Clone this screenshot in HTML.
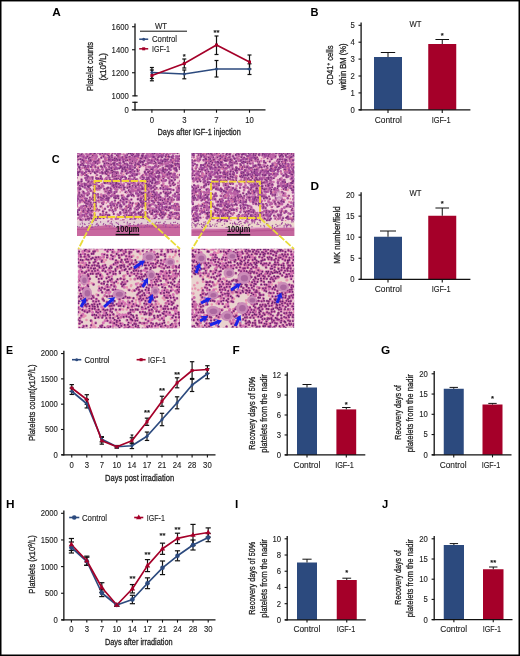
<!DOCTYPE html>
<html lang="en"><head><meta charset="utf-8"><title>Figure</title>
<style>html,body{margin:0;padding:0;background:#fff}body{width:520px;height:656px;overflow:hidden}svg{display:block}text{font-family:"Liberation Sans",sans-serif}</style>
</head><body>
<svg width="520" height="656" viewBox="0 0 520 656">
<rect x="0" y="0" width="520" height="656" fill="#fff"/>
<text transform="translate(52.3 15.5) scale(1 1)" font-size="11.8" font-weight="bold" fill="#000">A</text>
<line x1="135" y1="23.4" x2="135" y2="96.3" stroke="#111" stroke-width="1.3"/>
<line x1="135" y1="101.8" x2="135" y2="110.4" stroke="#111" stroke-width="1.3"/>
<line x1="132.3" y1="95.85" x2="137.6" y2="95.85" stroke="#111" stroke-width="1.2"/>
<line x1="132.3" y1="102.3" x2="137.6" y2="102.3" stroke="#111" stroke-width="1.2"/>
<line x1="131.8" y1="109.85" x2="265.5" y2="109.85" stroke="#111" stroke-width="1.3"/>
<line x1="132" y1="26.75" x2="135" y2="26.75" stroke="#111" stroke-width="1.1"/>
<text x="128.8" y="29.68" font-size="8.6" text-anchor="end" fill="#222" stroke="#222" stroke-width="0.12" textLength="17.21" lengthAdjust="spacingAndGlyphs">1600</text>
<line x1="132" y1="49.75" x2="135" y2="49.75" stroke="#111" stroke-width="1.1"/>
<text x="128.8" y="52.68" font-size="8.6" text-anchor="end" fill="#222" stroke="#222" stroke-width="0.12" textLength="17.21" lengthAdjust="spacingAndGlyphs">1400</text>
<line x1="132" y1="72.75" x2="135" y2="72.75" stroke="#111" stroke-width="1.1"/>
<text x="128.8" y="75.68" font-size="8.6" text-anchor="end" fill="#222" stroke="#222" stroke-width="0.12" textLength="17.21" lengthAdjust="spacingAndGlyphs">1200</text>
<text x="128.8" y="98.68" font-size="8.6" text-anchor="end" fill="#222" stroke="#222" stroke-width="0.12" textLength="17.21" lengthAdjust="spacingAndGlyphs">1000</text>
<text x="128.8" y="112.78" font-size="8.6" text-anchor="end" fill="#222" stroke="#222" stroke-width="0.12" textLength="4.3" lengthAdjust="spacingAndGlyphs">0</text>
<line x1="151.9" y1="109.85" x2="151.9" y2="112.7" stroke="#111" stroke-width="1.1"/>
<text x="151.9" y="122.68" font-size="8.6" text-anchor="middle" fill="#222" stroke="#222" stroke-width="0.12" textLength="4.3" lengthAdjust="spacingAndGlyphs">0</text>
<line x1="184.3" y1="109.85" x2="184.3" y2="112.7" stroke="#111" stroke-width="1.1"/>
<text x="184.3" y="122.68" font-size="8.6" text-anchor="middle" fill="#222" stroke="#222" stroke-width="0.12" textLength="4.3" lengthAdjust="spacingAndGlyphs">3</text>
<line x1="216.5" y1="109.85" x2="216.5" y2="112.7" stroke="#111" stroke-width="1.1"/>
<text x="216.5" y="122.68" font-size="8.6" text-anchor="middle" fill="#222" stroke="#222" stroke-width="0.12" textLength="4.3" lengthAdjust="spacingAndGlyphs">7</text>
<line x1="249.5" y1="109.85" x2="249.5" y2="112.7" stroke="#111" stroke-width="1.1"/>
<text x="249.5" y="122.68" font-size="8.6" text-anchor="middle" fill="#222" stroke="#222" stroke-width="0.12" textLength="8.61" lengthAdjust="spacingAndGlyphs">10</text>
<text x="157.5" y="135.4" font-size="9.9" fill="#222" stroke="#222" stroke-width="0.3" textLength="83.3" lengthAdjust="spacingAndGlyphs">Days after IGF-1 injection</text>
<text transform="translate(93.3 66.5) rotate(-90)" x="-24.5" y="0" font-size="9.9" fill="#222" stroke="#222" stroke-width="0.3" textLength="49" lengthAdjust="spacingAndGlyphs">Platelet counts</text>
<text transform="translate(106.4 66.8) rotate(-90)" x="-13.8" y="0" font-size="9.9" fill="#222" stroke="#222" stroke-width="0.3" textLength="27.6" lengthAdjust="spacingAndGlyphs">(x10<tspan font-size="6" dy="-3">9</tspan><tspan dy="3">/L)</tspan></text>
<text x="161" y="28.6" font-size="8.8" text-anchor="middle" fill="#222" stroke="#222" stroke-width="0.12" textLength="12.2" lengthAdjust="spacingAndGlyphs">WT</text>
<line x1="140" y1="31.2" x2="187" y2="31.2" stroke="#111" stroke-width="1"/>
<line x1="139.2" y1="39.2" x2="148.2" y2="39.2" stroke="#2c4a7e" stroke-width="1.5"/>
<circle cx="143.7" cy="39.2" r="1.5" fill="#2c4a7e"/>
<text x="152" y="42.2" font-size="8.4" text-anchor="start" fill="#222" stroke="#222" stroke-width="0.12" textLength="25" lengthAdjust="spacingAndGlyphs">Control</text>
<line x1="139.2" y1="48.8" x2="148.2" y2="48.8" stroke="#a50029" stroke-width="1.5"/>
<rect x="142.2" y="47.3" width="3" height="3" fill="#a50029"/>
<text x="152" y="51.8" font-size="8.4" text-anchor="start" fill="#222" stroke="#222" stroke-width="0.12" textLength="18" lengthAdjust="spacingAndGlyphs">IGF-1</text>
<line x1="151.9" y1="67.5" x2="151.9" y2="78.5" stroke="#111" stroke-width="1.2"/>
<line x1="149.9" y1="67.5" x2="153.9" y2="67.5" stroke="#111" stroke-width="1.2"/>
<line x1="149.9" y1="78.5" x2="153.9" y2="78.5" stroke="#111" stroke-width="1.2"/>
<line x1="184.3" y1="70" x2="184.3" y2="78.8" stroke="#111" stroke-width="1.2"/>
<line x1="182.3" y1="70" x2="186.3" y2="70" stroke="#111" stroke-width="1.2"/>
<line x1="182.3" y1="78.8" x2="186.3" y2="78.8" stroke="#111" stroke-width="1.2"/>
<line x1="216.5" y1="60.5" x2="216.5" y2="77" stroke="#111" stroke-width="1.2"/>
<line x1="214.5" y1="60.5" x2="218.5" y2="60.5" stroke="#111" stroke-width="1.2"/>
<line x1="214.5" y1="77" x2="218.5" y2="77" stroke="#111" stroke-width="1.2"/>
<line x1="249.5" y1="63.8" x2="249.5" y2="74.5" stroke="#111" stroke-width="1.2"/>
<line x1="247.5" y1="63.8" x2="251.5" y2="63.8" stroke="#111" stroke-width="1.2"/>
<line x1="247.5" y1="74.5" x2="251.5" y2="74.5" stroke="#111" stroke-width="1.2"/>
<line x1="151.9" y1="70" x2="151.9" y2="80.8" stroke="#111" stroke-width="1.2"/>
<line x1="149.9" y1="70" x2="153.9" y2="70" stroke="#111" stroke-width="1.2"/>
<line x1="149.9" y1="80.8" x2="153.9" y2="80.8" stroke="#111" stroke-width="1.2"/>
<line x1="184.3" y1="59" x2="184.3" y2="68" stroke="#111" stroke-width="1.2"/>
<line x1="182.3" y1="59" x2="186.3" y2="59" stroke="#111" stroke-width="1.2"/>
<line x1="182.3" y1="68" x2="186.3" y2="68" stroke="#111" stroke-width="1.2"/>
<line x1="216.5" y1="36" x2="216.5" y2="54.5" stroke="#111" stroke-width="1.2"/>
<line x1="214.5" y1="36" x2="218.5" y2="36" stroke="#111" stroke-width="1.2"/>
<line x1="214.5" y1="54.5" x2="218.5" y2="54.5" stroke="#111" stroke-width="1.2"/>
<line x1="249.5" y1="55" x2="249.5" y2="69" stroke="#111" stroke-width="1.2"/>
<line x1="247.5" y1="55" x2="251.5" y2="55" stroke="#111" stroke-width="1.2"/>
<line x1="247.5" y1="69" x2="251.5" y2="69" stroke="#111" stroke-width="1.2"/>
<polyline fill="none" stroke="#2c4a7e" stroke-width="1.6" points="151.9,72.5 184.3,74 216.5,69 249.5,69"/>
<polyline fill="none" stroke="#a50029" stroke-width="1.6" points="151.9,75.5 184.3,63.5 216.5,45 249.5,62"/>
<circle cx="151.9" cy="72.5" r="1.5" fill="#2c4a7e"/>
<circle cx="184.3" cy="74" r="1.5" fill="#2c4a7e"/>
<circle cx="216.5" cy="69" r="1.5" fill="#2c4a7e"/>
<circle cx="249.5" cy="69" r="1.5" fill="#2c4a7e"/>
<rect x="150.4" y="74" width="3" height="3" fill="#a50029"/>
<rect x="182.8" y="62" width="3" height="3" fill="#a50029"/>
<rect x="215" y="43.5" width="3" height="3" fill="#a50029"/>
<rect x="248" y="60.5" width="3" height="3" fill="#a50029"/>
<text x="184.3" y="59.3" font-size="7.6" text-anchor="middle" font-weight="bold" fill="#111" stroke="#111" stroke-width="0.12">*</text>
<text x="216.5" y="35.3" font-size="7.6" text-anchor="middle" font-weight="bold" fill="#111" stroke="#111" stroke-width="0.12">**</text>
<text transform="translate(310.5 15.5) scale(0.94 1)" font-size="11.8" font-weight="bold" fill="#000">B</text>
<rect x="374" y="57" width="28" height="52.8" fill="#2c4a7e"/>
<line x1="388" y1="52.5" x2="388" y2="57" stroke="#111" stroke-width="1"/>
<line x1="380.8" y1="52.5" x2="395.2" y2="52.5" stroke="#111" stroke-width="1"/>
<rect x="428.25" y="44" width="28" height="65.8" fill="#a50029"/>
<line x1="442.25" y1="39.5" x2="442.25" y2="44" stroke="#111" stroke-width="1"/>
<line x1="435.45" y1="39.5" x2="449.05" y2="39.5" stroke="#111" stroke-width="1"/>
<text x="442.25" y="38.4" font-size="7.6" text-anchor="middle" font-weight="bold" fill="#111" stroke="#111" stroke-width="0.12">*</text>
<line x1="361.1" y1="22.4" x2="361.1" y2="110.4" stroke="#111" stroke-width="1.3"/>
<line x1="358.7" y1="109.8" x2="470.4" y2="109.8" stroke="#111" stroke-width="1.3"/>
<line x1="358.5" y1="109.8" x2="361.1" y2="109.8" stroke="#111" stroke-width="1.1"/>
<text x="354.8" y="112.73" font-size="8.6" text-anchor="end" fill="#222" stroke="#222" stroke-width="0.12" textLength="4.3" lengthAdjust="spacingAndGlyphs">0</text>
<line x1="358.5" y1="92.9" x2="361.1" y2="92.9" stroke="#111" stroke-width="1.1"/>
<text x="354.8" y="95.83" font-size="8.6" text-anchor="end" fill="#222" stroke="#222" stroke-width="0.12" textLength="4.3" lengthAdjust="spacingAndGlyphs">1</text>
<line x1="358.5" y1="76" x2="361.1" y2="76" stroke="#111" stroke-width="1.1"/>
<text x="354.8" y="78.93" font-size="8.6" text-anchor="end" fill="#222" stroke="#222" stroke-width="0.12" textLength="4.3" lengthAdjust="spacingAndGlyphs">2</text>
<line x1="358.5" y1="59.1" x2="361.1" y2="59.1" stroke="#111" stroke-width="1.1"/>
<text x="354.8" y="62.03" font-size="8.6" text-anchor="end" fill="#222" stroke="#222" stroke-width="0.12" textLength="4.3" lengthAdjust="spacingAndGlyphs">3</text>
<line x1="358.5" y1="42.2" x2="361.1" y2="42.2" stroke="#111" stroke-width="1.1"/>
<text x="354.8" y="45.13" font-size="8.6" text-anchor="end" fill="#222" stroke="#222" stroke-width="0.12" textLength="4.3" lengthAdjust="spacingAndGlyphs">4</text>
<line x1="358.5" y1="25.3" x2="361.1" y2="25.3" stroke="#111" stroke-width="1.1"/>
<text x="354.8" y="28.23" font-size="8.6" text-anchor="end" fill="#222" stroke="#222" stroke-width="0.12" textLength="4.3" lengthAdjust="spacingAndGlyphs">5</text>
<line x1="388" y1="109.8" x2="388" y2="113" stroke="#111" stroke-width="1.1"/>
<text x="388.25" y="122.68" font-size="8.6" text-anchor="middle" fill="#222" stroke="#222" stroke-width="0.12" textLength="27.1" lengthAdjust="spacingAndGlyphs">Control</text>
<line x1="442.25" y1="109.8" x2="442.25" y2="113" stroke="#111" stroke-width="1.1"/>
<text x="441.2" y="122.68" font-size="8.6" text-anchor="middle" fill="#222" stroke="#222" stroke-width="0.12" textLength="19" lengthAdjust="spacingAndGlyphs">IGF-1</text>
<text x="415.4" y="26.65" font-size="8.6" text-anchor="middle" fill="#222" stroke="#222" stroke-width="0.12" textLength="12" lengthAdjust="spacingAndGlyphs">WT</text>
<text transform="translate(332.9 65.3) rotate(-90)" x="-19.75" y="0" font-size="9.9" fill="#222" stroke="#222" stroke-width="0.3" textLength="39.5" lengthAdjust="spacingAndGlyphs">CD41<tspan font-size="6" dy="-3">+</tspan><tspan dy="3"> cells</tspan></text>
<text transform="translate(345.9 66.8) rotate(-90)" x="-23.25" y="0" font-size="9.9" fill="#222" stroke="#222" stroke-width="0.3" textLength="46.5" lengthAdjust="spacingAndGlyphs">within BM (%)</text>
<text transform="translate(310.5 189.9) scale(1 1)" font-size="11.8" font-weight="bold" fill="#000">D</text>
<rect x="374" y="236.75" width="28" height="42.55" fill="#2c4a7e"/>
<line x1="388" y1="231" x2="388" y2="236.75" stroke="#111" stroke-width="1"/>
<line x1="380" y1="231" x2="396" y2="231" stroke="#111" stroke-width="1"/>
<rect x="428.25" y="215.75" width="28" height="63.55" fill="#a50029"/>
<line x1="442.25" y1="208" x2="442.25" y2="215.75" stroke="#111" stroke-width="1"/>
<line x1="435.45" y1="208" x2="449.05" y2="208" stroke="#111" stroke-width="1"/>
<text x="442.25" y="205.9" font-size="7.6" text-anchor="middle" font-weight="bold" fill="#111" stroke="#111" stroke-width="0.12">*</text>
<line x1="361.1" y1="192.2" x2="361.1" y2="279.9" stroke="#111" stroke-width="1.3"/>
<line x1="358.7" y1="279.3" x2="470.4" y2="279.3" stroke="#111" stroke-width="1.3"/>
<line x1="358.5" y1="279.3" x2="361.1" y2="279.3" stroke="#111" stroke-width="1.1"/>
<text x="354.6" y="282.23" font-size="8.6" text-anchor="end" fill="#222" stroke="#222" stroke-width="0.12" textLength="4.3" lengthAdjust="spacingAndGlyphs">0</text>
<line x1="358.5" y1="258.25" x2="361.1" y2="258.25" stroke="#111" stroke-width="1.1"/>
<text x="354.6" y="261.18" font-size="8.6" text-anchor="end" fill="#222" stroke="#222" stroke-width="0.12" textLength="4.3" lengthAdjust="spacingAndGlyphs">5</text>
<line x1="358.5" y1="237.2" x2="361.1" y2="237.2" stroke="#111" stroke-width="1.1"/>
<text x="354.6" y="240.13" font-size="8.6" text-anchor="end" fill="#222" stroke="#222" stroke-width="0.12" textLength="8.61" lengthAdjust="spacingAndGlyphs">10</text>
<line x1="358.5" y1="216.15" x2="361.1" y2="216.15" stroke="#111" stroke-width="1.1"/>
<text x="354.6" y="219.08" font-size="8.6" text-anchor="end" fill="#222" stroke="#222" stroke-width="0.12" textLength="8.61" lengthAdjust="spacingAndGlyphs">15</text>
<line x1="358.5" y1="195.1" x2="361.1" y2="195.1" stroke="#111" stroke-width="1.1"/>
<text x="354.6" y="198.03" font-size="8.6" text-anchor="end" fill="#222" stroke="#222" stroke-width="0.12" textLength="8.61" lengthAdjust="spacingAndGlyphs">20</text>
<line x1="388" y1="279.3" x2="388" y2="282.5" stroke="#111" stroke-width="1.1"/>
<text x="388.25" y="292.18" font-size="8.6" text-anchor="middle" fill="#222" stroke="#222" stroke-width="0.12" textLength="27.1" lengthAdjust="spacingAndGlyphs">Control</text>
<line x1="442.25" y1="279.3" x2="442.25" y2="282.5" stroke="#111" stroke-width="1.1"/>
<text x="441.2" y="292.18" font-size="8.6" text-anchor="middle" fill="#222" stroke="#222" stroke-width="0.12" textLength="19" lengthAdjust="spacingAndGlyphs">IGF-1</text>
<text x="415.4" y="195.9" font-size="8.6" text-anchor="middle" fill="#222" stroke="#222" stroke-width="0.12" textLength="12" lengthAdjust="spacingAndGlyphs">WT</text>
<text transform="translate(340.1 235.1) rotate(-90)" x="-28.65" y="0" font-size="9.9" fill="#222" stroke="#222" stroke-width="0.3" textLength="57.3" lengthAdjust="spacingAndGlyphs">MK number/field</text>
<text transform="translate(232.5 354.3) scale(1 1)" font-size="11.8" font-weight="bold" fill="#000">F</text>
<rect x="297" y="387.5" width="20" height="67.4" fill="#2c4a7e"/>
<line x1="307" y1="384.5" x2="307" y2="387.5" stroke="#111" stroke-width="1"/>
<line x1="302.5" y1="384.5" x2="311.5" y2="384.5" stroke="#111" stroke-width="1"/>
<rect x="336.4" y="409.4" width="19.8" height="45.5" fill="#a50029"/>
<line x1="346.3" y1="407.5" x2="346.3" y2="409.4" stroke="#111" stroke-width="1"/>
<line x1="342.1" y1="407.5" x2="350.5" y2="407.5" stroke="#111" stroke-width="1"/>
<text x="346.3" y="406.6" font-size="7.6" text-anchor="middle" font-weight="bold" fill="#111" stroke="#111" stroke-width="0.12">*</text>
<line x1="287.2" y1="372.2" x2="287.2" y2="455.5" stroke="#111" stroke-width="1.3"/>
<line x1="284.8" y1="454.9" x2="365.3" y2="454.9" stroke="#111" stroke-width="1.3"/>
<line x1="284.6" y1="454.9" x2="287.2" y2="454.9" stroke="#111" stroke-width="1.1"/>
<text x="281.1" y="457.83" font-size="8.6" text-anchor="end" fill="#222" stroke="#222" stroke-width="0.12" textLength="4.3" lengthAdjust="spacingAndGlyphs">0</text>
<line x1="284.6" y1="434.95" x2="287.2" y2="434.95" stroke="#111" stroke-width="1.1"/>
<text x="281.1" y="437.88" font-size="8.6" text-anchor="end" fill="#222" stroke="#222" stroke-width="0.12" textLength="4.3" lengthAdjust="spacingAndGlyphs">3</text>
<line x1="284.6" y1="415" x2="287.2" y2="415" stroke="#111" stroke-width="1.1"/>
<text x="281.1" y="417.93" font-size="8.6" text-anchor="end" fill="#222" stroke="#222" stroke-width="0.12" textLength="4.3" lengthAdjust="spacingAndGlyphs">6</text>
<line x1="284.6" y1="395.05" x2="287.2" y2="395.05" stroke="#111" stroke-width="1.1"/>
<text x="281.1" y="397.98" font-size="8.6" text-anchor="end" fill="#222" stroke="#222" stroke-width="0.12" textLength="4.3" lengthAdjust="spacingAndGlyphs">9</text>
<line x1="284.6" y1="375.1" x2="287.2" y2="375.1" stroke="#111" stroke-width="1.1"/>
<text x="281.1" y="378.03" font-size="8.6" text-anchor="end" fill="#222" stroke="#222" stroke-width="0.12" textLength="8.61" lengthAdjust="spacingAndGlyphs">12</text>
<line x1="307" y1="454.9" x2="307" y2="457.5" stroke="#111" stroke-width="1.1"/>
<text x="306.88" y="468.18" font-size="8.6" text-anchor="middle" fill="#222" stroke="#222" stroke-width="0.12" textLength="26.85" lengthAdjust="spacingAndGlyphs">Control</text>
<line x1="346.3" y1="454.9" x2="346.3" y2="457.5" stroke="#111" stroke-width="1.1"/>
<text x="344.5" y="468.18" font-size="8.6" text-anchor="middle" fill="#222" stroke="#222" stroke-width="0.12" textLength="18.6" lengthAdjust="spacingAndGlyphs">IGF-1</text>
<text transform="translate(255 413.2) rotate(-90)" x="-36.5" y="0" font-size="9.9" fill="#222" stroke="#222" stroke-width="0.3" textLength="73" lengthAdjust="spacingAndGlyphs">Recovery days of 50%</text>
<text transform="translate(266.8 413.5) rotate(-90)" x="-39.25" y="0" font-size="9.9" fill="#222" stroke="#222" stroke-width="0.3" textLength="78.5" lengthAdjust="spacingAndGlyphs">platelets from the nadir</text>
<text transform="translate(381.1 354.3) scale(1 1)" font-size="11.8" font-weight="bold" fill="#000">G</text>
<rect x="443.75" y="388.75" width="20" height="66.05" fill="#2c4a7e"/>
<line x1="453.75" y1="387.4" x2="453.75" y2="388.75" stroke="#111" stroke-width="1"/>
<line x1="449.55" y1="387.4" x2="457.95" y2="387.4" stroke="#111" stroke-width="1"/>
<rect x="482.5" y="404.5" width="20" height="50.3" fill="#a50029"/>
<line x1="492.5" y1="403.4" x2="492.5" y2="404.5" stroke="#111" stroke-width="1"/>
<line x1="488.3" y1="403.4" x2="496.7" y2="403.4" stroke="#111" stroke-width="1"/>
<text x="492.5" y="401.4" font-size="7.6" text-anchor="middle" font-weight="bold" fill="#111" stroke="#111" stroke-width="0.12">*</text>
<line x1="434.2" y1="370.9" x2="434.2" y2="455.4" stroke="#111" stroke-width="1.3"/>
<line x1="431.8" y1="454.8" x2="511.5" y2="454.8" stroke="#111" stroke-width="1.3"/>
<line x1="431.6" y1="454.8" x2="434.2" y2="454.8" stroke="#111" stroke-width="1.1"/>
<text x="427.8" y="457.73" font-size="8.6" text-anchor="end" fill="#222" stroke="#222" stroke-width="0.12" textLength="4.3" lengthAdjust="spacingAndGlyphs">0</text>
<line x1="431.6" y1="434.55" x2="434.2" y2="434.55" stroke="#111" stroke-width="1.1"/>
<text x="427.8" y="437.48" font-size="8.6" text-anchor="end" fill="#222" stroke="#222" stroke-width="0.12" textLength="4.3" lengthAdjust="spacingAndGlyphs">5</text>
<line x1="431.6" y1="414.3" x2="434.2" y2="414.3" stroke="#111" stroke-width="1.1"/>
<text x="427.8" y="417.23" font-size="8.6" text-anchor="end" fill="#222" stroke="#222" stroke-width="0.12" textLength="8.61" lengthAdjust="spacingAndGlyphs">10</text>
<line x1="431.6" y1="394.05" x2="434.2" y2="394.05" stroke="#111" stroke-width="1.1"/>
<text x="427.8" y="396.98" font-size="8.6" text-anchor="end" fill="#222" stroke="#222" stroke-width="0.12" textLength="8.61" lengthAdjust="spacingAndGlyphs">15</text>
<line x1="431.6" y1="373.8" x2="434.2" y2="373.8" stroke="#111" stroke-width="1.1"/>
<text x="427.8" y="376.73" font-size="8.6" text-anchor="end" fill="#222" stroke="#222" stroke-width="0.12" textLength="8.61" lengthAdjust="spacingAndGlyphs">20</text>
<line x1="453.75" y1="454.8" x2="453.75" y2="457.4" stroke="#111" stroke-width="1.1"/>
<text x="453.12" y="468.18" font-size="8.6" text-anchor="middle" fill="#222" stroke="#222" stroke-width="0.12" textLength="26.85" lengthAdjust="spacingAndGlyphs">Control</text>
<line x1="492.5" y1="454.8" x2="492.5" y2="457.4" stroke="#111" stroke-width="1.1"/>
<text x="491" y="468.18" font-size="8.6" text-anchor="middle" fill="#222" stroke="#222" stroke-width="0.12" textLength="18.6" lengthAdjust="spacingAndGlyphs">IGF-1</text>
<text transform="translate(400.9 412.4) rotate(-90)" x="-27.25" y="0" font-size="9.9" fill="#222" stroke="#222" stroke-width="0.3" textLength="54.5" lengthAdjust="spacingAndGlyphs">Recovery days of</text>
<text transform="translate(412.6 413.2) rotate(-90)" x="-39" y="0" font-size="9.9" fill="#222" stroke="#222" stroke-width="0.3" textLength="78" lengthAdjust="spacingAndGlyphs">platelets from the nadir</text>
<text transform="translate(234.9 508.1) scale(1 1)" font-size="11.8" font-weight="bold" fill="#000">I</text>
<rect x="297" y="562.5" width="20" height="57.4" fill="#2c4a7e"/>
<line x1="307" y1="559.2" x2="307" y2="562.5" stroke="#111" stroke-width="1"/>
<line x1="302.4" y1="559.2" x2="311.6" y2="559.2" stroke="#111" stroke-width="1"/>
<rect x="336.75" y="580" width="20" height="39.9" fill="#a50029"/>
<line x1="346.75" y1="578.2" x2="346.75" y2="580" stroke="#111" stroke-width="1"/>
<line x1="342.35" y1="578.2" x2="351.15" y2="578.2" stroke="#111" stroke-width="1"/>
<text x="346.75" y="575.4" font-size="7.6" text-anchor="middle" font-weight="bold" fill="#111" stroke="#111" stroke-width="0.12">*</text>
<line x1="287.2" y1="535.9" x2="287.2" y2="620.5" stroke="#111" stroke-width="1.3"/>
<line x1="284.8" y1="619.9" x2="365.8" y2="619.9" stroke="#111" stroke-width="1.3"/>
<line x1="284.6" y1="619.9" x2="287.2" y2="619.9" stroke="#111" stroke-width="1.1"/>
<text x="281.1" y="622.83" font-size="8.6" text-anchor="end" fill="#222" stroke="#222" stroke-width="0.12" textLength="4.3" lengthAdjust="spacingAndGlyphs">0</text>
<line x1="284.6" y1="603.68" x2="287.2" y2="603.68" stroke="#111" stroke-width="1.1"/>
<text x="281.1" y="606.61" font-size="8.6" text-anchor="end" fill="#222" stroke="#222" stroke-width="0.12" textLength="4.3" lengthAdjust="spacingAndGlyphs">2</text>
<line x1="284.6" y1="587.46" x2="287.2" y2="587.46" stroke="#111" stroke-width="1.1"/>
<text x="281.1" y="590.39" font-size="8.6" text-anchor="end" fill="#222" stroke="#222" stroke-width="0.12" textLength="4.3" lengthAdjust="spacingAndGlyphs">4</text>
<line x1="284.6" y1="571.24" x2="287.2" y2="571.24" stroke="#111" stroke-width="1.1"/>
<text x="281.1" y="574.17" font-size="8.6" text-anchor="end" fill="#222" stroke="#222" stroke-width="0.12" textLength="4.3" lengthAdjust="spacingAndGlyphs">6</text>
<line x1="284.6" y1="555.02" x2="287.2" y2="555.02" stroke="#111" stroke-width="1.1"/>
<text x="281.1" y="557.95" font-size="8.6" text-anchor="end" fill="#222" stroke="#222" stroke-width="0.12" textLength="4.3" lengthAdjust="spacingAndGlyphs">8</text>
<line x1="284.6" y1="538.8" x2="287.2" y2="538.8" stroke="#111" stroke-width="1.1"/>
<text x="281.1" y="541.73" font-size="8.6" text-anchor="end" fill="#222" stroke="#222" stroke-width="0.12" textLength="8.61" lengthAdjust="spacingAndGlyphs">10</text>
<line x1="307" y1="619.9" x2="307" y2="622.5" stroke="#111" stroke-width="1.1"/>
<text x="306.88" y="632.28" font-size="8.6" text-anchor="middle" fill="#222" stroke="#222" stroke-width="0.12" textLength="26.85" lengthAdjust="spacingAndGlyphs">Control</text>
<line x1="346.75" y1="619.9" x2="346.75" y2="622.5" stroke="#111" stroke-width="1.1"/>
<text x="346" y="632.28" font-size="8.6" text-anchor="middle" fill="#222" stroke="#222" stroke-width="0.12" textLength="18.6" lengthAdjust="spacingAndGlyphs">IGF-1</text>
<text transform="translate(255 578.2) rotate(-90)" x="-36.5" y="0" font-size="9.9" fill="#222" stroke="#222" stroke-width="0.3" textLength="73" lengthAdjust="spacingAndGlyphs">Recovery days of 50%</text>
<text transform="translate(266.8 578.5) rotate(-90)" x="-39.25" y="0" font-size="9.9" fill="#222" stroke="#222" stroke-width="0.3" textLength="78.5" lengthAdjust="spacingAndGlyphs">platelets from the nadir</text>
<text transform="translate(381.9 508.1) scale(0.95 1)" font-size="11.8" font-weight="bold" fill="#000">J</text>
<rect x="443.75" y="545" width="20.25" height="74.6" fill="#2c4a7e"/>
<line x1="453.88" y1="543.6" x2="453.88" y2="545" stroke="#111" stroke-width="1"/>
<line x1="449.68" y1="543.6" x2="458.07" y2="543.6" stroke="#111" stroke-width="1"/>
<rect x="483" y="569.25" width="20.5" height="50.35" fill="#a50029"/>
<line x1="493.25" y1="567" x2="493.25" y2="569.25" stroke="#111" stroke-width="1"/>
<line x1="489.05" y1="567" x2="497.45" y2="567" stroke="#111" stroke-width="1"/>
<text x="493.25" y="564.6" font-size="7.6" text-anchor="middle" font-weight="bold" fill="#111" stroke="#111" stroke-width="0.12">**</text>
<line x1="434.2" y1="535.9" x2="434.2" y2="620.2" stroke="#111" stroke-width="1.3"/>
<line x1="431.8" y1="619.6" x2="512.5" y2="619.6" stroke="#111" stroke-width="1.3"/>
<line x1="431.6" y1="619.6" x2="434.2" y2="619.6" stroke="#111" stroke-width="1.1"/>
<text x="427.8" y="622.53" font-size="8.6" text-anchor="end" fill="#222" stroke="#222" stroke-width="0.12" textLength="4.3" lengthAdjust="spacingAndGlyphs">0</text>
<line x1="431.6" y1="599.4" x2="434.2" y2="599.4" stroke="#111" stroke-width="1.1"/>
<text x="427.8" y="602.33" font-size="8.6" text-anchor="end" fill="#222" stroke="#222" stroke-width="0.12" textLength="4.3" lengthAdjust="spacingAndGlyphs">5</text>
<line x1="431.6" y1="579.2" x2="434.2" y2="579.2" stroke="#111" stroke-width="1.1"/>
<text x="427.8" y="582.13" font-size="8.6" text-anchor="end" fill="#222" stroke="#222" stroke-width="0.12" textLength="8.61" lengthAdjust="spacingAndGlyphs">10</text>
<line x1="431.6" y1="559" x2="434.2" y2="559" stroke="#111" stroke-width="1.1"/>
<text x="427.8" y="561.93" font-size="8.6" text-anchor="end" fill="#222" stroke="#222" stroke-width="0.12" textLength="8.61" lengthAdjust="spacingAndGlyphs">15</text>
<line x1="431.6" y1="538.8" x2="434.2" y2="538.8" stroke="#111" stroke-width="1.1"/>
<text x="427.8" y="541.73" font-size="8.6" text-anchor="end" fill="#222" stroke="#222" stroke-width="0.12" textLength="8.61" lengthAdjust="spacingAndGlyphs">20</text>
<line x1="453.88" y1="619.6" x2="453.88" y2="622.2" stroke="#111" stroke-width="1.1"/>
<text x="453.62" y="632.28" font-size="8.6" text-anchor="middle" fill="#222" stroke="#222" stroke-width="0.12" textLength="26.85" lengthAdjust="spacingAndGlyphs">Control</text>
<line x1="493.25" y1="619.6" x2="493.25" y2="622.2" stroke="#111" stroke-width="1.1"/>
<text x="491.88" y="632.28" font-size="8.6" text-anchor="middle" fill="#222" stroke="#222" stroke-width="0.12" textLength="18.35" lengthAdjust="spacingAndGlyphs">IGF-1</text>
<text transform="translate(400.9 577.4) rotate(-90)" x="-27.25" y="0" font-size="9.9" fill="#222" stroke="#222" stroke-width="0.3" textLength="54.5" lengthAdjust="spacingAndGlyphs">Recovery days of</text>
<text transform="translate(412.6 578.2) rotate(-90)" x="-39" y="0" font-size="9.9" fill="#222" stroke="#222" stroke-width="0.3" textLength="78" lengthAdjust="spacingAndGlyphs">platelets from the nadir</text>
<text transform="translate(6.1 354.1) scale(0.9 1)" font-size="11.8" font-weight="bold" fill="#000">E</text>
<line x1="63.85" y1="350.86" x2="63.85" y2="455.4" stroke="#111" stroke-width="1.3"/>
<line x1="61.45" y1="454.8" x2="215.5" y2="454.8" stroke="#111" stroke-width="1.3"/>
<line x1="61.05" y1="454.8" x2="63.85" y2="454.8" stroke="#111" stroke-width="1.1"/>
<text x="57.9" y="457.73" font-size="8.6" text-anchor="end" fill="#222" stroke="#222" stroke-width="0.12" textLength="4.3" lengthAdjust="spacingAndGlyphs">0</text>
<line x1="61.05" y1="429.49" x2="63.85" y2="429.49" stroke="#111" stroke-width="1.1"/>
<text x="57.9" y="432.42" font-size="8.6" text-anchor="end" fill="#222" stroke="#222" stroke-width="0.12" textLength="12.91" lengthAdjust="spacingAndGlyphs">500</text>
<line x1="61.05" y1="404.18" x2="63.85" y2="404.18" stroke="#111" stroke-width="1.1"/>
<text x="57.9" y="407.11" font-size="8.6" text-anchor="end" fill="#222" stroke="#222" stroke-width="0.12" textLength="17.21" lengthAdjust="spacingAndGlyphs">1000</text>
<line x1="61.05" y1="378.87" x2="63.85" y2="378.87" stroke="#111" stroke-width="1.1"/>
<text x="57.9" y="381.8" font-size="8.6" text-anchor="end" fill="#222" stroke="#222" stroke-width="0.12" textLength="17.21" lengthAdjust="spacingAndGlyphs">1500</text>
<line x1="61.05" y1="353.56" x2="63.85" y2="353.56" stroke="#111" stroke-width="1.1"/>
<text x="57.9" y="356.49" font-size="8.6" text-anchor="end" fill="#222" stroke="#222" stroke-width="0.12" textLength="17.21" lengthAdjust="spacingAndGlyphs">2000</text>
<line x1="71.75" y1="454.8" x2="71.75" y2="457.5" stroke="#111" stroke-width="1.1"/>
<text x="71.75" y="467.68" font-size="8.6" text-anchor="middle" fill="#222" stroke="#222" stroke-width="0.12" textLength="4.3" lengthAdjust="spacingAndGlyphs">0</text>
<line x1="86.8" y1="454.8" x2="86.8" y2="457.5" stroke="#111" stroke-width="1.1"/>
<text x="86.8" y="467.68" font-size="8.6" text-anchor="middle" fill="#222" stroke="#222" stroke-width="0.12" textLength="4.3" lengthAdjust="spacingAndGlyphs">3</text>
<line x1="101.8" y1="454.8" x2="101.8" y2="457.5" stroke="#111" stroke-width="1.1"/>
<text x="101.8" y="467.68" font-size="8.6" text-anchor="middle" fill="#222" stroke="#222" stroke-width="0.12" textLength="4.3" lengthAdjust="spacingAndGlyphs">7</text>
<line x1="116.8" y1="454.8" x2="116.8" y2="457.5" stroke="#111" stroke-width="1.1"/>
<text x="116.8" y="467.68" font-size="8.6" text-anchor="middle" fill="#222" stroke="#222" stroke-width="0.12" textLength="8.61" lengthAdjust="spacingAndGlyphs">10</text>
<line x1="131.9" y1="454.8" x2="131.9" y2="457.5" stroke="#111" stroke-width="1.1"/>
<text x="131.9" y="467.68" font-size="8.6" text-anchor="middle" fill="#222" stroke="#222" stroke-width="0.12" textLength="8.61" lengthAdjust="spacingAndGlyphs">14</text>
<line x1="147" y1="454.8" x2="147" y2="457.5" stroke="#111" stroke-width="1.1"/>
<text x="147" y="467.68" font-size="8.6" text-anchor="middle" fill="#222" stroke="#222" stroke-width="0.12" textLength="8.61" lengthAdjust="spacingAndGlyphs">17</text>
<line x1="162" y1="454.8" x2="162" y2="457.5" stroke="#111" stroke-width="1.1"/>
<text x="162" y="467.68" font-size="8.6" text-anchor="middle" fill="#222" stroke="#222" stroke-width="0.12" textLength="8.61" lengthAdjust="spacingAndGlyphs">21</text>
<line x1="177.1" y1="454.8" x2="177.1" y2="457.5" stroke="#111" stroke-width="1.1"/>
<text x="177.1" y="467.68" font-size="8.6" text-anchor="middle" fill="#222" stroke="#222" stroke-width="0.12" textLength="8.61" lengthAdjust="spacingAndGlyphs">24</text>
<line x1="192.1" y1="454.8" x2="192.1" y2="457.5" stroke="#111" stroke-width="1.1"/>
<text x="192.1" y="467.68" font-size="8.6" text-anchor="middle" fill="#222" stroke="#222" stroke-width="0.12" textLength="8.61" lengthAdjust="spacingAndGlyphs">28</text>
<line x1="207.4" y1="454.8" x2="207.4" y2="457.5" stroke="#111" stroke-width="1.1"/>
<text x="207.4" y="467.68" font-size="8.6" text-anchor="middle" fill="#222" stroke="#222" stroke-width="0.12" textLength="8.61" lengthAdjust="spacingAndGlyphs">30</text>
<line x1="71.75" y1="388.05" x2="71.75" y2="394.45" stroke="#111" stroke-width="1.2"/>
<line x1="69.55" y1="388.05" x2="73.95" y2="388.05" stroke="#111" stroke-width="1.2"/>
<line x1="69.55" y1="394.45" x2="73.95" y2="394.45" stroke="#111" stroke-width="1.2"/>
<line x1="86.8" y1="399.55" x2="86.8" y2="407.95" stroke="#111" stroke-width="1.2"/>
<line x1="84.6" y1="399.55" x2="89" y2="399.55" stroke="#111" stroke-width="1.2"/>
<line x1="84.6" y1="407.95" x2="89" y2="407.95" stroke="#111" stroke-width="1.2"/>
<line x1="101.8" y1="436.65" x2="101.8" y2="441.85" stroke="#111" stroke-width="1.2"/>
<line x1="99.6" y1="436.65" x2="104" y2="436.65" stroke="#111" stroke-width="1.2"/>
<line x1="99.6" y1="441.85" x2="104" y2="441.85" stroke="#111" stroke-width="1.2"/>
<line x1="116.8" y1="445.55" x2="116.8" y2="447.95" stroke="#111" stroke-width="1.2"/>
<line x1="114.6" y1="445.55" x2="119" y2="445.55" stroke="#111" stroke-width="1.2"/>
<line x1="114.6" y1="447.95" x2="119" y2="447.95" stroke="#111" stroke-width="1.2"/>
<line x1="131.9" y1="442.95" x2="131.9" y2="448.55" stroke="#111" stroke-width="1.2"/>
<line x1="129.7" y1="442.95" x2="134.1" y2="442.95" stroke="#111" stroke-width="1.2"/>
<line x1="129.7" y1="448.55" x2="134.1" y2="448.55" stroke="#111" stroke-width="1.2"/>
<line x1="147" y1="432.05" x2="147" y2="440.45" stroke="#111" stroke-width="1.2"/>
<line x1="144.8" y1="432.05" x2="149.2" y2="432.05" stroke="#111" stroke-width="1.2"/>
<line x1="144.8" y1="440.45" x2="149.2" y2="440.45" stroke="#111" stroke-width="1.2"/>
<line x1="162" y1="413.3" x2="162" y2="425.7" stroke="#111" stroke-width="1.2"/>
<line x1="159.8" y1="413.3" x2="164.2" y2="413.3" stroke="#111" stroke-width="1.2"/>
<line x1="159.8" y1="425.7" x2="164.2" y2="425.7" stroke="#111" stroke-width="1.2"/>
<line x1="177.1" y1="396.8" x2="177.1" y2="408.8" stroke="#111" stroke-width="1.2"/>
<line x1="174.9" y1="396.8" x2="179.3" y2="396.8" stroke="#111" stroke-width="1.2"/>
<line x1="174.9" y1="408.8" x2="179.3" y2="408.8" stroke="#111" stroke-width="1.2"/>
<line x1="192.1" y1="378.5" x2="192.1" y2="391.5" stroke="#111" stroke-width="1.2"/>
<line x1="189.9" y1="378.5" x2="194.3" y2="378.5" stroke="#111" stroke-width="1.2"/>
<line x1="189.9" y1="391.5" x2="194.3" y2="391.5" stroke="#111" stroke-width="1.2"/>
<line x1="207.4" y1="368.75" x2="207.4" y2="378.75" stroke="#111" stroke-width="1.2"/>
<line x1="205.2" y1="368.75" x2="209.6" y2="368.75" stroke="#111" stroke-width="1.2"/>
<line x1="205.2" y1="378.75" x2="209.6" y2="378.75" stroke="#111" stroke-width="1.2"/>
<line x1="71.75" y1="384.6" x2="71.75" y2="391.4" stroke="#111" stroke-width="1.2"/>
<line x1="69.55" y1="384.6" x2="73.95" y2="384.6" stroke="#111" stroke-width="1.2"/>
<line x1="69.55" y1="391.4" x2="73.95" y2="391.4" stroke="#111" stroke-width="1.2"/>
<line x1="86.8" y1="394.7" x2="86.8" y2="404.3" stroke="#111" stroke-width="1.2"/>
<line x1="84.6" y1="394.7" x2="89" y2="394.7" stroke="#111" stroke-width="1.2"/>
<line x1="84.6" y1="404.3" x2="89" y2="404.3" stroke="#111" stroke-width="1.2"/>
<line x1="101.8" y1="437.35" x2="101.8" y2="444.15" stroke="#111" stroke-width="1.2"/>
<line x1="99.6" y1="437.35" x2="104" y2="437.35" stroke="#111" stroke-width="1.2"/>
<line x1="99.6" y1="444.15" x2="104" y2="444.15" stroke="#111" stroke-width="1.2"/>
<line x1="116.8" y1="445.55" x2="116.8" y2="447.95" stroke="#111" stroke-width="1.2"/>
<line x1="114.6" y1="445.55" x2="119" y2="445.55" stroke="#111" stroke-width="1.2"/>
<line x1="114.6" y1="447.95" x2="119" y2="447.95" stroke="#111" stroke-width="1.2"/>
<line x1="131.9" y1="437.75" x2="131.9" y2="443.75" stroke="#111" stroke-width="1.2"/>
<line x1="129.7" y1="437.75" x2="134.1" y2="437.75" stroke="#111" stroke-width="1.2"/>
<line x1="129.7" y1="443.75" x2="134.1" y2="443.75" stroke="#111" stroke-width="1.2"/>
<line x1="147" y1="418.15" x2="147" y2="425.35" stroke="#111" stroke-width="1.2"/>
<line x1="144.8" y1="418.15" x2="149.2" y2="418.15" stroke="#111" stroke-width="1.2"/>
<line x1="144.8" y1="425.35" x2="149.2" y2="425.35" stroke="#111" stroke-width="1.2"/>
<line x1="162" y1="396.25" x2="162" y2="406.25" stroke="#111" stroke-width="1.2"/>
<line x1="159.8" y1="396.25" x2="164.2" y2="396.25" stroke="#111" stroke-width="1.2"/>
<line x1="159.8" y1="406.25" x2="164.2" y2="406.25" stroke="#111" stroke-width="1.2"/>
<line x1="177.1" y1="377.8" x2="177.1" y2="387.8" stroke="#111" stroke-width="1.2"/>
<line x1="174.9" y1="377.8" x2="179.3" y2="377.8" stroke="#111" stroke-width="1.2"/>
<line x1="174.9" y1="387.8" x2="179.3" y2="387.8" stroke="#111" stroke-width="1.2"/>
<line x1="192.1" y1="361.7" x2="192.1" y2="379.3" stroke="#111" stroke-width="1.2"/>
<line x1="189.9" y1="361.7" x2="194.3" y2="361.7" stroke="#111" stroke-width="1.2"/>
<line x1="189.9" y1="379.3" x2="194.3" y2="379.3" stroke="#111" stroke-width="1.2"/>
<line x1="207.4" y1="365.7" x2="207.4" y2="373.3" stroke="#111" stroke-width="1.2"/>
<line x1="205.2" y1="365.7" x2="209.6" y2="365.7" stroke="#111" stroke-width="1.2"/>
<line x1="205.2" y1="373.3" x2="209.6" y2="373.3" stroke="#111" stroke-width="1.2"/>
<polyline fill="none" stroke="#2c4a7e" stroke-width="1.7" stroke-linejoin="round" points="71.75,391.25 86.8,403.75 101.8,439.25 116.8,446.75 131.9,445.75 147,436.25 162,419.5 177.1,402.8 192.1,385 207.4,373.75"/>
<polyline fill="none" stroke="#a50029" stroke-width="1.7" stroke-linejoin="round" points="71.75,388 86.8,399.5 101.8,440.75 116.8,446.75 131.9,440.75 147,421.75 162,401.25 177.1,382.8 192.1,370.5 207.4,369.5"/>
<circle cx="71.75" cy="391.25" r="1.5" fill="#2c4a7e"/>
<circle cx="86.8" cy="403.75" r="1.5" fill="#2c4a7e"/>
<circle cx="101.8" cy="439.25" r="1.5" fill="#2c4a7e"/>
<circle cx="116.8" cy="446.75" r="1.5" fill="#2c4a7e"/>
<circle cx="131.9" cy="445.75" r="1.5" fill="#2c4a7e"/>
<circle cx="147" cy="436.25" r="1.5" fill="#2c4a7e"/>
<circle cx="162" cy="419.5" r="1.5" fill="#2c4a7e"/>
<circle cx="177.1" cy="402.8" r="1.5" fill="#2c4a7e"/>
<circle cx="192.1" cy="385" r="1.5" fill="#2c4a7e"/>
<circle cx="207.4" cy="373.75" r="1.5" fill="#2c4a7e"/>
<rect x="70.25" y="386.5" width="3" height="3" fill="#a50029"/>
<rect x="85.3" y="398" width="3" height="3" fill="#a50029"/>
<rect x="100.3" y="439.25" width="3" height="3" fill="#a50029"/>
<rect x="115.3" y="445.25" width="3" height="3" fill="#a50029"/>
<rect x="130.4" y="439.25" width="3" height="3" fill="#a50029"/>
<rect x="145.5" y="420.25" width="3" height="3" fill="#a50029"/>
<rect x="160.5" y="399.75" width="3" height="3" fill="#a50029"/>
<rect x="175.6" y="381.3" width="3" height="3" fill="#a50029"/>
<rect x="190.6" y="369" width="3" height="3" fill="#a50029"/>
<rect x="205.9" y="368" width="3" height="3" fill="#a50029"/>
<text x="131.9" y="438.8" font-size="7.6" text-anchor="middle" font-weight="bold" fill="#111" stroke="#111" stroke-width="0.12">*</text>
<text x="147" y="415.3" font-size="7.6" text-anchor="middle" font-weight="bold" fill="#111" stroke="#111" stroke-width="0.12">**</text>
<text x="162" y="392.5" font-size="7.6" text-anchor="middle" font-weight="bold" fill="#111" stroke="#111" stroke-width="0.12">**</text>
<text x="177.1" y="377.1" font-size="7.6" text-anchor="middle" font-weight="bold" fill="#111" stroke="#111" stroke-width="0.12">**</text>
<text x="105" y="480.8" font-size="9.9" fill="#222" stroke="#222" stroke-width="0.3" textLength="69.2" lengthAdjust="spacingAndGlyphs">Days post irradiation</text>
<text transform="translate(34.8 402.7) rotate(-90)" x="-38.3" y="0" font-size="9.9" fill="#222" stroke="#222" stroke-width="0.3" textLength="76.6" lengthAdjust="spacingAndGlyphs">Platelets count(x10<tspan font-size="6" dy="-3">9</tspan><tspan dy="3">/L)</tspan></text>
<line x1="72" y1="359.7" x2="81.3" y2="359.7" stroke="#2c4a7e" stroke-width="1.6"/>
<circle cx="76.7" cy="359.7" r="1.5" fill="#2c4a7e"/>
<text x="84.5" y="362.9" font-size="8.4" text-anchor="start" fill="#222" stroke="#222" stroke-width="0.12" textLength="25" lengthAdjust="spacingAndGlyphs">Control</text>
<line x1="136.6" y1="359.7" x2="145.6" y2="359.7" stroke="#a50029" stroke-width="1.6"/>
<rect x="139.6" y="358.2" width="3" height="3" fill="#a50029"/>
<text x="148" y="362.9" font-size="8.4" text-anchor="start" fill="#222" stroke="#222" stroke-width="0.12" textLength="18" lengthAdjust="spacingAndGlyphs">IGF-1</text>
<text transform="translate(5.9 508.1) scale(1 1)" font-size="11.8" font-weight="bold" fill="#000">H</text>
<line x1="63.85" y1="510.6" x2="63.85" y2="620.5" stroke="#111" stroke-width="1.3"/>
<line x1="61.45" y1="619.9" x2="215.5" y2="619.9" stroke="#111" stroke-width="1.3"/>
<line x1="61.05" y1="619.9" x2="63.85" y2="619.9" stroke="#111" stroke-width="1.1"/>
<text x="57.9" y="622.83" font-size="8.6" text-anchor="end" fill="#222" stroke="#222" stroke-width="0.12" textLength="4.3" lengthAdjust="spacingAndGlyphs">0</text>
<line x1="61.05" y1="593.25" x2="63.85" y2="593.25" stroke="#111" stroke-width="1.1"/>
<text x="57.9" y="596.18" font-size="8.6" text-anchor="end" fill="#222" stroke="#222" stroke-width="0.12" textLength="12.91" lengthAdjust="spacingAndGlyphs">500</text>
<line x1="61.05" y1="566.6" x2="63.85" y2="566.6" stroke="#111" stroke-width="1.1"/>
<text x="57.9" y="569.53" font-size="8.6" text-anchor="end" fill="#222" stroke="#222" stroke-width="0.12" textLength="17.21" lengthAdjust="spacingAndGlyphs">1000</text>
<line x1="61.05" y1="539.95" x2="63.85" y2="539.95" stroke="#111" stroke-width="1.1"/>
<text x="57.9" y="542.88" font-size="8.6" text-anchor="end" fill="#222" stroke="#222" stroke-width="0.12" textLength="17.21" lengthAdjust="spacingAndGlyphs">1500</text>
<line x1="61.05" y1="513.3" x2="63.85" y2="513.3" stroke="#111" stroke-width="1.1"/>
<text x="57.9" y="516.23" font-size="8.6" text-anchor="end" fill="#222" stroke="#222" stroke-width="0.12" textLength="17.21" lengthAdjust="spacingAndGlyphs">2000</text>
<line x1="71.4" y1="619.9" x2="71.4" y2="622.6" stroke="#111" stroke-width="1.1"/>
<text x="71.4" y="632.48" font-size="8.6" text-anchor="middle" fill="#222" stroke="#222" stroke-width="0.12" textLength="4.3" lengthAdjust="spacingAndGlyphs">0</text>
<line x1="86.8" y1="619.9" x2="86.8" y2="622.6" stroke="#111" stroke-width="1.1"/>
<text x="86.8" y="632.48" font-size="8.6" text-anchor="middle" fill="#222" stroke="#222" stroke-width="0.12" textLength="4.3" lengthAdjust="spacingAndGlyphs">3</text>
<line x1="101.8" y1="619.9" x2="101.8" y2="622.6" stroke="#111" stroke-width="1.1"/>
<text x="101.8" y="632.48" font-size="8.6" text-anchor="middle" fill="#222" stroke="#222" stroke-width="0.12" textLength="4.3" lengthAdjust="spacingAndGlyphs">7</text>
<line x1="116.8" y1="619.9" x2="116.8" y2="622.6" stroke="#111" stroke-width="1.1"/>
<text x="116.8" y="632.48" font-size="8.6" text-anchor="middle" fill="#222" stroke="#222" stroke-width="0.12" textLength="8.61" lengthAdjust="spacingAndGlyphs">10</text>
<line x1="132.4" y1="619.9" x2="132.4" y2="622.6" stroke="#111" stroke-width="1.1"/>
<text x="132.4" y="632.48" font-size="8.6" text-anchor="middle" fill="#222" stroke="#222" stroke-width="0.12" textLength="8.61" lengthAdjust="spacingAndGlyphs">14</text>
<line x1="147.5" y1="619.9" x2="147.5" y2="622.6" stroke="#111" stroke-width="1.1"/>
<text x="147.5" y="632.48" font-size="8.6" text-anchor="middle" fill="#222" stroke="#222" stroke-width="0.12" textLength="8.61" lengthAdjust="spacingAndGlyphs">17</text>
<line x1="162.5" y1="619.9" x2="162.5" y2="622.6" stroke="#111" stroke-width="1.1"/>
<text x="162.5" y="632.48" font-size="8.6" text-anchor="middle" fill="#222" stroke="#222" stroke-width="0.12" textLength="8.61" lengthAdjust="spacingAndGlyphs">21</text>
<line x1="177.5" y1="619.9" x2="177.5" y2="622.6" stroke="#111" stroke-width="1.1"/>
<text x="177.5" y="632.48" font-size="8.6" text-anchor="middle" fill="#222" stroke="#222" stroke-width="0.12" textLength="8.61" lengthAdjust="spacingAndGlyphs">24</text>
<line x1="193" y1="619.9" x2="193" y2="622.6" stroke="#111" stroke-width="1.1"/>
<text x="193" y="632.48" font-size="8.6" text-anchor="middle" fill="#222" stroke="#222" stroke-width="0.12" textLength="8.61" lengthAdjust="spacingAndGlyphs">28</text>
<line x1="208.2" y1="619.9" x2="208.2" y2="622.6" stroke="#111" stroke-width="1.1"/>
<text x="208.2" y="632.48" font-size="8.6" text-anchor="middle" fill="#222" stroke="#222" stroke-width="0.12" textLength="8.61" lengthAdjust="spacingAndGlyphs">30</text>
<line x1="71.4" y1="542" x2="71.4" y2="553" stroke="#111" stroke-width="1.2"/>
<line x1="68.8" y1="542" x2="74" y2="542" stroke="#111" stroke-width="1.2"/>
<line x1="68.8" y1="553" x2="74" y2="553" stroke="#111" stroke-width="1.2"/>
<line x1="86.8" y1="557.25" x2="86.8" y2="565.25" stroke="#111" stroke-width="1.2"/>
<line x1="84.2" y1="557.25" x2="89.4" y2="557.25" stroke="#111" stroke-width="1.2"/>
<line x1="84.2" y1="565.25" x2="89.4" y2="565.25" stroke="#111" stroke-width="1.2"/>
<line x1="101.8" y1="589.4" x2="101.8" y2="596.6" stroke="#111" stroke-width="1.2"/>
<line x1="99.2" y1="589.4" x2="104.4" y2="589.4" stroke="#111" stroke-width="1.2"/>
<line x1="99.2" y1="596.6" x2="104.4" y2="596.6" stroke="#111" stroke-width="1.2"/>
<line x1="116.8" y1="603.8" x2="116.8" y2="606.2" stroke="#111" stroke-width="1.2"/>
<line x1="114.2" y1="603.8" x2="119.4" y2="603.8" stroke="#111" stroke-width="1.2"/>
<line x1="114.2" y1="606.2" x2="119.4" y2="606.2" stroke="#111" stroke-width="1.2"/>
<line x1="132.4" y1="595.3" x2="132.4" y2="603.7" stroke="#111" stroke-width="1.2"/>
<line x1="129.8" y1="595.3" x2="135" y2="595.3" stroke="#111" stroke-width="1.2"/>
<line x1="129.8" y1="603.7" x2="135" y2="603.7" stroke="#111" stroke-width="1.2"/>
<line x1="147.5" y1="577.85" x2="147.5" y2="588.65" stroke="#111" stroke-width="1.2"/>
<line x1="144.9" y1="577.85" x2="150.1" y2="577.85" stroke="#111" stroke-width="1.2"/>
<line x1="144.9" y1="588.65" x2="150.1" y2="588.65" stroke="#111" stroke-width="1.2"/>
<line x1="162.5" y1="561" x2="162.5" y2="574.6" stroke="#111" stroke-width="1.2"/>
<line x1="159.9" y1="561" x2="165.1" y2="561" stroke="#111" stroke-width="1.2"/>
<line x1="159.9" y1="574.6" x2="165.1" y2="574.6" stroke="#111" stroke-width="1.2"/>
<line x1="177.5" y1="550.8" x2="177.5" y2="560.8" stroke="#111" stroke-width="1.2"/>
<line x1="174.9" y1="550.8" x2="180.1" y2="550.8" stroke="#111" stroke-width="1.2"/>
<line x1="174.9" y1="560.8" x2="180.1" y2="560.8" stroke="#111" stroke-width="1.2"/>
<line x1="193" y1="540" x2="193" y2="550" stroke="#111" stroke-width="1.2"/>
<line x1="190.4" y1="540" x2="195.6" y2="540" stroke="#111" stroke-width="1.2"/>
<line x1="190.4" y1="550" x2="195.6" y2="550" stroke="#111" stroke-width="1.2"/>
<line x1="208.2" y1="533.3" x2="208.2" y2="541.7" stroke="#111" stroke-width="1.2"/>
<line x1="205.6" y1="533.3" x2="210.8" y2="533.3" stroke="#111" stroke-width="1.2"/>
<line x1="205.6" y1="541.7" x2="210.8" y2="541.7" stroke="#111" stroke-width="1.2"/>
<line x1="71.4" y1="538.5" x2="71.4" y2="550.5" stroke="#111" stroke-width="1.2"/>
<line x1="68.8" y1="538.5" x2="74" y2="538.5" stroke="#111" stroke-width="1.2"/>
<line x1="68.8" y1="550.5" x2="74" y2="550.5" stroke="#111" stroke-width="1.2"/>
<line x1="86.8" y1="556.15" x2="86.8" y2="565.35" stroke="#111" stroke-width="1.2"/>
<line x1="84.2" y1="556.15" x2="89.4" y2="556.15" stroke="#111" stroke-width="1.2"/>
<line x1="84.2" y1="565.35" x2="89.4" y2="565.35" stroke="#111" stroke-width="1.2"/>
<line x1="101.8" y1="582.7" x2="101.8" y2="592.3" stroke="#111" stroke-width="1.2"/>
<line x1="99.2" y1="582.7" x2="104.4" y2="582.7" stroke="#111" stroke-width="1.2"/>
<line x1="99.2" y1="592.3" x2="104.4" y2="592.3" stroke="#111" stroke-width="1.2"/>
<line x1="116.8" y1="603.8" x2="116.8" y2="606.2" stroke="#111" stroke-width="1.2"/>
<line x1="114.2" y1="603.8" x2="119.4" y2="603.8" stroke="#111" stroke-width="1.2"/>
<line x1="114.2" y1="606.2" x2="119.4" y2="606.2" stroke="#111" stroke-width="1.2"/>
<line x1="132.4" y1="584.55" x2="132.4" y2="592.95" stroke="#111" stroke-width="1.2"/>
<line x1="129.8" y1="584.55" x2="135" y2="584.55" stroke="#111" stroke-width="1.2"/>
<line x1="129.8" y1="592.95" x2="135" y2="592.95" stroke="#111" stroke-width="1.2"/>
<line x1="147.5" y1="559.6" x2="147.5" y2="571.6" stroke="#111" stroke-width="1.2"/>
<line x1="144.9" y1="559.6" x2="150.1" y2="559.6" stroke="#111" stroke-width="1.2"/>
<line x1="144.9" y1="571.6" x2="150.1" y2="571.6" stroke="#111" stroke-width="1.2"/>
<line x1="162.5" y1="543.15" x2="162.5" y2="554.35" stroke="#111" stroke-width="1.2"/>
<line x1="159.9" y1="543.15" x2="165.1" y2="543.15" stroke="#111" stroke-width="1.2"/>
<line x1="159.9" y1="554.35" x2="165.1" y2="554.35" stroke="#111" stroke-width="1.2"/>
<line x1="177.5" y1="533.2" x2="177.5" y2="543.6" stroke="#111" stroke-width="1.2"/>
<line x1="174.9" y1="533.2" x2="180.1" y2="533.2" stroke="#111" stroke-width="1.2"/>
<line x1="174.9" y1="543.6" x2="180.1" y2="543.6" stroke="#111" stroke-width="1.2"/>
<line x1="193" y1="524.4" x2="193" y2="545.6" stroke="#111" stroke-width="1.2"/>
<line x1="190.4" y1="524.4" x2="195.6" y2="524.4" stroke="#111" stroke-width="1.2"/>
<line x1="190.4" y1="545.6" x2="195.6" y2="545.6" stroke="#111" stroke-width="1.2"/>
<line x1="208.2" y1="527.9" x2="208.2" y2="537.1" stroke="#111" stroke-width="1.2"/>
<line x1="205.6" y1="527.9" x2="210.8" y2="527.9" stroke="#111" stroke-width="1.2"/>
<line x1="205.6" y1="537.1" x2="210.8" y2="537.1" stroke="#111" stroke-width="1.2"/>
<polyline fill="none" stroke="#2c4a7e" stroke-width="1.7" stroke-linejoin="round" points="71.4,547.5 86.8,561.25 101.8,593 116.8,605 132.4,599.5 147.5,583.25 162.5,567.8 177.5,555.8 193,545 208.2,537.5"/>
<polyline fill="none" stroke="#a50029" stroke-width="1.7" stroke-linejoin="round" points="71.4,544.5 86.8,560.75 101.8,587.5 116.8,605 132.4,588.75 147.5,565.6 162.5,548.75 177.5,538.4 193,535 208.2,532.5"/>
<circle cx="71.4" cy="547.5" r="2.3" fill="#2c4a7e"/>
<circle cx="86.8" cy="561.25" r="2.3" fill="#2c4a7e"/>
<circle cx="101.8" cy="593" r="2.3" fill="#2c4a7e"/>
<circle cx="116.8" cy="605" r="2.3" fill="#2c4a7e"/>
<circle cx="132.4" cy="599.5" r="2.3" fill="#2c4a7e"/>
<circle cx="147.5" cy="583.25" r="2.3" fill="#2c4a7e"/>
<circle cx="162.5" cy="567.8" r="2.3" fill="#2c4a7e"/>
<circle cx="177.5" cy="555.8" r="2.3" fill="#2c4a7e"/>
<circle cx="193" cy="545" r="2.3" fill="#2c4a7e"/>
<circle cx="208.2" cy="537.5" r="2.3" fill="#2c4a7e"/>
<path d="M71.4 541.5l2.7 4.8h-5.4z" fill="#a50029"/>
<path d="M86.8 557.75l2.7 4.8h-5.4z" fill="#a50029"/>
<path d="M101.8 584.5l2.7 4.8h-5.4z" fill="#a50029"/>
<path d="M116.8 602l2.7 4.8h-5.4z" fill="#a50029"/>
<path d="M132.4 585.75l2.7 4.8h-5.4z" fill="#a50029"/>
<path d="M147.5 562.6l2.7 4.8h-5.4z" fill="#a50029"/>
<path d="M162.5 545.75l2.7 4.8h-5.4z" fill="#a50029"/>
<path d="M177.5 535.4l2.7 4.8h-5.4z" fill="#a50029"/>
<path d="M193 532l2.7 4.8h-5.4z" fill="#a50029"/>
<path d="M208.2 529.5l2.7 4.8h-5.4z" fill="#a50029"/>
<text x="132.4" y="580.7" font-size="7.6" text-anchor="middle" font-weight="bold" fill="#111" stroke="#111" stroke-width="0.12">**</text>
<text x="147.5" y="556.5" font-size="7.6" text-anchor="middle" font-weight="bold" fill="#111" stroke="#111" stroke-width="0.12">**</text>
<text x="162.5" y="538.3" font-size="7.6" text-anchor="middle" font-weight="bold" fill="#111" stroke="#111" stroke-width="0.12">**</text>
<text x="177.5" y="531.5" font-size="7.6" text-anchor="middle" font-weight="bold" fill="#111" stroke="#111" stroke-width="0.12">**</text>
<text x="105" y="645.4" font-size="9.9" fill="#222" stroke="#222" stroke-width="0.3" textLength="67.6" lengthAdjust="spacingAndGlyphs">Days after irradiation</text>
<text transform="translate(34.8 564.4) rotate(-90)" x="-29.3" y="0" font-size="9.9" fill="#222" stroke="#222" stroke-width="0.3" textLength="58.6" lengthAdjust="spacingAndGlyphs">Platelets (x10<tspan font-size="6" dy="-3">9</tspan><tspan dy="3">/L)</tspan></text>
<line x1="69.2" y1="517.5" x2="79.3" y2="517.5" stroke="#2c4a7e" stroke-width="1.6"/>
<circle cx="74.25" cy="517.5" r="2.3" fill="#2c4a7e"/>
<text x="82" y="520.7" font-size="8.4" text-anchor="start" fill="#222" stroke="#222" stroke-width="0.12" textLength="25" lengthAdjust="spacingAndGlyphs">Control</text>
<line x1="134.2" y1="517.5" x2="143.3" y2="517.5" stroke="#a50029" stroke-width="1.6"/>
<path d="M138.75 514.5l2.7 4.8h-5.4z" fill="#a50029"/>
<text x="146.8" y="520.7" font-size="8.4" text-anchor="start" fill="#222" stroke="#222" stroke-width="0.12" textLength="18" lengthAdjust="spacingAndGlyphs">IGF-1</text>
<text transform="translate(51.7 162.7) scale(0.93 1)" font-size="11.8" font-weight="bold" fill="#000">C</text>
<defs>
<clipPath id="c1"><rect x="77.1" y="152.9" width="103" height="83"/></clipPath>
<clipPath id="c2"><rect x="191.4" y="152.9" width="103" height="83"/></clipPath>
<clipPath id="c3"><rect x="77.8" y="248.8" width="102.2" height="79.4"/></clipPath>
<clipPath id="c4"><rect x="191.4" y="248.8" width="102.8" height="79"/></clipPath>
<filter id="bl" x="-5%" y="-5%" width="110%" height="110%"><feGaussianBlur stdDeviation="0.45"/></filter>
</defs>
<g clip-path="url(#c1)"><g filter="url(#bl)">
<rect x="73" y="149" width="111" height="91" fill="#f1d3da"/>
<path d="M89.7 153.7h0M107.6 153.1h0M112.3 153.5h0M134.3 153.2h0M144 152.4h0M169.9 153.7h0M178.9 152.2h0M77.6 155.6h0M102.9 155.8h0M123.6 154.5h0M152.3 155h0M180.1 155.8h0M77.7 156.7h0M78.9 156.6h0M85.5 157.4h0M93.4 157.4h0M95.2 156.3h0M114.7 157.9h0M124.5 157.4h0M161.5 157.2h0M167.6 156.5h0M179.4 156.4h0M181.2 157.5h0M78.1 159.3h0M83.5 159.1h0M90.2 159.6h0M94.4 159.4h0M121.9 158.5h0M140.1 158.7h0M142.9 158.6h0M145.8 158.7h0M152.2 159.1h0M154.5 159.4h0M172.8 158.6h0M174.8 159.6h0M180 159.1h0M85.1 160.6h0M103.3 161.4h0M110.4 161h0M114.6 161.7h0M117.9 160.4h0M122.9 160.4h0M132.3 161h0M149.6 160.4h0M158.9 161.2h0M180.3 161.5h0M77.3 163.9h0M83.5 163.1h0M86.4 162.6h0M108.8 163.5h0M110.7 163.7h0M119.6 162.8h0M133.3 163.1h0M137.7 163.9h0M143.1 162.4h0M153.6 163.5h0M164.7 163.5h0M166.3 163.1h0M170.6 162.6h0M180.7 163.5h0M105.2 165.6h0M107.7 164.8h0M111.4 164.9h0M121.5 166.1h0M158.8 166.1h0M160.3 165.5h0M82.5 167.8h0M84.8 167.7h0M102.4 167.3h0M104.9 166.6h0M130.7 167.7h0M139.3 167.1h0M146.2 167.4h0M155.2 166.8h0M179.3 167.2h0M79.7 168.8h0M80.6 169.6h0M95.9 170.1h0M107.5 169.7h0M124.7 168.8h0M148 169.9h0M155.5 169.9h0M156.5 169.4h0M159.4 170.2h0M169 168.7h0M173.8 169h0M90 171.5h0M97.9 171.7h0M107.1 171.3h0M132.5 170.7h0M90.6 173.1h0M105.7 174h0M137 173.9h0M139.1 173.6h0M163.6 173.7h0M165 172.7h0M173.7 173.8h0M81.7 175h0M97.1 175h0M112.7 175h0M116.8 176.1h0M120.8 176.4h0M122.4 175.7h0M148.4 175.4h0M164.7 175.2h0M167.8 175.3h0M176.3 176.3h0M76.5 178h0M91.8 177.3h0M107.2 177.7h0M116.7 177.9h0M118.1 178h0M130.1 178.3h0M143.4 177.4h0M154.2 177.2h0M160.6 177.4h0M167.5 177h0M175.8 177.3h0M177.5 177.4h0M87.8 180.1h0M90.2 179h0M92.6 179.1h0M104.9 179.7h0M109.6 180.3h0M141.8 180.5h0M161.7 180.5h0M87.8 182.5h0M97.7 181.6h0M120.5 181.5h0M124.6 180.9h0M137.3 181.1h0M138.7 182.5h0M144.6 181.6h0M171.2 181h0M173.3 182.3h0M180 181h0M80.5 183h0M87.6 184.5h0M102.3 184.1h0M108.3 183.4h0M120.8 184.2h0M123.8 183.8h0M133.4 183h0M143.1 183.8h0M154.7 183.8h0M163.4 183.8h0M174.8 184.3h0M178 183.2h0M77 185h0M93.6 185.7h0M97.9 186.1h0M120.3 185h0M127.6 185.9h0M138 185.2h0M147.2 185.9h0M153.6 186.1h0M161.7 185.3h0M167.3 186.6h0M113.6 187.8h0M114.2 187.8h0M116.8 187.2h0M123.5 187.8h0M132.7 187.5h0M136.9 188h0M163.7 187.1h0M176.6 187.8h0M93.9 189.2h0M95.1 189.3h0M99.4 189.4h0M105.4 190.1h0M122.1 190.2h0M124.2 189.5h0M153.7 190.7h0M78.7 191.6h0M93 191.7h0M105 191.4h0M106 191.7h0M129.3 191.4h0M163.7 192.1h0M165.8 192.1h0M176.8 191.8h0M181.9 192.8h0M76.3 193.9h0M79.3 194.2h0M88.8 193.6h0M101.2 194.6h0M105.2 194.8h0M144.1 193.6h0M150.6 194h0M169 193.7h0M79.9 196.7h0M82.4 196.2h0M95.9 195.4h0M108.9 195.3h0M123.1 196.2h0M140.8 196.6h0M151.8 196.5h0M83.2 197.3h0M90 197.7h0M91.9 198.9h0M100.3 198.4h0M138.5 198.7h0M156.9 197.8h0M129.3 200.8h0M162.4 200.2h0M170 199.5h0M93.7 202.9h0M96 202.8h0M99.3 201.9h0M102.1 202.9h0M138 203h0M146.9 203h0M154.2 202.4h0M157.5 202.1h0M161.4 202.6h0M142.8 204.2h0M151.9 204.2h0M166 203.6h0M167.4 204.6h0M181.1 204.2h0M91.8 206.8h0M93.8 206.8h0M100.4 206.4h0M101.3 206.1h0M110.6 205.5h0M115.8 207.1h0M126.5 206.2h0M131.9 206.2h0M142.1 207.1h0M147.4 207.1h0M150 207.1h0M90.1 208.3h0M94 208h0M116.9 207.7h0M120.5 208.5h0M130.1 209.1h0M151.9 208.5h0M153.3 208.7h0M166.4 207.8h0M168.9 208.2h0M174.9 207.8h0M81.9 210.3h0M87 211h0M92.7 210h0M95.7 210.6h0M99.3 210h0M103.1 210.9h0M128.8 210.9h0M136.6 209.9h0M165.4 209.6h0M168.6 210.4h0M177.3 210.1h0M80.7 213.3h0M82.9 212.1h0M91 212.8h0M144.4 213.1h0M156 211.8h0M178.2 213h0M182 213.2h0M78.8 214.7h0M80.8 214.7h0M94.1 214.2h0M124.8 213.7h0M126.5 214.9h0M127.6 215.1h0M151 214h0M164.7 214.7h0M173 213.9h0M180.7 214.7h0M84.6 216.6h0M87.7 216.5h0M108.4 216.1h0M117.1 217h0M131.2 215.7h0M132.9 216.4h0M153.7 215.8h0M168 217h0M172.5 216.2h0M175 217.4h0M175.8 216.9h0M181 215.9h0M77.3 218.5h0M82.7 219.4h0M85.6 219.1h0M94.9 218.3h0M97.6 218.2h0M111.5 219.1h0M131.5 218.1h0M135.9 218.2h0M175.5 218h0M178.7 219.4h0M182.1 219.3h0M120.8 221.1h0M127.6 221.2h0M144.4 221.4h0M177.2 220.3h0M178 219.9h0M77.7 222.7h0" stroke="#cc74ae" stroke-width="2.7" stroke-linecap="round" fill="none"/>
<path d="M78.6 152.9h0M87 152.2h0M97.8 152.9h0M100.2 152.9h0M102.1 153.2h0M103.1 152.3h0M105.5 153.5h0M109.2 152.7h0M132.1 153h0M137 152.8h0M138.5 153.3h0M142.9 153.5h0M147 153.4h0M148.9 152.6h0M151.5 152.9h0M154.7 153.2h0M156.5 153.5h0M163.5 152.8h0M166.9 153h0M171.7 152.5h0M173.2 152.8h0M174.6 153.1h0M177.5 152.9h0M181.5 152.3h0M82.1 154.5h0M83.6 155.7h0M86.5 154.5h0M88.5 155.3h0M93.7 155.3h0M96.1 155.3h0M104 155.1h0M107.3 154.5h0M112.1 155.8h0M117.1 155.2h0M120.3 154.3h0M127 154.6h0M133 154.8h0M138.7 155.1h0M143.3 155.5h0M147.8 155.2h0M150.5 154.6h0M153.2 154.8h0M156.6 155.5h0M157.8 154.7h0M166.1 155.1h0M182 154.5h0M81.5 156.3h0M87.4 156.6h0M89.6 157.8h0M91.9 157.1h0M96.8 156.7h0M104.1 156.9h0M105.6 157.9h0M109.4 156.9h0M112.1 157.2h0M115.2 157.6h0M118.4 157.6h0M120.6 157.6h0M128.2 157.3h0M129.7 156.8h0M133.1 157.2h0M134.7 156.6h0M140.9 157.9h0M142.7 157.3h0M145.2 157.4h0M149.1 156.7h0M151.2 156.5h0M157.8 157.6h0M158.5 157h0M162.3 156.7h0M165.8 156.8h0M176 156.4h0M88.9 158.7h0M91.8 159.6h0M95.7 158.4h0M98.8 159.4h0M105.1 159.1h0M106.1 159.9h0M115.1 160h0M125.2 159.1h0M127.6 160h0M130 159.3h0M131.1 158.4h0M133 159.7h0M134.9 158.7h0M137.1 159.3h0M141.5 158.4h0M147.9 159.3h0M149.5 160h0M155.2 158.8h0M157.4 159.7h0M160.8 159.9h0M161.3 159.9h0M168 159h0M176.2 158.3h0M178.2 158.7h0M81.2 161.8h0M84 161.1h0M86.6 161.4h0M91 161h0M94 161.2h0M97.7 160.7h0M105.1 161.5h0M111.1 161h0M116.6 160.8h0M120.3 160.6h0M125.9 160.5h0M128.7 160.5h0M130.4 160.7h0M134.6 161.4h0M135.7 161h0M147.5 161.1h0M152.1 160.5h0M154.2 160.9h0M164.9 161.9h0M169.1 161.9h0M171 160.9h0M172.9 160.4h0M181 161.4h0M82.3 163.6h0M87.9 163h0M90.5 163.5h0M93.2 163h0M94.9 163.1h0M97.3 163.4h0M99.3 162.4h0M107 163.2h0M113.2 163.7h0M123.5 162.4h0M125.3 164h0M129.9 163.3h0M131.4 163.3h0M135.7 163.4h0M138.7 162.8h0M140.8 162.5h0M146.3 164.1h0M148 163.4h0M150.4 162.5h0M151.6 163h0M155.7 163.2h0M158.5 162.8h0M168.1 163.3h0M174.7 163.7h0M178.1 163.8h0M93.7 164.5h0M95.2 166h0M101.3 166.1h0M109.9 164.7h0M115.1 165.6h0M119.6 165.5h0M123.3 165.3h0M125.9 164.6h0M132.1 165.7h0M144.9 165.1h0M146.3 164.5h0M156.3 164.8h0M162.5 164.6h0M165.8 164.6h0M166.6 165.7h0M177.7 165.9h0M182.3 165.1h0M92.2 166.6h0M95.2 167.3h0M97.9 167.7h0M101 166.5h0M105.9 168.2h0M108.8 166.6h0M112.5 167.3h0M114.9 167.3h0M132.7 166.8h0M148.6 166.8h0M150.1 167.2h0M152.6 167.5h0M162.8 167.9h0M165.7 166.5h0M168.2 166.7h0M174.1 168h0M183.1 166.8h0M76.8 169.2h0M85.6 169.5h0M88.7 169.6h0M92.1 169.6h0M92.9 169.9h0M98 169.4h0M99.5 170h0M102.3 169.2h0M102.8 169.7h0M106.4 169.7h0M109.4 169.2h0M114.7 168.8h0M122.6 169.3h0M128.5 169.2h0M137.2 169.4h0M146 169.7h0M150.7 169h0M160.3 169.6h0M176.7 169.8h0M181.8 170.1h0M77.9 171.8h0M79.7 171.7h0M82.4 171.8h0M92.4 171.4h0M102.1 172.1h0M108.2 171.9h0M111.5 171.1h0M113.5 171.6h0M114.8 172h0M117.4 172h0M125.5 171.1h0M126.9 170.8h0M134.6 171h0M149.8 171.4h0M152.4 171.8h0M153.3 170.9h0M159.6 172.3h0M162.4 170.9h0M165.4 171.4h0M168.9 172.2h0M182.5 171.2h0M82.9 173.8h0M84.9 173.1h0M95.5 173.1h0M100 172.8h0M103.9 173h0M107.3 174h0M110 173h0M114.4 174h0M116.3 173.9h0M118 173.2h0M121.3 173.3h0M130.6 172.9h0M134.7 173.7h0M145.1 173.2h0M149.4 173.4h0M151.4 173.5h0M154.4 174.2h0M158.7 172.9h0M161.8 173.2h0M171.2 173.5h0M115.2 176.1h0M119.1 175.9h0M129.7 176h0M132.8 176h0M141.9 176.2h0M143 175.2h0M146.4 175.3h0M152.5 175.2h0M154.5 174.8h0M155.3 176.3h0M162.9 175.6h0M166.5 175.1h0M170.1 176.3h0M173 174.8h0M87.5 177.7h0M89.6 177.5h0M92.7 177.3h0M97.8 178.3h0M101 178.3h0M106.2 178.4h0M112.5 176.8h0M114.5 178.4h0M134.5 177.5h0M140.6 177.8h0M156.3 177.2h0M158.7 177.1h0M164.4 176.8h0M168.5 177.8h0M171.9 176.8h0M81.5 179.6h0M98.9 179h0M106.6 180.3h0M110.6 180.1h0M113.1 180.2h0M114.6 179.2h0M119.8 180.4h0M123.8 180.3h0M127.7 180.3h0M128.9 178.8h0M131.3 179.6h0M136.1 179.5h0M137 179.4h0M154.2 179h0M163.4 178.8h0M169.8 179.6h0M182.7 179.3h0M78.7 182.1h0M88.7 181h0M95.3 181.9h0M98.8 182h0M107.5 182.1h0M110 182.3h0M116.2 182.2h0M118.1 181.2h0M126.1 181.8h0M128.8 181h0M130.8 181.3h0M132.3 181h0M134.1 182.4h0M141.1 181.6h0M142.6 181h0M147.3 181.7h0M150.8 181.4h0M155.7 182.4h0M158.8 181.7h0M162.8 181.3h0M164.7 180.9h0M169.6 181.7h0M82.2 184.1h0M84.4 183.6h0M90.1 183.3h0M92.8 183.6h0M96.5 184.3h0M104.9 183h0M106.3 183h0M110.5 184h0M129.8 184.1h0M132 182.9h0M135.1 183.7h0M138.1 183.9h0M142.2 183h0M147.1 184.6h0M156.6 183.9h0M158.7 183.2h0M169.7 183.3h0M172.6 183.9h0M182.1 184.3h0M79.7 185.9h0M82.7 186.4h0M101.9 185.6h0M103.2 186.3h0M112.4 185.7h0M117.2 186.3h0M121.9 185.1h0M123.5 185.5h0M129.7 186.4h0M132.6 186.2h0M133.8 185h0M135.9 185.7h0M154.7 186.1h0M162.3 185.9h0M165.3 186.3h0M170.5 185.7h0M178.1 186.3h0M180.1 185.5h0M78.4 188.1h0M86.6 188.6h0M95.1 187.1h0M98.8 188.4h0M101.2 187.4h0M106.9 188.6h0M110.4 187.9h0M124.6 187.3h0M127.4 187.7h0M129.7 187.4h0M131.5 188.1h0M139.1 187.4h0M143.8 188.2h0M146.3 187.9h0M146.9 187h0M149.6 187.6h0M151.6 187.9h0M156.4 188.2h0M162.9 188.7h0M166.6 187.6h0M167.5 188.3h0M180.6 188.3h0M182.2 187.8h0M79.3 189.6h0M80.4 189.1h0M87.4 189.8h0M90 189.3h0M97.4 189.4h0M104.2 189.2h0M107.9 190.6h0M115.3 189.1h0M117.2 189.5h0M130.9 190.7h0M131.9 189.7h0M134.1 189.7h0M137.1 190.5h0M140 189.2h0M141.8 189.3h0M148 189.8h0M150.8 189.2h0M155.3 189.2h0M170 189.1h0M171.2 189.6h0M173.4 190h0M177.4 190.1h0M179.4 190.7h0M79.3 192.6h0M82.8 191.7h0M83.5 192h0M88.4 192.1h0M93.8 192.2h0M116.3 191.6h0M130.5 192.2h0M132.9 191.4h0M135.6 191.3h0M136.7 192.3h0M145.5 192h0M148.3 192.7h0M149.2 191.6h0M156.6 192.7h0M167.9 192.4h0M178.2 192.2h0M81.6 194.8h0M84.7 193.5h0M86.8 193.5h0M93.3 194h0M109.7 193.2h0M112.4 194.6h0M114.6 193.4h0M128.5 194.8h0M132.8 194.7h0M140.7 194.3h0M148.6 194.4h0M152.6 194.5h0M156.8 194.1h0M160.7 193.2h0M178.1 194.5h0M178.9 194.5h0M181.9 194.7h0M84 195.9h0M93 196h0M95.2 196.7h0M101.1 196.8h0M104 196.8h0M106.6 196.3h0M112.8 195.4h0M114.9 195.8h0M117.3 195.8h0M121.8 195.6h0M131.9 195.3h0M133.8 196.1h0M137.7 195.9h0M143.6 196h0M146.5 196.3h0M147.7 196.1h0M149.7 196.1h0M154 196.3h0M157.2 195.7h0M165.6 196.4h0M173 195.5h0M176.9 196.2h0M179 195.4h0M181.3 195.5h0M183.4 195.7h0M77.5 197.3h0M80.8 197.4h0M86.6 198.8h0M94.9 198.3h0M98.1 197.6h0M101.5 197.4h0M102.8 198.8h0M106.5 198.3h0M109.1 198h0M118.2 198.1h0M124 197.5h0M142.3 197.6h0M145 198h0M151.6 197.8h0M155.2 198.6h0M158.4 197.6h0M160.8 197.5h0M162.8 198.7h0M164.9 198.9h0M169.7 197.4h0M171.8 198.2h0M90 200.1h0M93.2 200h0M93.8 200h0M96.1 200.6h0M103 199.7h0M105.2 199.7h0M115 200.7h0M120.7 200.5h0M124.4 200.4h0M127.2 199.4h0M131.4 199.6h0M141.1 200.6h0M143.9 199.9h0M148.3 199.6h0M149.2 200.5h0M151.9 200.7h0M154.6 200.4h0M158.6 199.7h0M164.8 200h0M165.6 200.6h0M168.2 200.9h0M171.8 200.2h0M173.6 199.6h0M177.1 199.7h0M180.6 199.7h0M76.3 202.6h0M79.8 202.3h0M80.3 201.8h0M84.9 202.4h0M86.7 201.8h0M89.2 201.9h0M90.6 202.3h0M108.1 201.4h0M112 202.1h0M119.6 202.9h0M122.7 202.1h0M123.6 203h0M132.9 203h0M144.1 203h0M149.1 202.5h0M163.3 202.6h0M165.6 201.5h0M167.5 201.9h0M171.4 201.4h0M77.3 203.7h0M86.3 203.9h0M87.9 203.6h0M95.7 203.6h0M103 203.9h0M114.8 203.6h0M124.3 203.8h0M129.1 204.9h0M136 203.8h0M138 205h0M148 204.5h0M153.4 204.1h0M158.7 204.5h0M159.9 203.9h0M177.9 204.7h0M76.8 205.9h0M81.4 206.5h0M85.6 206h0M89.4 205.9h0M114.1 205.8h0M128.2 207h0M136.5 206.8h0M137.8 205.7h0M156.9 206.4h0M161.7 206.2h0M162.3 206.8h0M166.5 207h0M169.5 207.1h0M175.6 205.5h0M177.3 206.9h0M179.5 206.9h0M79.8 208.2h0M81.9 207.7h0M84.2 209h0M85.4 207.6h0M88.3 208.6h0M104.9 208.9h0M111.4 207.7h0M115.2 208.6h0M125.3 208.9h0M126.6 208.3h0M130.7 208.2h0M134.8 208.6h0M139 207.8h0M149.6 209.1h0M156.6 207.6h0M159.3 208.8h0M172.8 208h0M176 208.1h0M178.6 208.4h0M83.2 210.7h0M85.2 209.9h0M96.9 209.6h0M109.5 210.2h0M112.3 210.4h0M123.5 210.1h0M126.4 210.5h0M130.6 209.6h0M142.5 210.4h0M150 211.1h0M155 209.6h0M159.7 209.7h0M160.9 210.9h0M163.4 210.2h0M166.9 210.2h0M175.1 209.6h0M179.3 210h0M180.9 210.6h0M84.3 212.2h0M86.8 212.9h0M91.9 211.8h0M106.4 212.5h0M113.1 211.8h0M123.7 212.4h0M125.4 212.7h0M127 212.4h0M130.1 212.7h0M131.9 213h0M133.8 212.6h0M134.7 211.7h0M147.2 213.3h0M165.6 213.3h0M171.8 212.5h0M181 213.2h0M91.3 215.2h0M94.6 215.1h0M100.3 214.4h0M103.3 214.2h0M106 214.5h0M109.2 215h0M113.9 214h0M117.8 214.5h0M130.1 215.1h0M131.7 214.6h0M135 215.3h0M142.7 214.6h0M144 214.6h0M155.6 215h0M156.8 214h0M169.1 215.1h0M171.8 214h0M177.2 214.8h0M179.6 215.1h0M80.1 216.4h0M81.5 216.6h0M86.7 216.1h0M94.8 216.1h0M100.1 216.8h0M102.3 215.7h0M104.4 216.2h0M136.2 216.3h0M140.3 216.5h0M143.3 216.4h0M160.4 215.8h0M162.7 217.1h0M163.4 216.6h0M179.3 217.2h0M183.4 216.3h0M79.1 217.8h0M80.3 219.2h0M89.1 218.6h0M103.6 217.8h0M115.9 218.8h0M117.9 218.4h0M130.7 219h0M141.4 217.9h0M142.8 218.3h0M149.1 217.9h0M161.8 218.1h0M162.3 219.2h0M170.5 218.1h0M177.6 219.3h0M80.6 220.1h0M81.9 221.1h0M85.9 220.2h0M93.6 220.6h0M95.7 220.5h0M108.5 221.4h0M132.1 220.2h0M133.4 220.5h0M148.2 220.7h0M153.6 221.5h0M162.3 220.8h0M166.3 220.4h0M170.1 220.1h0M174.8 221.4h0M112.6 222h0" stroke="#b95fa4" stroke-width="2.7" stroke-linecap="round" fill="none"/>
<path d="M77.3 152.3h0M80.6 152.2h0M82.6 152.3h0M85.5 152.2h0M91.2 152.8h0M93.4 152.8h0M94.9 153.1h0M114.6 152.7h0M115.2 153.4h0M118.2 153.6h0M119.5 153h0M128.8 153.3h0M130.9 153.5h0M140.9 152.3h0M152.8 153.2h0M159.8 152.9h0M161.7 152.6h0M164.4 152.5h0M80.2 155.2h0M90.3 154.3h0M92.8 155h0M100.2 154.3h0M108.3 154.9h0M111.6 155.6h0M118.5 155.9h0M125.5 155.7h0M131.8 155.3h0M135.9 155.7h0M137.4 154.7h0M141.9 155.6h0M146.2 155.8h0M159.5 155.9h0M161.4 155.2h0M163.3 155.2h0M167.8 154.8h0M172.8 155.6h0M83.5 157.2h0M101.3 157.7h0M108.5 157.5h0M122.5 157.4h0M126.2 157.6h0M137.1 156.6h0M138 156.9h0M146.7 157.2h0M152.8 156.8h0M154.4 156.9h0M169.3 156.9h0M171.8 157.1h0M173.1 156.5h0M177.7 156.5h0M80.5 159h0M82.3 160h0M86.1 158.3h0M108.7 159.6h0M110.5 159.4h0M113 159.8h0M116.5 159.1h0M119.7 159.6h0M123.2 159.6h0M164.5 159.6h0M165.7 159.6h0M171 159.8h0M182.1 158.3h0M76.3 161.1h0M89.3 161.1h0M96.1 161.6h0M108.6 160.4h0M123.7 161.8h0M138.9 161.8h0M140.2 161h0M142.4 161.8h0M144.4 160.7h0M151.5 161.4h0M157.6 160.5h0M161.2 160.8h0M162.7 161.1h0M166.9 160.7h0M175.6 160.9h0M178 161h0M104.6 163.8h0M114.6 162.7h0M117 164.1h0M120.4 163.4h0M126.7 163.7h0M160.1 163.2h0M161.9 163.5h0M172.8 162.4h0M177.1 163.8h0M182 163h0M77.7 164.5h0M80.7 164.9h0M83.3 165.2h0M85.4 166.1h0M88 165.6h0M88.6 165.7h0M92 165.4h0M104.2 165.5h0M114.1 164.7h0M118.3 164.7h0M127.7 165.2h0M130.2 166.1h0M135.2 165.3h0M136.1 165.5h0M138.8 164.6h0M140.3 166.1h0M142.9 164.6h0M155.3 166.1h0M169.4 165.2h0M171.2 165.4h0M172.6 165.8h0M175.3 165.1h0M179.8 164.7h0M78.8 166.8h0M79.5 167.6h0M86.8 168.1h0M88.3 167.3h0M91.1 166.8h0M111.1 167.9h0M116.3 167.6h0M119.6 168.1h0M121.1 167.1h0M122.6 167.9h0M124.9 167.1h0M127.4 167.6h0M130.1 167.1h0M134.7 167.8h0M153.5 167.5h0M157.6 167.1h0M169.5 167.9h0M171.5 167h0M175.9 168h0M179.7 167h0M86.9 169h0M111.8 170.2h0M115.5 169.1h0M117.5 168.6h0M125.9 169.8h0M130.4 168.9h0M132.5 169.7h0M138.6 170.2h0M152.5 169.3h0M162.9 169.5h0M165.3 169.4h0M167 170h0M170.6 169.9h0M175.1 169.6h0M179.8 168.8h0M86.2 171.7h0M88.8 171h0M94.9 172.2h0M97.3 171.3h0M105.4 171.7h0M121.9 170.9h0M122.4 171.3h0M130 171.7h0M131.3 171.8h0M137.7 171.3h0M144.8 171.8h0M148.1 172h0M156.6 172h0M157.7 171h0M163.3 171.2h0M176.6 171.1h0M77.4 173.4h0M78.3 172.7h0M81.7 172.8h0M102.4 173.4h0M112.3 172.7h0M126.7 173.5h0M127.9 172.7h0M133.1 173.5h0M146.2 173.8h0M152.1 173.3h0M156.5 173h0M167.5 173.9h0M169.6 173.9h0M174.7 173.8h0M78 175h0M85 175h0M86.4 175.1h0M87.6 176.3h0M100.7 176.4h0M108.5 175.2h0M131.9 175.4h0M135.1 175.1h0M136.7 174.7h0M150.2 175.7h0M158 176.4h0M159.2 175.6h0M174.6 175.1h0M179.9 175h0M183 176h0M85.4 178h0M96.3 178.2h0M109.5 177.7h0M120.9 178h0M122.3 177h0M124.8 176.8h0M125.7 178h0M143.9 177.7h0M146.8 178h0M148.7 177.9h0M151.4 177.1h0M153.1 178.4h0M163.2 177.1h0M173.6 177.6h0M86.3 180.1h0M97.1 179.9h0M101.9 178.9h0M116.6 179h0M120.5 179.4h0M125.9 178.9h0M133.4 179.5h0M142.9 179.7h0M145.6 180.4h0M147 179.3h0M149.4 179.7h0M152.5 179.9h0M155.1 180.3h0M158.3 178.8h0M166 180.3h0M171.9 180.5h0M174.7 179.8h0M81.6 181.3h0M91.5 181.6h0M93.7 181.5h0M104.4 182.4h0M105 182.5h0M112.5 181.9h0M114 181.4h0M121.5 181h0M149.3 181.6h0M152.4 182.1h0M157.3 182h0M181.6 181h0M78.3 183.5h0M86 184.4h0M94.8 184.5h0M113.2 184.2h0M115.6 184.3h0M116.4 183.4h0M118.6 184.1h0M128 183.7h0M139.3 184.5h0M146.3 184h0M149.1 184.2h0M152.2 183.2h0M180.9 183.1h0M81.2 185.6h0M85.1 185.2h0M87.8 186.3h0M89.3 185.8h0M90.6 185.1h0M94.7 186.3h0M99 186.1h0M113.1 185.9h0M115.5 186h0M140.5 185h0M142 186.5h0M144.9 185.7h0M149 186.1h0M150.8 185.8h0M173.7 185h0M181.6 185.8h0M79.8 188.2h0M84.7 187.5h0M88.9 187.4h0M96.7 188.6h0M108 187.7h0M119.2 187.3h0M121 187.6h0M135.5 187.6h0M142 188.6h0M153.2 187.5h0M160.5 188.4h0M178.9 188.4h0M76.3 189.7h0M90.8 190.7h0M110.3 190.5h0M111.2 189.7h0M128.9 190.3h0M138.2 189.9h0M144.1 189.3h0M146.4 189.2h0M163.7 189.5h0M165.8 189.3h0M167.8 189.2h0M182.4 190.3h0M108.9 192.5h0M111.4 192h0M114.6 192h0M125.8 191.9h0M126.5 192.2h0M139.8 191.6h0M141.7 192.8h0M143.3 192.7h0M151.8 191.7h0M154.3 192.5h0M170.4 192.6h0M181.1 191.4h0M83.7 193.3h0M95.3 194.3h0M98 194.4h0M107.8 193.4h0M131 194.3h0M136.2 193.5h0M138.3 194h0M142 193.8h0M146.9 194.3h0M155.4 194.1h0M159.1 194.8h0M165.5 193.6h0M167.3 194.2h0M175 193.9h0M78.5 195.5h0M87.5 195.3h0M98.5 196.7h0M103.4 195.6h0M111 196.3h0M118.3 196.1h0M127.6 196.4h0M128.7 195.8h0M138.7 195.3h0M155.9 195.4h0M159.9 196.7h0M167.5 195.7h0M174.9 196.5h0M78.2 198.7h0M85.1 198.5h0M93.2 197.5h0M107.6 197.8h0M114.4 197.8h0M115.9 198h0M122.3 198.2h0M125.8 198.7h0M140.9 198.4h0M146 198.5h0M149 198.2h0M153.2 197.3h0M168 198.8h0M177.7 197.9h0M179 197.6h0M181.5 197.9h0M77.3 200.8h0M80.2 200.5h0M82.1 200h0M83.7 201h0M85.9 200.6h0M88.7 200.7h0M98.4 200.8h0M101.3 199.9h0M107 199.8h0M108.2 199.9h0M123.2 199.5h0M137.9 199.3h0M140.3 200.5h0M145.9 200.7h0M155.8 200.3h0M160.3 199.8h0M178.7 199.5h0M103.6 202.3h0M118 203h0M126.5 202.1h0M130.2 202.8h0M141.1 202.2h0M143.1 201.8h0M153 201.4h0M158.8 202.7h0M169.9 203h0M90.4 204.4h0M91.7 204.7h0M95.1 204.4h0M110.5 203.5h0M113.2 204h0M117.2 204.6h0M120.5 205h0M123.9 204.2h0M131.9 204.7h0M138.9 204.4h0M142.4 204.6h0M145.7 205h0M150.4 205h0M161.9 204.6h0M164.3 203.7h0M169.8 204h0M175.1 204.1h0M177.1 204h0M83.5 206.1h0M86.5 206.4h0M95.9 205.9h0M107.9 206.6h0M111.4 205.6h0M119.8 206.2h0M121.4 206.4h0M129.7 206.1h0M140.5 206.1h0M144.4 205.8h0M149.3 205.5h0M155.5 205.5h0M159.4 206.2h0M165.8 206.8h0M171.6 206.3h0M173.5 205.7h0M182.4 205.8h0M96.6 208.8h0M137.8 209.2h0M147.9 209.1h0M158.7 208.2h0M162 208.8h0M164.5 207.6h0M170.5 208.3h0M181.1 207.9h0M182 209.2h0M76.7 210.3h0M79.1 209.9h0M88.8 210.4h0M91.2 210.8h0M115.5 210.1h0M122.6 209.8h0M152.8 210.2h0M156.5 210.5h0M77.4 212.2h0M88.5 212.2h0M103 211.8h0M120.3 212.4h0M138.7 212.7h0M140.9 212.1h0M145.8 212h0M149.9 212h0M152.2 212.6h0M154.7 211.6h0M157.7 211.9h0M160.8 212.9h0M161.3 212.4h0M163.4 212.4h0M170.4 212.7h0M175.1 213.1h0M176.5 213.1h0M77.7 214.5h0M82.7 215.1h0M85.1 214.8h0M86.5 213.8h0M89.8 214.6h0M108.2 215.1h0M120.4 213.7h0M135.7 213.9h0M138.4 213.7h0M140.4 214.6h0M152.2 213.7h0M159.5 214.4h0M161.2 214.5h0M163.3 214.3h0M174.7 213.9h0M90.6 217.3h0M91.7 215.8h0M97.9 217h0M107.4 217.3h0M119 216h0M123.9 216.2h0M125.6 217.1h0M127.2 217h0M129.2 216h0M138.3 216.8h0M141.8 216h0M145.1 216.2h0M147.6 216.6h0M156.2 217h0M170.4 215.8h0M87.9 218.8h0M91.5 218.5h0M94.2 218.4h0M100.1 218h0M134.8 218.8h0M147.1 219.4h0M154.5 218.6h0M158.9 219.4h0M169.9 218.5h0M88.6 221.2h0M123.3 220.2h0M151.8 220.1h0M167.9 220.1h0M113.5 222.1h0M123.8 222.6h0" stroke="#a1489a" stroke-width="2.6" stroke-linecap="round" fill="none"/>
<path d="M100.8 184.5h0M149.9 199.4h0M84.3 200.6h0M173.5 185.1h0M92.6 154.4h0M106 215.3h0M92.6 220.9h0M81.3 211.7h0M153.2 173.1h0M88.1 173.4h0M177.5 174.6h0M107.1 159.4h0M149.2 173.1h0M137.5 168.1h0M160.3 179.7h0M158.5 166.5h0M150.8 193.3h0M125.5 207.9h0M92.5 210.1h0M99.7 159.5h0M104.1 201.9h0M163.3 177.5h0M115.5 209.4h0M91.6 218.6h0M152.1 218.2h0M95.6 176.3h0M108.9 205.8h0M93 155.5h0M124.1 172.7h0M149.7 206.8h0M77.9 207h0M112 207.5h0M93 191.6h0M147.9 204.3h0M93.5 181.9h0M109.3 191.7h0M147 213.8h0M126.3 192.7h0M98.7 199.3h0M162 153.4h0M148.6 203.6h0M88 217.7h0M165.5 213.7h0M135.8 204.4h0M106.2 188.2h0M172.4 207h0M99.1 177.6h0M118.6 156h0M123.2 195.1h0M97.1 190h0M93.1 211.8h0M139.5 184.4h0M177.4 206.6h0M159.9 182.2h0M127.1 169.2h0M151.1 212h0M101.5 155.8h0M140.4 205h0M144 175.2h0M138.7 166.3h0M163.2 210.5h0M137.3 203.6h0M87.8 168.6h0M108.9 154.4h0M84.8 168.2h0M156 198.2h0M127.2 179.5h0M123 216.9h0M102.2 207.9h0M106.7 215.7h0M92.8 166.9h0M145.7 165.4h0M85.2 206.9h0M129.3 190.8h0M173.9 162.2h0M160.3 214.4h0M158.1 205h0M89.8 189.1h0M128.6 202.8h0M144.6 219.5h0M155 200.9h0M105.9 156.3h0M82.4 202h0M139 220.1h0M174.1 165.9h0M143.3 166.3h0M137.3 158.2h0M148.8 181.2h0M156.2 198.9h0M120.7 188.9h0M120.2 192h0M113.3 169.1h0M119.1 164.9h0M162 163.8h0M179.5 206.6h0M163.9 185.7h0M99 166.3h0M88 207h0M108.2 174.6h0M166.2 199.7h0M123.6 157.3h0M84.7 174.5h0M158.1 189.4h0M107 181.9h0M128.3 160.1h0M164.1 174.8h0M111.6 171.6h0M93.1 159.7h0M118.5 201.5h0M173 212.2h0M167.4 155.4h0M173.4 219h0M123.7 174.5h0M129 216.7h0M179 216.1h0M158.6 213.6h0M135 189.4h0M112.5 175.9h0M166.6 214.3h0M85.5 215.2h0M151.7 197.2h0M99.7 160.5h0M138.4 169.6h0M141.2 196.7h0M101.7 196.1h0M163.9 185.9h0M134.7 216.2h0M175.5 210.5h0M174.2 172h0M172.9 202.1h0M152 195.5h0M127.5 206.1h0M131.4 205h0M148.6 188.6h0M136.7 165.8h0M142.4 180.1h0M177.8 186.9h0M169 186.7h0M106.3 203.1h0M176.9 217.6h0M102.7 212.2h0M171.3 217.5h0M167.5 158h0M138.4 218.4h0M175.4 204.1h0M124 219.8h0M87.5 194.5h0M98.2 211.5h0M86.1 212.3h0M172.8 159.9h0M144.7 183.5h0M82.4 198.6h0M164.7 168.6h0M96.5 208.4h0M86.3 161.5h0M138.9 160.8h0M99.1 201.7h0M138 158.2h0M171.7 199.7h0M116.4 204.4h0" stroke="#e27c9e" stroke-width="1.6" stroke-linecap="round" fill="none"/>
<path d="M76.8 152.7h0M82.7 152.6h0M87.5 151.8h0M90.7 152.8h0M94.6 153.5h0M102.6 153.2h0M105.1 153.8h0M108.8 152.6h0M112.6 153h0M120 152.6h0M128.7 153.2h0M130.6 153.4h0M132.6 153h0M136.8 153.1h0M138.9 153.1h0M143 153.7h0M144.3 152.7h0M152.7 152.9h0M154.6 153.5h0M163.2 152.6h0M173.3 152.3h0M177.4 153.2h0M78 156h0M81.6 154.2h0M92.7 155.4h0M103.4 156.2h0M108.6 155.3h0M111.7 155.1h0M116.7 155.3h0M118.1 156h0M127.5 155h0M132 155.4h0M133.5 154.3h0M138.3 155.1h0M141.9 155.6h0M142.9 155.7h0M166.3 154.9h0M180.3 155.5h0M181.8 154.1h0M77.2 157.1h0M78.5 156.4h0M87.3 156.4h0M89.9 157.4h0M101.3 157.2h0M109.8 157h0M112 157.7h0M114.4 158.4h0M122.8 157.1h0M126.3 157.4h0M129.8 156.6h0M134.8 156.7h0M142.4 156.9h0M145.1 157.7h0M153.3 156.9h0M153.9 157.1h0M158.1 157.3h0M158.7 156.8h0M161.4 156.9h0M162.2 157.2h0M165.4 156.5h0M168.1 156.4h0M169 156.5h0M171.8 157.1h0M179.7 156.1h0M180.8 157h0M78.2 159.6h0M80.1 159.2h0M82.6 160h0M88.7 158.7h0M90.5 159.8h0M98.9 159.8h0M109 159.5h0M112.7 160.1h0M114.9 160.2h0M116.3 158.7h0M119.4 160h0M127.5 160.2h0M130 159.3h0M140.5 158.6h0M141.3 158.5h0M145.4 158.6h0M149 159.9h0M155.6 158.8h0M157.7 159.4h0M164.3 159.1h0M165.8 159.5h0M167.9 159.3h0M173 158.4h0M178 158.9h0M179.6 159h0M182.4 158.1h0M76.3 161.3h0M83.7 161h0M90.8 160.6h0M94.1 161.6h0M95.7 161.8h0M97.9 160.7h0M103.2 161.7h0M117.7 160h0M123.5 161.7h0M125.9 160.6h0M132.4 161.2h0M139.9 161.2h0M142 161.5h0M144.3 160.6h0M151.8 160.1h0M154.7 161.4h0M162.6 161.2h0M165.2 161.4h0M180.5 161.1h0M82.3 163.6h0M83.9 162.9h0M95.3 163h0M97.7 163.8h0M104.5 163.3h0M106.8 163.1h0M108.5 163.4h0M113.1 163.2h0M114.4 163.1h0M119.1 162.8h0M124.8 163.5h0M130 162.9h0M131.8 163.3h0M135.5 162.9h0M137.4 164h0M140.5 162.6h0M143 162.2h0M148.2 162.9h0M149.9 162.9h0M154 163.6h0M155.5 162.7h0M158.5 163.1h0M160 162.9h0M161.9 163.2h0M172.3 162.7h0M175.1 163.3h0M177.3 163.4h0M178.5 163.8h0M78.2 164.4h0M80.9 164.8h0M83.6 165.2h0M85.4 166.1h0M101.3 166.3h0M111.2 164.5h0M114.1 164.9h0M120.1 165.7h0M121.2 166.3h0M127.7 164.8h0M135 164.9h0M138.7 164.2h0M143 164.5h0M145.3 165.4h0M158.6 166h0M167 165.9h0M171.1 165.5h0M172.8 165.9h0M175.6 165.1h0M182.1 164.8h0M79.2 167h0M79.5 167.7h0M84.8 167.7h0M91 166.9h0M95.6 166.9h0M98.2 168h0M101 166.5h0M102.2 167.2h0M104.7 166.8h0M109.2 167h0M111.6 168.2h0M119.3 168.6h0M120.7 167.2h0M122.6 168.3h0M124.6 167.4h0M127.3 167.1h0M135 167.5h0M139.6 167.3h0M163.2 168h0M166.1 166.3h0M167.9 166.2h0M171.3 166.5h0M174.2 168.3h0M176 168.2h0M179.6 167.2h0M183.2 167.1h0M80.2 169.7h0M87.2 169.5h0M106.3 170.1h0M107.1 169.9h0M109.1 169.5h0M112.3 170.5h0M114.2 169.2h0M123 169.5h0M124.5 168.8h0M125.9 170h0M130.1 169h0M132.9 169.3h0M137.3 169.6h0M146.4 169.4h0M147.8 169.4h0M151.2 169.3h0M152.1 169.5h0M163.1 169.5h0M165.1 169.4h0M169.2 169h0M176.4 169.7h0M180.2 169.2h0M182.2 170h0M78 171.8h0M79.7 171.3h0M88.5 171.1h0M89.8 171.5h0M92.9 171.2h0M94.4 172.4h0M97 171.7h0M102 172h0M105.5 172.1h0M106.6 171.2h0M107.9 171.9h0M111.5 170.7h0M113.8 171.3h0M115.2 172.1h0M116.9 172.2h0M122.3 171.6h0M125.4 171.2h0M130.4 171.6h0M134.3 171.4h0M137.4 171h0M144.6 172h0M148.4 172.2h0M149.4 171.1h0M152.8 172.2h0M158.1 171.2h0M159.4 172.4h0M162.2 170.8h0M163.5 171.2h0M168.7 172.2h0M176.1 170.8h0M182.9 171.5h0M77 173.3h0M78.5 172.6h0M83.1 174.1h0M84.5 172.9h0M90.6 173.6h0M95.1 173.3h0M102.5 173h0M105.6 173.6h0M106.8 174.2h0M112.3 172.4h0M116.6 173.4h0M126.5 173.7h0M137.1 174h0M149.5 173.8h0M151.1 173.5h0M152 173.8h0M156.9 172.9h0M159 173.3h0M164.7 172.7h0M169.9 173.7h0M171 173.3h0M78.5 174.9h0M86.5 175h0M88 176.2h0M97 175.1h0M100.9 176.1h0M108.2 175.7h0M112.5 175h0M115.1 176.4h0M116.7 175.6h0M130 176.3h0M132.3 175.6h0M136.7 174.4h0M142.2 175.9h0M155.5 176.3h0M159 176.1h0M167.4 174.9h0M180.3 174.5h0M76.8 177.6h0M87.1 178h0M92.2 177.3h0M96.1 178h0M98.1 178.4h0M100.6 178.5h0M112.9 176.4h0M118.3 178.3h0M122.5 177.3h0M126.1 177.7h0M134.5 177.9h0M142.9 177.5h0M148.4 177.9h0M153.2 178.6h0M156.2 177.3h0M158.9 177.3h0M168.1 178.1h0M171.6 177.2h0M175.9 177.1h0M177.8 177.1h0M81.6 179.3h0M92.5 178.9h0M98.8 178.6h0M106.8 180h0M109.4 180h0M110.5 180h0M113.4 180.4h0M114.9 178.8h0M116.4 178.7h0M120.2 179.6h0M128.7 178.6h0M135.9 179.5h0M141.3 180.4h0M142.5 179.7h0M145.9 180.5h0M147.2 179.3h0M152.7 180.2h0M154.5 178.9h0M161.5 180.2h0M163.4 178.4h0M171.6 180.4h0M175.1 179.4h0M78.3 182.4h0M81.2 181.5h0M88 182.2h0M88.8 181.2h0M95.7 182.3h0M98.1 181.8h0M99.2 182h0M104.9 182.8h0M104.6 182.7h0M107.4 182.6h0M112.5 181.7h0M114.3 181.6h0M116.4 182h0M128.5 181.4h0M130.4 181h0M132.5 181.3h0M133.7 182h0M137.3 180.7h0M140.9 181.1h0M147.7 181.4h0M150.4 181.4h0M152 182.6h0M155.7 182.2h0M169.7 181.8h0M173.5 182.3h0M180.3 181.4h0M181.8 181.3h0M78.5 183.7h0M84.7 183.8h0M104.8 183.3h0M110.9 183.5h0M116 184h0M116.3 183.2h0M119 183.8h0M129.5 184.5h0M138.5 184.1h0M142.7 182.7h0M146.4 183.5h0M147.1 184.8h0M149 184.7h0M152.1 183h0M155 183.3h0M169.2 182.9h0M172.8 183.5h0M175.1 184.3h0M79.4 185.6h0M82.5 186.6h0M84.9 185.1h0M87.6 186.3h0M89.1 185.7h0M90.8 185.5h0M99.2 186.2h0M113.5 185.5h0M120.3 185.4h0M123.2 186h0M129.9 186.3h0M132.4 185.7h0M135.7 186.2h0M137.9 185.1h0M147.1 185.4h0M148.5 186.4h0M151 185.8h0M154.8 186h0M161.9 185.4h0M170.3 185.7h0M173.6 185.3h0M178 185.9h0M180.4 185.2h0M88.4 187h0M99.2 188.1h0M100.8 187.9h0M106.9 188.5h0M108.1 187.3h0M110.8 188.3h0M114.1 187.4h0M116.6 187h0M119.1 187.8h0M123.9 188h0M124.8 187.5h0M127.4 187.9h0M129.3 187.1h0M142.5 188.2h0M146.9 186.9h0M151.2 188.2h0M153.2 187.5h0M156.8 187.7h0M160.5 188h0M163.4 187.3h0M178.4 187.9h0M180.3 188h0M182.4 187.9h0M76.2 189.5h0M79.7 189.2h0M80.5 189h0M90.1 188.8h0M93.6 189.6h0M95.4 189h0M104.5 188.8h0M110 190.7h0M124 189.4h0M128.7 190.4h0M142.3 189.1h0M146 188.8h0M153.4 191h0M154.8 189.5h0M167.7 189.7h0M169.9 189.2h0M173.6 190h0M79.3 192.6h0M83.5 191.7h0M93.3 192.6h0M105.9 191.3h0M108.5 192.1h0M116.8 191.9h0M125.3 192.4h0M129.7 191.8h0M130.8 192.1h0M139.5 192.1h0M141.3 192.5h0M143.4 193.1h0M148.7 192.7h0M149.1 191.9h0M154 192.5h0M163.5 191.7h0M166.1 192.5h0M170.6 192.2h0M176.5 192.2h0M177.8 192.4h0M181.3 191.4h0M182.3 192.9h0M79.1 193.8h0M81.4 195.1h0M89.1 193.9h0M93.2 193.8h0M95.2 194.4h0M109.3 192.9h0M114.4 193.3h0M132.7 194.6h0M142.1 193.5h0M143.6 193.2h0M152.6 194.6h0M155.2 194.6h0M160.8 193h0M165.4 193.5h0M167.3 194.1h0M168.8 193.4h0M179.1 194.4h0M182 194.5h0M80.1 196.4h0M82.6 196.1h0M87.5 195h0M98.5 197.1h0M100.8 197.3h0M103.5 195.9h0M104.1 196.8h0M106.3 195.9h0M115.3 196.1h0M117 196h0M118 196.3h0M121.9 195.6h0M127.3 196.5h0M128.3 196.1h0M131.4 195.7h0M133.4 195.6h0M138.4 195.8h0M143.5 195.9h0M147.9 196.1h0M151.9 196.4h0M154.4 196.2h0M167.7 195.9h0M87 198.3h0M89.9 197.7h0M91.6 199.1h0M93.5 197.6h0M95.1 197.8h0M98 197.8h0M101.2 197.8h0M102.8 198.3h0M106.2 198.4h0M108 198.2h0M109 197.9h0M114 197.3h0M115.6 198.2h0M118.6 198.5h0M122.2 197.9h0M138 199.2h0M141.1 198.9h0M144.7 197.8h0M149.2 198.2h0M154.8 198.3h0M156.5 198h0M158.5 197.8h0M160.4 197.1h0M164.6 199.2h0M168.2 199.1h0M169.5 197.1h0M86.1 200.3h0M93.6 199.7h0M93.9 200.5h0M108.2 199.8h0M115.1 200.5h0M120.4 200.2h0M123.5 199.4h0M127 199.4h0M131.4 199.4h0M137.6 199.3h0M140.8 200.7h0M143.9 199.7h0M145.7 201h0M148.1 199.7h0M151.9 200.7h0M155.7 200h0M160.7 199.7h0M162.5 200.5h0M167.8 201.3h0M171.5 199.9h0M174 199.8h0M178.7 199.1h0M84.9 202.4h0M88.9 201.5h0M90.8 202.7h0M93.9 202.8h0M95.6 202.5h0M101.8 203.1h0M118.4 202.5h0M123 202.1h0M126.7 201.8h0M130.5 202.6h0M132.5 203.3h0M138.4 203.5h0M141.2 202.7h0M143.9 203h0M154.2 202.5h0M158 202.4h0M163.4 202.3h0M169.9 203.4h0M86.2 203.6h0M87.8 203.9h0M94.9 204.7h0M103.2 204.3h0M116.7 205h0M120.3 205.1h0M137.6 205.1h0M139 204.6h0M142.9 203.7h0M145.6 204.7h0M158.4 204.4h0M160.3 204.2h0M166.1 203.6h0M180.9 204.2h0M85.2 205.6h0M86.6 206.2h0M91.5 206.5h0M94.1 206.8h0M100.7 206.7h0M101 206.3h0M110.2 205.3h0M114.2 205.5h0M121.2 206.7h0M126.1 206.5h0M128.3 207.4h0M136.9 206.6h0M138.2 206h0M142.3 207h0M144.8 205.5h0M149.5 206h0M162.6 206.8h0M166.9 207h0M169.7 207.2h0M175.3 206h0M179 206.6h0M88.2 208.7h0M90.5 208.2h0M105 208.8h0M111.1 207.7h0M115.4 208.9h0M117.4 207.2h0M129.8 209h0M130.6 208.2h0M139.2 207.6h0M147.7 209.6h0M156.3 207.5h0M159.1 209.3h0M166.4 207.4h0M168.7 208.1h0M170.3 207.9h0M76.7 210h0M79.3 210h0M83.4 210.3h0M87.4 211.2h0M88.6 209.9h0M91.5 210.6h0M92.9 210.5h0M99.1 210h0M102.8 211.3h0M110 210.1h0M112.8 210h0M122.9 210.1h0M123.3 209.8h0M126.2 210.6h0M128.8 210.7h0M136.4 209.6h0M142.1 210h0M149.6 211.3h0M152.3 210.5h0M159.2 210.1h0M160.5 210.7h0M165.5 209.4h0M166.8 210.5h0M168.7 210.4h0M176.8 210.1h0M179.1 209.9h0M180.9 210.1h0M77.7 211.9h0M83.1 211.7h0M102.8 211.6h0M106.3 212.4h0M113.6 211.6h0M120 212.7h0M125.4 212.3h0M126.6 212.1h0M131.8 213.1h0M133.8 212.5h0M134.8 212.1h0M138.8 212.4h0M140.9 211.8h0M147.5 213.1h0M152.4 212.6h0M154.5 211.6h0M156.4 211.5h0M161.3 212.5h0M165.3 213.7h0M171.4 212.4h0M176.5 213.3h0M178.2 213.2h0M180.8 213.5h0M182.1 212.8h0M77.4 214.6h0M78.6 214.7h0M91.2 214.8h0M100.7 214.1h0M105.9 214.6h0M107.8 215.4h0M109.6 215.2h0M113.6 214h0M126.6 215h0M131.6 214.9h0M138.4 213.3h0M140.3 214.6h0M142.3 214.2h0M144.2 214.6h0M151.1 214h0M152.1 214h0M155.9 214.6h0M159.5 214.3h0M162.9 214.2h0M164.6 215h0M169.4 215.4h0M172.8 214.4h0M180.8 215.1h0M84.7 216.1h0M87.9 216.7h0M91.4 215.6h0M97.9 216.6h0M99.7 217.1h0M102.8 215.6h0M117.5 217.2h0M128.9 215.6h0M130.7 215.8h0M140.1 216.1h0M143.1 216.4h0M144.7 216.2h0M160.8 215.5h0M162.3 217.5h0M179.5 217h0M80.3 219.5h0M85.8 219.5h0M88 218.4h0M89.4 218.8h0M91.5 218.4h0M95 218.6h0M97.5 218.4h0M103.5 218h0M130.2 219.4h0M135.1 219.3h0M141.6 217.5h0M143.2 218.5h0M154.8 218.6h0M169.5 218.9h0M170.6 218.1h0M175.8 218.2h0M178.1 219.1h0M179 219h0M81.1 219.8h0M81.5 221.5h0M85.5 220.3h0M88.7 221.2h0M96 220.5h0M127.1 221.6h0M144.7 221.1h0M151.5 219.9h0M162.1 220.5h0M168.2 220.4h0M174.7 221.6h0M178.3 219.5h0M77.5 222.5h0M113 221.8h0M113.5 222.2h0" stroke="#6f2e74" stroke-width="1.35" stroke-linecap="round" fill="none"/>
<path d="M73 221.2 C95 220 110 221.6 125 220.2 S165 219 184 220 V242 H73Z" fill="#e4ced4"/>
<path d="M73 227.2 C90 227.4 100 226 107 225 S112 228.4 116 227 S135 224 184 224.4 V242 H73Z" fill="#c8689f"/>
<path d="M77 229.5 C95 229 110 229.5 125 228 S160 227 180 227.5" fill="none" stroke="#b34a8a" stroke-width="1.2" opacity="0.6"/>
<path d="M87.3 226.6h0M177.6 223.4h0M112.1 224.5h0M165.6 226h0M114.6 226.4h0M77.5 226.6h0M175.1 227.5h0M160.1 222.2h0M130 227.5h0M141.2 227h0M175.3 222.3h0M163.2 225.6h0M175.9 227.4h0M138.8 224.8h0M89 223.5h0M165.1 221.7h0M127.4 222.3h0M82.2 222.1h0M103.3 224.6h0M173.7 222.5h0M98.6 225.4h0M100.6 222h0M130.4 226h0M106.2 226h0M91.8 227h0M128.8 225.1h0M141.8 223.3h0M147.8 222.3h0M82.5 223.7h0M156.3 222.2h0M110.2 223.2h0M87.9 227.3h0M134.2 222.2h0M123.2 227h0M164.1 223.9h0M95.1 226.3h0M118 223.3h0M163.5 223.4h0M116.3 222.8h0M156.6 226.7h0M79.1 227h0M172.2 224.8h0M112.7 225.1h0M81.7 227.3h0M107.9 221.7h0M144.1 227.2h0M92.9 227h0M105.6 224.7h0M149.3 226.3h0M109.4 226.7h0M86.4 226.9h0M140.9 223.9h0M138.3 224.2h0M82.6 226.3h0M166.1 224.4h0M170.7 223.3h0M97.9 224.8h0M165.8 227h0M80.3 224.1h0M92.5 227.3h0M93.4 221.6h0M118.1 226.5h0M85 224.5h0M88.9 225.6h0M177.7 226.8h0M135.2 226.1h0M152.7 225.8h0M114.2 226h0M124.1 222.2h0M91.4 227.2h0M145.6 225.8h0M164.1 223.2h0M147.5 224.7h0M120.8 225.4h0M129.2 224h0M90.3 222h0M144.6 227.2h0M133.6 224.8h0M111.4 221.7h0M122 225.9h0M92.2 224.7h0M97.2 226.1h0M130.4 223.8h0M155.3 225.2h0M117.8 226.7h0M147 226.4h0M117.1 226.7h0M137.7 224.7h0M169.9 227.4h0M172.8 225.2h0M157.4 225.8h0M118.5 224.5h0M120.6 226.8h0M117.9 223.4h0M158.3 222.4h0M103.7 223.6h0M180 224.6h0M97.1 223.4h0M151.2 226.3h0M137.8 225.7h0M127.2 223.9h0M154.7 225.2h0M155.2 223.2h0M96.3 224.5h0M108.3 221.6h0M84.5 224h0M111.9 223.5h0M86.7 227h0M158.9 223h0M92 227.3h0" stroke="#a04a9c" stroke-width="1.4" stroke-linecap="round" fill="none"/>
</g></g>
<g clip-path="url(#c2)"><g filter="url(#bl)">
<rect x="187.4" y="149" width="111" height="91" fill="#f1d3da"/>
<path d="M218.4 153.6h0M224.4 152.5h0M229.1 153.8h0M233.9 152.3h0M253.2 153.5h0M261.6 153.2h0M295.3 153.8h0M198.9 154.9h0M204.8 155.9h0M206.4 154.4h0M210.9 155h0M216.8 155.2h0M218.5 155.8h0M226 154.8h0M243.9 154.2h0M258.8 154.6h0M275.8 155.8h0M279.1 154.7h0M291.1 154.3h0M191.1 157h0M197.4 156.5h0M207.1 157.1h0M213.3 157.4h0M236.7 157.3h0M256.8 157.2h0M263.8 157.4h0M293.6 156.3h0M296.4 156.6h0M206.6 159.5h0M217.6 159.5h0M239 159.2h0M267.7 158.4h0M270.7 159.5h0M289.6 159h0M198.8 161.2h0M210 161.6h0M211.8 160.9h0M248.9 161.9h0M250.3 160.8h0M252.6 161.2h0M257.7 161.4h0M259.2 161.7h0M261 161.2h0M283.5 161.6h0M287.2 160.8h0M291 161.5h0M211.6 164.1h0M216.5 162.5h0M232.2 162.6h0M235 163.3h0M237 163.4h0M274.7 162.8h0M286.2 163.5h0M291.1 163.4h0M297.3 163.1h0M205.3 164.5h0M210.2 165.1h0M215.3 165.2h0M263.4 165.2h0M267.3 165.9h0M289.2 165.3h0M212.4 167.5h0M220.8 167.6h0M240.2 166.7h0M244.3 166.9h0M247.4 167h0M253.3 167h0M255.3 166.6h0M267 166.5h0M267.6 167.9h0M279.4 167.8h0M286.8 167.3h0M293.5 166.8h0M195.8 168.6h0M222.9 168.9h0M224.7 169h0M226.2 168.9h0M240 170h0M258.3 170.1h0M263.2 170.2h0M265.1 169.9h0M195.9 171.1h0M200 171.8h0M210.8 171.7h0M218.9 170.7h0M237.3 170.9h0M249 171.3h0M251.6 171.7h0M192.8 173.5h0M203.2 174.2h0M206.2 174h0M208.1 173.4h0M220.2 172.8h0M243.4 174.1h0M264.4 173.2h0M196.1 175.3h0M202.2 175h0M215 176.4h0M222.9 175.8h0M264.4 174.7h0M286.6 175.1h0M290.5 176.2h0M196.9 177.3h0M201.8 177.2h0M205.3 176.8h0M216.7 176.9h0M230.6 176.8h0M241.3 177.6h0M244.2 178.1h0M281.5 178.2h0M195.1 179.9h0M199.8 179.4h0M221.1 180h0M247.4 179.2h0M254.6 179.7h0M277.9 180h0M281.8 180.3h0M222.8 181.9h0M230.9 181.4h0M240.2 180.9h0M244.8 182.4h0M248.7 182.2h0M269.6 182.2h0M273.5 182h0M279.2 181.1h0M204.7 183.5h0M216.6 184.2h0M223.7 183.2h0M241.3 184.3h0M266.5 183h0M270.3 183.8h0M289.2 183.7h0M294.6 183.9h0M214.1 185.1h0M236.7 185.9h0M272.8 185h0M295.8 186.6h0M198.1 187.2h0M213.2 187.6h0M230.9 187.6h0M245.1 188h0M257.5 188.1h0M268.7 187.3h0M271.9 187h0M277.2 188.6h0M227.7 190.4h0M249.3 189.9h0M255.8 189.1h0M263.6 189.5h0M267.2 189.2h0M271.2 189.9h0M295.3 189.5h0M191.6 191.2h0M200.8 192.2h0M203.4 192.1h0M235.1 191.5h0M297.7 191.7h0M193 193.4h0M199.5 193.2h0M204.5 194.7h0M222.3 193.4h0M231.1 194h0M257.8 193.4h0M258.9 194h0M265.4 194.4h0M280.8 193.2h0M285.3 193.7h0M200.9 195.8h0M204.2 195.7h0M213.6 196.8h0M228 195.5h0M231.6 196.6h0M233.7 196.4h0M235.5 196.8h0M268.9 196.5h0M285.1 195.8h0M230.9 198.9h0M235.7 198h0M240.8 197.8h0M242.7 197.9h0M198.3 199.3h0M210.4 199.4h0M219.8 199.9h0M227.8 200.9h0M235.7 200.2h0M240.3 200.1h0M241.2 200.5h0M246.3 199.8h0M252.4 199.8h0M261.8 200.9h0M264.9 200.5h0M268.5 200.9h0M273.2 200.5h0M276.4 199.7h0M280.9 200.4h0M282 199.4h0M216.3 201.7h0M230.5 201.4h0M232.6 202.2h0M238.6 202.7h0M250.5 201.5h0M274.2 202h0M278.2 202.2h0M206.6 204.1h0M234 205h0M236.8 204.9h0M263.5 204.5h0M275.1 203.7h0M278.9 204.1h0M199.9 205.9h0M232.8 205.7h0M251.2 206.8h0M271.7 207h0M279 206h0M201.3 208.6h0M215.3 208.3h0M223.3 208.6h0M231.9 207.8h0M236.3 209h0M237.2 208.3h0M251.6 208h0M292.3 208.2h0M206.6 209.9h0M214.7 210.1h0M228 210.1h0M241.1 210.1h0M244.4 209.9h0M250.7 211.2h0M280.3 210.8h0M282 211.1h0M196.5 213.2h0M213.3 213h0M219.9 211.7h0M225.8 212.8h0M233.7 213.1h0M244 211.6h0M249.6 212.7h0M253.3 212.6h0M267.5 211.7h0M274.4 212.3h0M275.9 211.8h0M193.8 214.6h0M216 215h0M226 213.7h0M196.6 217.2h0M217.3 215.8h0M223.7 216h0M244.4 216.4h0M247.4 216.4h0M250.3 216.5h0M252.4 216.6h0M253.8 216.2h0M259.8 216.4h0M262 216.2h0M263.6 217h0M267 216.2h0M275.9 217.2h0M293.4 216.8h0M191.6 219.3h0M213.6 219.1h0M226.2 218.6h0M263.4 218.8h0M275 218.4h0M194.9 221.2h0M217.5 220.9h0M259.7 220h0" stroke="#cc74ae" stroke-width="2.7" stroke-linecap="round" fill="none"/>
<path d="M198.1 153.1h0M203.7 153.3h0M205.9 152.2h0M208.5 153.4h0M210.3 152.8h0M211.7 153.7h0M214.3 152.3h0M216.7 153.1h0M222.8 153.3h0M238.5 153h0M240.9 152.6h0M255.4 153.4h0M256.3 153.4h0M269.7 152.8h0M273.4 153.7h0M278.3 153h0M281.5 153.5h0M283.8 152.8h0M285.4 152.3h0M293.7 152.8h0M193.8 155h0M201 154.9h0M209.2 154.3h0M212.5 155.4h0M214.6 154.7h0M227.3 154.9h0M229.8 154.6h0M233.1 155.8h0M237.8 154.4h0M239 154.3h0M251.1 155.5h0M255.3 155.7h0M262.5 155.4h0M268.9 154.3h0M271 154.6h0M272.8 154.9h0M273.8 155.4h0M280.1 155.4h0M285.4 154.4h0M285.9 155.3h0M289.6 155.8h0M193.7 157.1h0M200.4 157.4h0M201.4 156.5h0M204.3 157h0M205.8 156.4h0M209.2 157.3h0M211.4 156.7h0M216.5 157.4h0M217.4 157.1h0M228.9 157.6h0M230.3 156.7h0M238.8 156.3h0M241.2 156.9h0M242 156.6h0M244.3 157.8h0M247.4 156.3h0M249.6 157.7h0M268 156.3h0M269.8 156.6h0M270.7 157.2h0M272.7 157.4h0M275.2 157.4h0M281.9 156.8h0M282.9 156.7h0M288 157.3h0M290.5 157.2h0M197.7 158.6h0M203.4 160h0M210.4 159.1h0M213.4 158.7h0M214.5 159.4h0M220.5 158.7h0M223.3 159.7h0M226.8 158.3h0M229.9 159.8h0M237.1 158.5h0M247.5 158.5h0M251.4 159.8h0M254.8 159.1h0M257.8 159.4h0M272 158.7h0M278.1 159.6h0M282.5 159.1h0M290.4 158.8h0M292.7 159.8h0M294.8 159.6h0M191.8 162h0M194.1 161.1h0M195 160.6h0M197.5 160.4h0M203.7 160.4h0M206.3 160.9h0M207.9 161.1h0M213.4 160.4h0M220.6 161.5h0M224.9 160.7h0M227.7 160.4h0M232.1 160.4h0M238.5 160.7h0M240.4 160.8h0M243.2 161.8h0M247.5 161.6h0M255.6 161h0M269.8 161.6h0M277.1 160.9h0M282.2 161.9h0M285.1 161h0M290 160.9h0M205.9 162.5h0M209.4 163.2h0M212.3 162.5h0M222.3 163h0M229.6 163.4h0M234 162.7h0M240.2 164h0M247.6 163.1h0M250.3 163.6h0M252.7 163.4h0M258.7 163.9h0M264.1 162.4h0M265.5 163h0M276.5 164h0M279.8 164h0M282.6 163.9h0M292.6 163.9h0M294.3 163.5h0M190.6 165.2h0M197 165h0M211.4 165.6h0M222 165.4h0M224.2 165h0M230.5 165.4h0M240.9 165.2h0M244.2 165.5h0M247.5 165.5h0M256.5 166.1h0M260.4 165h0M264.8 165.9h0M275.1 165.6h0M276.9 165.9h0M280.3 166.1h0M285.8 165.1h0M292.1 165.2h0M191.9 167.9h0M196.6 166.9h0M204.7 167.3h0M206.7 166.7h0M223.4 167.6h0M227 167.9h0M232.2 166.7h0M236.3 167.4h0M242.4 167.2h0M246.5 167.5h0M249.2 167.7h0M251.3 168h0M258.4 168.2h0M260 166.8h0M264.4 166.8h0M271.7 167.4h0M283.1 167h0M288.9 168.2h0M290.9 167h0M199.5 168.9h0M203 169.2h0M204.9 170h0M214.6 169.4h0M215.3 169.7h0M217.5 170.1h0M230.8 169.8h0M232.8 168.7h0M234.9 169.7h0M235.9 168.9h0M244.9 170.1h0M246.5 169.9h0M252.1 169.3h0M266.5 169.5h0M284.2 169.6h0M285.7 169.5h0M288.2 168.7h0M293.1 170.2h0M193 171.5h0M198 171.6h0M201.9 170.6h0M205.4 170.6h0M206.3 172h0M208.2 171.7h0M214.8 172h0M220.3 172.1h0M224.7 171h0M227.9 171.6h0M232.9 171.6h0M243.6 172h0M247.7 171.7h0M257.4 171.3h0M261.9 171.1h0M271.6 170.9h0M280.7 171.3h0M284.9 172.2h0M287.3 171.7h0M289.3 170.9h0M294.2 171.4h0M296.5 170.9h0M190.8 173.6h0M196.1 173.8h0M198.9 172.7h0M202.3 173.2h0M211.1 173h0M217.9 173.8h0M222.9 173.1h0M227.5 172.9h0M232.6 174.3h0M241.2 172.9h0M244.1 172.8h0M260.3 173.2h0M263.5 172.7h0M276 173.7h0M281.6 173.8h0M285.6 173.9h0M288.4 172.7h0M291.4 174.1h0M294.2 173.2h0M191.9 175.6h0M194.3 175.2h0M200.2 176.1h0M204.4 176.1h0M210.8 175.7h0M213.1 174.7h0M217.4 176.3h0M225.6 174.9h0M227.5 174.9h0M233.8 174.9h0M236.1 176.2h0M241.4 175.5h0M250.6 175.7h0M252.4 175.1h0M259.5 175h0M269 175.4h0M269.6 175.1h0M272.7 174.8h0M275.1 176h0M275.8 175.8h0M284.6 174.8h0M292.3 175h0M190.9 177.5h0M196 178.2h0M199 177.6h0M208.2 178.1h0M217.6 177.3h0M219.7 177.7h0M222.9 177.4h0M227.9 177.5h0M235.3 177.5h0M236.2 178.1h0M245.9 177.5h0M248.8 178.4h0M251.2 176.8h0M256.4 177.8h0M259.6 178h0M260.3 177.7h0M262.8 177.6h0M264.4 177.3h0M267 178.2h0M273.9 177.9h0M286.4 176.9h0M293.1 177.1h0M195.9 179.5h0M204.5 178.8h0M207.6 179.6h0M210.1 178.8h0M213 180.4h0M218.4 179.1h0M223.4 180.5h0M227.9 178.9h0M229.8 178.9h0M232 180h0M233.2 180.3h0M236 180h0M241.3 180.4h0M246.3 179.2h0M260.1 179.1h0M264.8 179.3h0M266.6 180.3h0M268.7 178.9h0M270.6 180.4h0M271.6 178.8h0M280.1 179.4h0M284.5 180h0M290.9 179.1h0M193.6 181.3h0M200.4 181h0M203.7 182.2h0M211.5 182.5h0M214.5 180.9h0M217.7 181.4h0M226.5 181h0M234.1 181h0M247.5 181.6h0M251.2 181.7h0M253.4 182.1h0M255.3 181.1h0M256.4 181.6h0M258.9 181.3h0M263.5 182.2h0M264.6 182.4h0M271.2 181.7h0M282.4 181.9h0M295.7 181.4h0M208.7 184.1h0M215.8 183.3h0M225.5 184.4h0M227.1 183.8h0M230.7 183.7h0M239.5 184h0M249.2 183.2h0M255.1 184.5h0M257.3 184.2h0M262.1 183.3h0M264.5 183.1h0M281 183.4h0M282.3 183.3h0M284.8 184.1h0M297.5 184.5h0M191.1 186.5h0M195.6 186.4h0M198.1 185.8h0M204.3 185.8h0M211.5 186.6h0M216.4 186.6h0M218.7 185.3h0M223.9 185.4h0M226.1 185.3h0M227.7 185.3h0M240.5 185.1h0M245.5 185.4h0M256.6 185.6h0M258.4 185.7h0M262.6 185.9h0M265.9 185.7h0M268.8 185.6h0M271.5 185.4h0M279.4 185.9h0M280.9 185.3h0M290.2 185.7h0M291.1 185.5h0M293.4 186.3h0M193.9 188h0M201.5 187.4h0M217.5 188h0M225.3 188.2h0M236 188.6h0M243.7 187.2h0M250.5 188.7h0M253.4 187.1h0M256.5 187.8h0M260.3 187.7h0M262.1 188.3h0M264.4 188.5h0M266.1 188.5h0M282.3 187.1h0M289.3 187.6h0M193.5 189.9h0M197.7 190.7h0M207.9 189.2h0M209 189.9h0M211.6 189.1h0M224.3 190.7h0M226.9 189.2h0M230.1 190.4h0M231.8 189.7h0M244.1 190.2h0M251.1 189.5h0M253.2 190.7h0M258.4 190.6h0M261.2 190.1h0M265 189.4h0M269.3 189.5h0M273.8 189.3h0M275.9 189.9h0M278.2 190.3h0M283.9 189.1h0M286.2 189.6h0M292.1 189.8h0M194.1 191.7h0M198.8 191.1h0M204.5 192.3h0M207 192.4h0M208.9 192.2h0M228.9 192h0M231.2 192.7h0M234.1 191.8h0M239.2 191.6h0M249.3 192.3h0M252.3 191.5h0M257.7 192.2h0M262 192.6h0M268 191.7h0M271.6 192.4h0M274.6 191.9h0M276.7 192.7h0M278.7 192.1h0M279.9 192.5h0M282.2 192h0M191.7 193.7h0M194.7 193.8h0M206 194.6h0M215.7 193.4h0M227 193.4h0M228.5 193.4h0M233.1 193.5h0M235 194.6h0M235.7 193.7h0M237.9 194.3h0M240.3 194.8h0M243.2 193.2h0M248.7 193.5h0M250.2 193.4h0M254.5 194.5h0M260.3 194.4h0M262.3 194.1h0M273.3 194.6h0M275.4 194.2h0M277.1 194.8h0M283.8 193.4h0M192.6 196h0M194.2 196.1h0M197.2 195.3h0M203.2 196.6h0M214.6 196.4h0M220.8 195.8h0M223.5 196.3h0M226.1 195.4h0M228.7 196.1h0M240 196.4h0M241.2 196.5h0M244.3 196.1h0M247.7 196.8h0M249.5 196.5h0M252.3 196.6h0M253.3 196.8h0M258.4 195.9h0M264 195.7h0M272.6 195.4h0M275 195.3h0M280.7 196.4h0M283.1 195.4h0M288.7 195.8h0M293.4 196.1h0M295.7 195.9h0M198.3 197.3h0M201 197.4h0M210.4 198.6h0M213.3 198h0M222 198.9h0M224.6 197.8h0M225.5 197.7h0M231.7 198.4h0M235.3 198.6h0M238.3 197.8h0M243.9 198.1h0M247.2 197.5h0M248.9 197.9h0M250.1 197.7h0M257.3 197.9h0M258.4 197.9h0M260.3 198.9h0M265.5 197.5h0M269.7 198.9h0M277 198.1h0M281.3 198.1h0M294.4 198.1h0M192.1 199.6h0M193.7 199.8h0M201.4 200.3h0M202.8 199.3h0M213 199.3h0M232.1 199.7h0M238.3 200.3h0M243.3 200h0M256.4 200.3h0M257.6 200.4h0M260.1 199.8h0M274.5 200.8h0M278.8 200.1h0M284.2 200.1h0M293.3 199.4h0M192.7 202.9h0M207.4 202.2h0M224.2 203h0M226.1 201.7h0M228.8 202.7h0M254.5 202.2h0M256.6 201.4h0M268.6 202.1h0M271 202.9h0M275 202.2h0M279.3 203h0M291.3 202.7h0M209.6 203.7h0M212.5 203.9h0M217.7 204.5h0M219.5 204.5h0M221 203.8h0M223.6 204h0M225.8 203.9h0M228.5 204.5h0M242.4 203.5h0M253.4 203.7h0M259.4 203.5h0M266.3 204.1h0M270.1 204.6h0M271.9 203.7h0M276 204.4h0M280 203.8h0M282 204.2h0M288 204.8h0M297 203.5h0M194.1 207h0M196 206.6h0M197.6 206.1h0M204.2 205.8h0M205.6 206.8h0M207 206.1h0M212.2 206.2h0M228.9 205.7h0M229.6 205.8h0M243.2 206.8h0M243.9 205.8h0M249.5 206h0M260.3 206.7h0M286.4 206.5h0M288.5 206.2h0M290.2 206.6h0M291.2 206.2h0M295.2 206h0M192.2 208.7h0M198 208.6h0M207.1 207.8h0M208.9 208.3h0M216.7 208.7h0M218.4 209.2h0M224.5 207.8h0M227.7 207.6h0M230.1 208.9h0M233.2 209.1h0M243.9 208.6h0M247.8 208.2h0M250.6 209.1h0M264.9 207.6h0M265.7 208h0M281.9 209h0M284.3 207.7h0M295.3 207.7h0M195.5 210.2h0M199.9 210.8h0M201.8 210.5h0M208.3 210.1h0M215.3 209.9h0M220.7 210.3h0M223 210h0M224.5 209.9h0M225.9 210.2h0M230 210.9h0M236.7 210.7h0M247.1 211.1h0M254.2 211.2h0M264.4 210.9h0M266.5 210.4h0M268.5 211.2h0M276.9 211.1h0M285.6 211.2h0M296.7 210.2h0M217.4 212.3h0M222.7 212.5h0M228 212.7h0M229 212h0M230.9 213.3h0M248.2 212.7h0M255.5 213.1h0M257.3 213.1h0M262.5 212.3h0M266.1 212.8h0M272.4 212.6h0M280.8 212.2h0M288.5 213.3h0M292.7 212.8h0M197.4 214.4h0M206.4 213.7h0M213.3 214.6h0M218.3 215h0M220.2 213.8h0M232.5 214.6h0M238.9 215h0M242.6 215h0M245.1 214.3h0M248.5 213.9h0M252.7 215.3h0M255.6 214.2h0M256.8 215.1h0M259 215.1h0M260.8 214h0M265.9 215.2h0M268.5 214h0M277.9 214.7h0M281.2 214.6h0M294.3 214.5h0M207.5 216.4h0M210.3 216.7h0M212.4 216.6h0M224.8 216.7h0M237.5 216.1h0M238.9 217.1h0M241.7 216.1h0M245.2 216.9h0M257.5 217.2h0M278.9 216.4h0M280.2 216.6h0M288.1 216.5h0M200.4 217.9h0M206.6 217.9h0M210.2 218.3h0M212.4 218.9h0M218.5 218.8h0M224 218.6h0M228.5 218.3h0M230.8 217.8h0M236.9 218.2h0M244 218.1h0M247.4 219.2h0M248.8 219h0M253.6 218h0M255.3 219.1h0M267.8 218.6h0M278.3 218.8h0M280.1 218.3h0M283 217.9h0M289.1 218.6h0M291.1 218.7h0M293.3 218.5h0M225 220.2h0M246 221.2h0M254.4 220.8h0M218.7 222.6h0" stroke="#b95fa4" stroke-width="2.7" stroke-linecap="round" fill="none"/>
<path d="M191.3 152.7h0M193.6 153.3h0M196.3 152.7h0M199.5 152.6h0M201 153.3h0M219.3 152.7h0M227 152.8h0M230.2 153.7h0M237 153h0M243.1 153.7h0M245.2 152.5h0M245.9 152.6h0M248.7 153.1h0M251.3 152.9h0M259.3 152.7h0M263.1 153.2h0M265.7 153.8h0M267.1 153.3h0M275.9 153.3h0M279.8 152.7h0M287.6 153.8h0M289.2 153h0M292 152.7h0M192.1 154.8h0M203.3 154.7h0M220.8 155.6h0M223.3 155.8h0M236 154.9h0M241.9 154.7h0M245.6 154.6h0M248.4 155.9h0M249.6 154.7h0M253.5 155.4h0M259.4 155.1h0M264.6 154.4h0M266.4 155.4h0M282.2 154.9h0M293.6 155.1h0M295 155.9h0M296.4 155.5h0M219.8 156.3h0M222.2 157.3h0M225 157.9h0M225.6 156.7h0M233.7 157.8h0M251.5 157.7h0M252.9 157.5h0M254.4 157.8h0M265.3 156.6h0M280 156.4h0M286.5 156.7h0M291.5 156.7h0M191.6 160h0M200 159.6h0M205.5 158.9h0M209.3 159.4h0M219.5 159.7h0M225.8 158.6h0M231.1 159.5h0M234.7 158.7h0M241.4 159.9h0M243.3 159.1h0M245.9 159.2h0M249.9 159.7h0M255.8 158.6h0M280.2 159.3h0M284.9 159.5h0M286.2 159.9h0M297.4 159.2h0M215.4 161.9h0M218.1 162h0M221.7 162h0M226.1 160.8h0M230.3 161.9h0M236 161.2h0M244.9 161.9h0M264 161h0M279.3 161.6h0M293.1 160.4h0M296.2 160.8h0M192.4 163.1h0M194.8 164h0M205.5 164.1h0M215.8 162.5h0M218.3 162.7h0M220.4 163.2h0M242.3 162.6h0M243.4 163.1h0M272.6 163.9h0M278.3 163.3h0M285 163.4h0M288.3 164h0M192.8 165.5h0M201.2 165.3h0M203.5 165.1h0M207.5 164.9h0M214.5 165.1h0M217.7 164.8h0M220.8 164.7h0M226 164.6h0M228 165.7h0M232.4 164.8h0M253.6 165.8h0M255.6 165.5h0M258.8 164.8h0M271.2 166h0M272.7 165.4h0M280.9 166.1h0M283.4 166h0M288 166.1h0M293.2 164.5h0M200.9 167.1h0M202.8 168.1h0M209.5 166.7h0M210.9 167.2h0M215.2 167.4h0M217.1 167.7h0M218.9 167.1h0M225.4 168.1h0M229.3 167.3h0M236.9 168.2h0M261.4 167.2h0M270.7 166.6h0M275.1 167.7h0M276.2 167.3h0M280.6 167.8h0M285.4 167.4h0M294.4 167.4h0M192.2 169.4h0M201.7 169.2h0M207.3 169.4h0M210.5 168.8h0M212.6 168.6h0M219.3 169.7h0M239 169.1h0M242 168.9h0M249 168.6h0M251.1 170h0M254.6 169.7h0M256.6 169.6h0M261.9 169.8h0M269.8 169.7h0M271.3 168.6h0M273 168.8h0M275.3 169.8h0M277.8 169.6h0M279.1 168.8h0M289.2 169.9h0M292.3 168.7h0M193.9 171.3h0M212.3 171.7h0M217.1 172.2h0M223.9 171.9h0M230.5 171.6h0M235.9 170.7h0M241.7 172.1h0M245 170.9h0M254.5 171h0M255.7 172.2h0M260.7 171.4h0M264.7 171.5h0M266.5 170.8h0M268.2 171.3h0M271.2 170.8h0M273.8 171.2h0M278 171.6h0M290.7 171.5h0M292.8 172.1h0M197 173.5h0M209.8 173.9h0M214.7 173.7h0M215.4 173.1h0M224 174h0M226 173h0M230 173.9h0M233.9 173.1h0M237 172.7h0M247.4 173.1h0M248 173.9h0M250.2 174.3h0M252.4 172.7h0M254.4 172.7h0M257.1 172.9h0M259.2 174.3h0M267 172.9h0M268.6 173.4h0M270.8 174h0M274.2 173.8h0M277.5 174.3h0M290.2 173.2h0M295.6 173h0M198.5 175.1h0M206.3 176.2h0M209.3 175.6h0M219.4 176.1h0M220.8 176.1h0M230.7 176.2h0M240.2 176.3h0M244 175.4h0M245.3 175h0M247.7 175.4h0M254.5 175.9h0M255.5 174.8h0M257.4 175.4h0M262.8 174.9h0M265.6 174.9h0M283.3 175.8h0M288.2 176.4h0M294.9 175.3h0M296.6 175.4h0M193.3 178.4h0M204.5 177.6h0M210.1 178.4h0M211.1 177h0M224.9 177.4h0M225.5 176.8h0M232.7 177.4h0M242.3 177h0M252.1 177.9h0M255.7 178.2h0M268.7 177.6h0M271.3 177.6h0M287.1 176.9h0M292.1 177.9h0M296.2 176.9h0M192.7 178.9h0M198.4 178.9h0M203.4 179.5h0M214.5 180.4h0M216.8 179.9h0M225.2 180.3h0M244.4 180.2h0M249.8 180.3h0M251.1 180.2h0M256.5 179.2h0M257.7 180.1h0M261.9 179.4h0M292.8 180.5h0M294.8 179.1h0M296.8 180.4h0M197.5 181.4h0M205.2 181h0M207.9 182h0M209.1 182.2h0M216.6 182.1h0M220 181.1h0M223.7 181.9h0M232 182.2h0M238.6 182h0M261 182.1h0M267 181.6h0M277.8 182.4h0M283.1 181.7h0M284.9 182.2h0M292.2 182h0M293.5 181.4h0M206 183.9h0M211.4 183.6h0M213.2 183.3h0M218.7 183.5h0M229.9 183.1h0M232.9 183.7h0M251.7 184.5h0M254.6 183.9h0M260.8 183.6h0M268.5 184.5h0M272.1 184.5h0M278.1 183.5h0M287.1 184.4h0M291.2 183h0M292.5 183h0M194.1 185.3h0M206 185.2h0M250.8 185.3h0M253.5 185.9h0M255.3 185.5h0M261.9 186.2h0M267.9 185.8h0M278 186.4h0M283.2 185.8h0M285.3 186h0M287.5 185.8h0M192.1 187.3h0M196.3 188.3h0M204.1 187.3h0M214.2 187.3h0M220.8 188.4h0M227.1 187.7h0M228.8 187.3h0M233.1 188.1h0M240.1 187.7h0M247.6 187.6h0M251.6 187.4h0M270 188.3h0M275 188.2h0M285.2 187.7h0M286.2 187.8h0M291.2 188.2h0M293.5 187.3h0M295.6 187.7h0M296.5 188.1h0M191.8 190.7h0M195.4 190h0M199.7 189.8h0M206.5 189.6h0M216.1 189.1h0M217.9 189.5h0M219.9 189.9h0M221.9 189.5h0M234.9 190h0M236.9 190.7h0M257.1 190.3h0M293.5 190.1h0M196.2 191.9h0M220.9 191.2h0M223.8 191.2h0M225.8 191.9h0M237.5 191.9h0M248.4 191.9h0M254.4 192.4h0M255.4 191.2h0M260.7 191.6h0M264.6 191.5h0M266.3 191.8h0M270.9 191.5h0M292.9 192.4h0M295.1 192.6h0M200.8 194.1h0M208.6 194.3h0M212 193.8h0M214.5 194.7h0M225 194.8h0M246.6 194.5h0M252.5 193.4h0M271.2 193.5h0M295.3 194.4h0M198.5 195.7h0M207.5 196.1h0M216.5 195.9h0M237.6 195.9h0M255.4 196.9h0M260.7 196.5h0M262.2 196.3h0M265.7 196.8h0M297.3 195.7h0M192.2 197.5h0M193.4 198.1h0M195.2 198h0M200 197.7h0M204.4 198.2h0M206.3 197.9h0M207.6 197.8h0M211.1 198.8h0M228.4 198.3h0M253.1 198.9h0M255.1 198.5h0M264 198.2h0M267 198.2h0M275.9 198.1h0M279 197.5h0M287.7 198.3h0M296.1 197.7h0M196.7 199.7h0M204.7 199.6h0M208.5 199.7h0M215.3 199.4h0M220.4 199.8h0M222.8 200.5h0M228.7 200.8h0M234.1 199.4h0M249.6 200h0M254.1 199.9h0M295.5 200.1h0M296.5 200.8h0M191.4 201.6h0M206 202h0M209.3 202.7h0M217.9 201.7h0M220.7 202h0M221.9 202h0M234.6 201.4h0M236 201.5h0M240.3 202.1h0M243.4 202h0M244 201.8h0M246 201.9h0M252.9 201.9h0M259.3 202.6h0M261 202.2h0M281.4 201.6h0M283.7 201.9h0M293.9 202.6h0M295.4 202.3h0M192.8 204h0M202.6 204.2h0M204.1 203.5h0M211 203.5h0M227.6 204.6h0M231.5 204.6h0M235.9 204.3h0M243.4 204.5h0M245.6 204.7h0M256.1 204.1h0M258.8 204.4h0M262.7 204.4h0M293.6 203.8h0M294.9 205h0M201.6 206h0M209.5 206.8h0M214.2 206.9h0M217.3 205.5h0M219.8 205.9h0M221.5 206.1h0M224.7 205.7h0M226.8 207h0M240.5 205.6h0M247.6 205.8h0M259.5 205.6h0M263.5 206.6h0M267.2 205.5h0M277.5 206.8h0M293.8 206h0M193.8 208h0M196.2 208h0M204.3 207.9h0M241 208.2h0M244.9 207.8h0M262.8 208.3h0M296.5 207.5h0M191.9 210.8h0M193.4 209.7h0M196.8 210.8h0M203.9 210.5h0M218 209.8h0M231.8 209.8h0M233.9 209.9h0M249 211h0M253.3 210.1h0M271.9 210.5h0M273.3 210.9h0M291.9 210.1h0M294.5 210.5h0M191.8 212h0M195.3 213h0M201.3 212h0M202.4 212.6h0M204.7 212.3h0M207.4 213.1h0M208.9 212.5h0M215.3 211.8h0M220.9 211.7h0M240.3 212.3h0M245.8 212.3h0M251.6 212h0M260.4 212.7h0M269.7 211.7h0M284.5 212.8h0M286.3 211.6h0M294.3 212.9h0M297.6 213.2h0M190.9 213.7h0M196.2 214.6h0M200.1 214.2h0M207.9 214.2h0M210.5 215.1h0M212.6 214.9h0M222.9 214.4h0M224.6 214.8h0M227.6 215.2h0M246.6 215.3h0M251.2 215.1h0M263.7 214.8h0M266.8 214.7h0M271 214.3h0M280.2 214.9h0M290.4 214h0M295.2 214.2h0M193.1 216.1h0M194.2 216.7h0M198.1 216.5h0M208.8 216.5h0M218.7 216h0M221.9 215.9h0M227.8 217.3h0M230.1 216.7h0M255.5 216.7h0M268.6 216.5h0M269.8 215.7h0M274.3 215.8h0M287.3 217h0M294.3 216.2h0M297.4 217.3h0M193.9 219.1h0M196.3 218.3h0M197.6 218.5h0M207.3 218.3h0M222 219.2h0M238.4 219.2h0M242.1 218.3h0M256.7 219h0M264.8 218.9h0M270.6 218.6h0M286.5 218h0M288.4 219h0M295.3 219.2h0M195.8 220.7h0M198.1 220.2h0M209.6 221.3h0M220.9 219.9h0M226.9 221.3h0M252.1 220.4h0M267.1 220.2h0M269.5 220.3h0M282.2 220.2h0M292.3 220.1h0M295.4 220.1h0M240.3 222h0" stroke="#a1489a" stroke-width="2.6" stroke-linecap="round" fill="none"/>
<path d="M193.7 213.5h0M241.6 166.5h0M228.4 202.1h0M272.2 167.7h0M231 220.2h0M197.9 179.8h0M289.6 202.1h0M244.9 183.6h0M198.6 204.2h0M226.4 158h0M291.1 158.9h0M239.7 200.2h0M247.2 179.8h0M267.5 169.7h0M263.6 181.5h0M290.9 211h0M214.3 213.6h0M237.2 176.2h0M206.6 164.9h0M195.2 168h0M231.3 199.5h0M284.6 199.9h0M290.6 217.3h0M280.8 172.7h0M195.9 193.2h0M229.2 219.7h0M194 217.3h0M220.5 199.2h0M266.4 185.6h0M271 210.1h0M204.1 208.5h0M292.9 209.1h0M252.4 193.7h0M201.5 191.1h0M221.9 168.9h0M287.2 170.6h0M211.8 211.4h0M246.5 212.6h0M209.3 214.3h0M234.5 213.2h0M254.3 176.1h0M228 160.5h0M248.3 158h0M284.6 170.5h0M224.3 179.2h0M240.6 215.9h0M199.4 177h0M247.2 188.1h0M281.5 189.8h0M260.2 198.5h0M229.8 183.1h0M213.1 160.7h0M290.3 198.9h0M203.5 210.4h0M233.6 181.1h0M272.7 173.2h0M261.7 206.2h0M260.3 164.3h0M203.9 204.2h0M254.1 177.7h0M287.9 190.6h0M293.2 165.5h0M276.8 219.9h0M208.9 166.7h0M240.1 174.7h0M252 160.2h0M195.1 159.4h0M202.8 176.2h0M272.6 192.6h0M208.3 193.5h0M292.8 218.4h0M205.4 200.4h0M200.2 211.7h0M224.9 195.9h0M285.5 183.6h0M224.2 156.9h0M260.3 198.7h0M261.5 158.7h0M226.3 171.7h0M207.5 160.5h0M214.9 211.5h0M280.7 194.4h0M224.6 175.3h0M284.3 162.4h0M203.3 217.3h0M219.5 217.9h0M221.7 159.8h0M224.4 211.5h0M279.8 194.4h0M245.9 182.9h0M226.9 216.8h0M231.9 160.4h0M251.7 178.5h0M224 217.2h0M259.9 184.5h0M286.5 165.5h0M209.9 219.2h0M202.9 203.4h0M220.9 160.2h0M288.9 201.9h0M224.6 167.2h0M265.2 204.2h0M221.8 155.6h0M227.7 190.1h0M222.8 205.3h0M240 167.8h0M247.4 162.4h0M264.4 219.3h0M215.3 165h0M251.1 169.6h0M202.9 187.2h0M210.6 199.3h0M243.4 168.1h0M284.9 190.1h0M272.8 206.5h0M217.8 168.1h0M221.2 187.8h0M267.3 161.3h0M218.5 154.1h0M273.8 216.2h0M252.4 192.8h0M235.7 175.2h0M230 153h0M215.4 185.5h0M226.3 194.9h0M207 179.2h0M287.2 167.9h0M293.1 153.2h0M291.2 218.9h0M285.6 220.8h0M292 187.1h0M275.2 165.3h0M275.7 164.6h0M279.9 205.2h0M261.9 205.8h0M225.1 208h0M286.4 196.4h0M261.8 169h0M232.8 201.5h0M252 190.3h0M205.3 154h0M240.9 208.9h0M293.6 162.6h0M292.3 172.1h0M291.8 181.2h0M273.9 191.8h0M257.6 157.5h0M205.2 214.6h0M197.3 194.8h0M289.3 196.3h0M250.7 201.1h0M272.6 172.8h0M203.2 173.9h0M256.2 167.7h0M227.8 184.6h0M226.6 197h0M288.1 189.5h0M273.9 168.8h0M283.4 211.4h0M202.9 154.1h0" stroke="#e27c9e" stroke-width="1.6" stroke-linecap="round" fill="none"/>
<path d="M191.7 152.8h0M193.8 153.4h0M198 153h0M200.7 152.8h0M208.2 153.5h0M210.5 153.1h0M211.4 154h0M214.3 151.8h0M216.8 153.5h0M219.1 152.2h0M223.1 152.9h0M226.9 153.3h0M229.3 154.2h0M230.1 153.9h0M238.3 152.9h0M243.1 154.1h0M248.3 153.4h0M253.7 153.5h0M256.1 153.7h0M259.6 152.8h0M262.9 153.5h0M270 152.7h0M276.1 153.4h0M279.5 153.1h0M281.3 153.8h0M283.5 153h0M285.9 152.2h0M287.5 153.5h0M289.2 152.6h0M293.9 153.1h0M295.4 154h0M192.1 154.9h0M193.8 155.2h0M198.4 155h0M200.7 155.1h0M202.9 154.9h0M206.6 154.1h0M212.3 155.1h0M220.7 155.8h0M226.3 154.4h0M233 156.2h0M235.6 154.7h0M238.8 154.4h0M242 154.3h0M243.9 153.9h0M253.5 154.9h0M255.5 155.3h0M258.8 154.7h0M262.5 154.9h0M264.3 154.8h0M269 154.2h0M275.4 156.2h0M280.5 155.6h0M281.9 155h0M285.9 154.9h0M285.5 155.3h0M291.6 154h0M293.5 155.3h0M191 157.4h0M200.9 156.9h0M201.5 156.1h0M204.3 156.8h0M208.7 157.4h0M213.4 157.2h0M217.6 157.3h0M229.1 157.2h0M241.5 157.2h0M244.2 157.4h0M246.9 156h0M254.8 157.6h0M257.2 157.4h0M268.4 156h0M279.7 156.7h0M283.1 156.4h0M290.3 157.6h0M291.8 157h0M192 160.1h0M203.7 159.8h0M205.7 158.7h0M206.3 159.2h0M210.5 158.9h0M214.1 159.6h0M220.4 158.5h0M225.4 158.3h0M230.3 159.6h0M230.8 159.1h0M234.7 158.7h0M247.1 159h0M251.7 160.2h0M255.6 158.9h0M258 159.6h0M267.5 158.3h0M271.6 159.2h0M277.7 159.6h0M279.8 159.3h0M282.1 159.3h0M286 159.7h0M289.7 158.8h0M295.2 159.8h0M192.2 162.3h0M194.9 160.5h0M210.3 161.4h0M211.3 160.9h0M213.3 159.9h0M217.7 161.6h0M220.7 161.9h0M221.4 162.3h0M224.6 160.4h0M225.9 160.7h0M227.9 160h0M230.2 161.8h0M231.8 160.3h0M236.2 161.5h0M240.8 160.8h0M243.6 161.5h0M245.3 162.3h0M247 162h0M249.3 161.6h0M257.7 161.8h0M259.4 161.9h0M269.5 161.6h0M279.1 161.7h0M281.8 161.6h0M285.2 161h0M293.1 160.6h0M205.8 163.6h0M206.3 162.5h0M209 163.2h0M211.6 164.4h0M212.6 162.7h0M218.3 162.4h0M231.9 162.7h0M234.9 163h0M237 163.6h0M240.6 164.1h0M241.9 162.3h0M247.4 163.3h0M250 163.3h0M258.4 164.4h0M264.1 162.2h0M265.6 162.7h0M278.3 162.8h0M279.4 164.5h0M282.4 163.9h0M285.5 162.9h0M297.5 163.2h0M193.2 165.6h0M197 164.9h0M200.9 165h0M203.3 165.3h0M207.8 165.3h0M214 165.2h0M220.7 164.4h0M222 165.8h0M227.6 165.7h0M230.7 165.3h0M232 165.1h0M241.1 165.4h0M255.2 165.5h0M259.3 164.9h0M260.4 164.8h0M264.3 166.3h0M267.7 165.4h0M270.9 165.6h0M272.7 164.9h0M280.5 165.7h0M283.7 165.6h0M291.8 164.9h0M204.7 166.8h0M209.1 166.5h0M211 167.3h0M215.4 167.3h0M218.8 167h0M220.9 167.6h0M223.3 167.6h0M236 167.2h0M236.5 168.6h0M242.5 167h0M244.6 167.1h0M246.2 167.1h0M247.4 167h0M251 167.7h0M253.2 167.3h0M254.9 166.3h0M259.8 167.1h0M261.9 167.3h0M266.6 166.6h0M267.2 167.9h0M270.6 166.2h0M276.1 167.6h0M278.9 167.5h0M282.9 167.4h0M294 167.2h0M192.1 169.5h0M196 168.8h0M199.7 169.3h0M202 169.4h0M210.2 168.8h0M215 170.1h0M232.5 169h0M236.1 169.3h0M239 169.1h0M244.9 169.9h0M254.7 169.5h0M256.8 169.2h0M262.9 170.2h0M270.3 170.1h0M271.2 168.5h0M275.1 169.9h0M278 169.7h0M284.6 169.3h0M285.4 169.8h0M293.1 170.2h0M198.2 171.2h0M200.3 171.4h0M205.3 170.4h0M208.7 171.5h0M217 172.3h0M218.5 170.4h0M224.1 172.2h0M230.6 171.3h0M233.3 171.6h0M235.6 170.4h0M237.1 170.4h0M243.3 172.3h0M251.5 172h0M254.4 171.3h0M268 171.5h0M292.9 171.9h0M294.5 171.9h0M296.1 171.2h0M192.5 173.1h0M206.4 173.5h0M217.6 173.7h0M220.5 172.7h0M224.2 174.2h0M227.6 172.8h0M230.1 174.4h0M232.4 174.1h0M241.5 173.3h0M242.9 173.8h0M243.6 172.6h0M248.4 174.2h0M254.3 173.1h0M260.4 172.8h0M273.9 173.7h0M285.7 173.9h0M289.7 172.8h0M291.4 174.3h0M294.4 173.1h0M295.4 172.6h0M192.3 175.2h0M194.3 175.4h0M199.7 175.9h0M210.6 176.2h0M215.3 176.9h0M225.7 174.5h0M227.6 175.1h0M233.7 174.7h0M240.3 176.6h0M241.6 175.3h0M243.6 175.6h0M245.7 175.2h0M247.5 175.6h0M252.6 174.8h0M255.6 175h0M257.1 175.6h0M262.3 174.6h0M264.3 175.2h0M265.4 175h0M269.4 175.3h0M269.4 175.3h0M283.5 175.4h0M286.6 175h0M292.5 174.5h0M295.1 175.8h0M297 175.9h0M202.1 177.4h0M216.9 177h0M219.9 177.4h0M225.4 177.2h0M227.6 177.5h0M230.6 176.5h0M232.7 177h0M236.2 177.9h0M242.6 177.1h0M244.7 178h0M248.4 177.9h0M251.6 176.5h0M252.5 178.3h0M256.2 177.4h0M267 177.8h0M268.4 177.7h0M270.8 177.1h0M273.7 178.4h0M286.5 176.9h0M291.8 178.3h0M192.6 178.6h0M196.2 179h0M199.6 179.9h0M207.7 179.1h0M210.3 179.2h0M212.9 180.4h0M214.2 180.1h0M220.9 180.3h0M228.2 178.6h0M230 179h0M233 180h0M236.4 180.4h0M244.1 180.6h0M247.6 179.1h0M250.8 180.4h0M254.3 180h0M256.7 179.1h0M257.9 179.9h0M259.7 178.9h0M265.2 179.6h0M266.2 180.2h0M268.4 179h0M270.1 180.1h0M279.9 179h0M284 179.8h0M293.2 180.7h0M294.8 178.8h0M197.5 181.6h0M200.5 181.5h0M203.9 182.1h0M207.7 182.4h0M211 182.8h0M214 180.9h0M222.8 182.1h0M223.7 181.5h0M226.5 180.6h0M230.5 181.5h0M232.1 182h0M233.7 180.9h0M239 181.7h0M244.6 182.3h0M247.4 182.1h0M255 180.7h0M259 181.5h0M263.2 182.5h0M264.8 182.1h0M282.8 181.6h0M285.4 182.2h0M292.5 181.6h0M293.4 181h0M208.4 184.5h0M216.8 184h0M225.7 183.9h0M229.5 183.1h0M230.4 184.2h0M254.9 184.3h0M257.6 183.9h0M261 183.4h0M261.9 183.1h0M268 184.1h0M269.8 183.4h0M272.2 184.2h0M287.6 183.9h0M291.2 182.7h0M292.3 183.3h0M298 184.9h0M191.5 186.1h0M194.1 185.4h0M204.3 185.3h0M206.1 184.9h0M211.3 186.5h0M219.1 185.2h0M225.7 185.4h0M258.8 185.5h0M262 186.5h0M262.3 186.2h0M265.7 185.6h0M268.6 185.7h0M277.7 186.3h0M279 185.8h0M283.2 186.1h0M287.7 186.1h0M290 185.7h0M293.6 186.7h0M192.3 187.1h0M193.6 188.3h0M196.2 188.4h0M198.3 187.2h0M203.7 186.9h0M213.1 188h0M213.8 187.6h0M220.9 188.7h0M228.7 186.9h0M233 188.3h0M244 187.3h0M248 188h0M251.3 187.9h0M256.8 188h0M257.3 188.4h0M260.5 187.4h0M262.3 188.5h0M266 188.8h0M272.2 187.4h0M277.6 188.2h0M285.6 187.5h0M286.4 187.5h0M291.1 188.3h0M293.9 187.5h0M295.4 187.5h0M193.3 189.9h0M200.2 189.4h0M206.7 189.7h0M211.7 189.3h0M216.2 188.8h0M221.9 189.6h0M224.2 191.1h0M227.1 189.3h0M235 189.5h0M237 190.6h0M250.7 189.7h0M253.6 190.9h0M256.1 188.8h0M264 189.2h0M264.6 189.4h0M271.6 189.5h0M274.1 189.6h0M283.4 189.2h0M285.9 189.7h0M291.8 190.1h0M293 190.2h0M295.7 189.1h0M195.8 192h0M200.7 191.9h0M221.1 191.3h0M223.6 191h0M225.8 192h0M239.1 191.2h0M248.9 192h0M254.5 192.5h0M261.6 192.9h0M270.6 191.1h0M271.6 192.1h0M278.7 191.6h0M282.1 191.8h0M295 193h0M191.9 193.7h0M192.6 193.4h0M205 195.2h0M205.6 194.6h0M208.3 194.3h0M212 193.8h0M215.9 193.8h0M240.3 194.8h0M243.2 193.5h0M246.4 194h0M249.1 193.1h0M250.6 193.6h0M258.9 194h0M270.8 193.8h0M272.9 194.9h0M275.2 194.4h0M283.4 193.2h0M192.7 196.3h0M194.4 195.7h0M200.5 196h0M207.4 196.6h0M214.1 196.3h0M221.1 196.1h0M223.7 195.9h0M235.2 196.9h0M237.5 196h0M240 196.7h0M241.6 196.2h0M244.3 195.8h0M255.8 197.2h0M260.6 196.2h0M262 196.1h0M264 196.1h0M269.1 196.3h0M275 195.7h0M289.1 195.7h0M295.4 196.3h0M193.4 198h0M195.1 197.7h0M200.9 197.9h0M206 197.6h0M207.5 197.9h0M225.9 198.1h0M231.4 198.6h0M235.4 197.9h0M238.4 197.8h0M242.7 198h0M248.8 197.5h0M249.8 197.5h0M254.9 198.2h0M257.8 197.6h0M258.6 197.8h0M263.7 198.5h0M265.8 197.6h0M267 197.7h0M269.8 199.1h0M277.2 197.8h0M280.8 197.9h0M294.8 197.8h0M194 199.9h0M201.9 200.6h0M202.4 199.3h0M210.4 199.9h0M214.9 199.1h0M219.8 199.5h0M235.5 199.8h0M240.5 200.6h0M246.3 200h0M254.3 199.8h0M256.4 199.9h0M260 199.5h0M281.2 200.8h0M282 199.8h0M295.6 199.9h0M296.3 200.6h0M191.3 201.5h0M207.4 202.6h0M218.2 201.5h0M220.8 201.5h0M226.1 201.7h0M234.6 201.5h0M240.8 202.4h0M245.8 201.6h0M253.2 202.2h0M274.6 201.9h0M278 202.2h0M279 203h0M283.3 201.7h0M294.4 202.6h0M294.9 202.3h0M193 204.3h0M202.6 204.5h0M210.1 203.8h0M218.1 204.4h0M220.9 204.3h0M226.1 203.9h0M234.2 204.8h0M235.6 204h0M236.8 204.9h0M243.4 204.8h0M256.1 203.7h0M259.1 203.4h0M263.1 204.8h0M265.9 203.6h0M275.3 203.7h0M279.6 203.6h0M287.8 204.5h0M294 204.2h0M195.8 206.4h0M197.2 205.8h0M204.7 205.6h0M209.3 207.1h0M212.1 206.2h0M217.7 205.3h0M225 205.4h0M226.7 206.9h0M229 206h0M229.7 206.1h0M232.5 205.9h0M240.6 206.1h0M247.8 205.3h0M251.2 207.1h0M259.1 205.4h0M260.6 206.4h0M263.2 206.9h0M272.1 207.1h0M278 206.4h0M278.9 206.4h0M286.8 206.2h0M290.2 207h0M295 205.8h0M196.5 208.4h0M201.1 208.6h0M204 207.4h0M215.5 208.2h0M216.6 208.6h0M218 208.8h0M223.6 208.8h0M227.8 207.5h0M230.1 208.8h0M236.5 209.4h0M240.5 208.2h0M243.4 208.7h0M245.1 207.5h0M250.8 209.5h0M265.3 208.1h0M292.6 208.6h0M192.4 210.5h0M206.5 210.1h0M214.9 210.1h0M220.8 210.3h0M224.9 210h0M226.2 210.4h0M228.2 210.6h0M231.8 210.2h0M233.8 209.7h0M247.1 211.6h0M248.9 210.7h0M253.8 211.1h0M266.4 210.9h0M273.8 210.6h0M281.7 211h0M285.7 211.1h0M291.7 210.1h0M191.5 211.5h0M204.2 211.8h0M207.5 212.7h0M209.3 212.6h0M213.1 213.4h0M215.6 211.4h0M217.7 212.7h0M225.8 213.3h0M228 212.7h0M229.4 211.6h0M230.8 213.3h0M234 212.8h0M244.1 211.3h0M245.6 212.4h0M253.4 212.7h0M260.3 212.8h0M266.3 212.6h0M269.3 211.8h0M272.5 212.1h0M276 211.7h0M281.1 212.7h0M294.8 212.9h0M297.8 213.2h0M193.6 214.8h0M206.7 213.3h0M207.6 214.2h0M212.9 214.4h0M218.1 215.2h0M227.2 214.9h0M238.8 214.5h0M248.5 213.7h0M250.8 215.4h0M255.1 214.6h0M259 215h0M260.5 213.7h0M263.5 215.2h0M278 214.9h0M280.9 215.1h0M294.3 214.8h0M295.4 214h0M207.5 216.1h0M208.5 216.5h0M212 216.7h0M218.8 215.8h0M221.5 216.1h0M223.5 215.7h0M227.6 217h0M239.2 216.8h0M244.5 216.8h0M244.8 217.3h0M247.5 216.5h0M250.8 216h0M252 216.9h0M255.5 216.8h0M259.7 216.2h0M270.2 216.1h0M273.9 215.5h0M278.4 216h0M287 217.2h0M287.6 216.3h0M293.2 216.6h0M294.1 216.5h0M193.6 219h0M196.4 218h0M200.1 217.5h0M212.4 218.6h0M218.9 219h0M221.9 219.1h0M224.1 218.6h0M226.3 218.4h0M228.4 218.4h0M230.8 218.2h0M238.4 219.3h0M244.1 218.1h0M247.9 218.8h0M255.4 219.3h0M264.6 218.5h0M271 218.7h0M275.3 218.8h0M283.1 218.4h0M286 217.6h0M291.1 219.1h0M293.2 219h0M195 221.4h0M196.1 221.1h0M198.6 220.7h0M217.5 220.5h0M221.1 220.4h0M227.2 221.7h0M260 220.3h0M266.7 220.7h0M269.6 219.9h0M295.7 219.9h0M218.9 223h0" stroke="#6f2e74" stroke-width="1.35" stroke-linecap="round" fill="none"/>
<path d="M188 223 C210 222.2 240 222.6 260 221.8 S285 221.5 298.5 221.5 V242 H188Z" fill="#ecd8cc"/>
<path d="M188 228 C220 227.6 260 227 298.5 226.4 V242 H188Z" fill="#e6b4d0"/>
<path d="M188 229.4 C220 229 260 228.4 298.5 227.8 V242 H188Z" fill="#c4669d"/>
<path d="M192 232 C220 231.5 260 230.8 294.5 230" fill="none" stroke="#b34a8a" stroke-width="1.2" opacity="0.6"/>
<ellipse cx="279" cy="196" rx="3" ry="5" fill="#ecd6dc" opacity="0.55"/>
<path d="M234.5 223h0M192.2 222.5h0M276 224.4h0M257.1 224.5h0M202.5 227.4h0M288 224.2h0M290.9 225.5h0M234.6 222.2h0M293.1 221.7h0M234.5 223.4h0M266.6 223.8h0M197.1 223.8h0M194.3 225h0M287.6 225.5h0M290.2 224.9h0M248.7 224.9h0M193.8 223.4h0M239.5 224.7h0M284.1 225.7h0M226.2 227.4h0M254.2 221.9h0M245 223.3h0M232.6 225.2h0M277.9 225.8h0M289 224.9h0M202.9 225h0M281.6 223.5h0M291.7 221.9h0M254.5 222.9h0M251.9 222.9h0M245.9 222.6h0M286.7 227h0M244.2 222.5h0M247.9 222.7h0M286.7 226.6h0M204 222.4h0M257.5 223h0M204 222.5h0M195.4 226.7h0M205.5 221.9h0M220.3 221.7h0M272.2 226.1h0M246.3 227.4h0M286.5 225h0M207.7 226h0M192 227.2h0M272.5 225.5h0M204.2 226.3h0M272.3 227.2h0M235.8 223.7h0M281.6 224h0M260.7 226h0M212.6 224.9h0M274.6 227.4h0M217.1 223.5h0M238.8 222.5h0M191.6 225.5h0M267.8 224h0M205.5 223.9h0M204 225.2h0M198.2 223.1h0M197 224.5h0M286.1 225.6h0M204 222.3h0M260.3 222h0M252.4 221.7h0M201.7 226.8h0M232.6 223.4h0M196.6 225.9h0M248.5 225.8h0M201.4 223.8h0M224.3 221.6h0M236.1 224.7h0M242.8 225.8h0M237.7 224.3h0M209.9 223.9h0M215.2 224.1h0M258.7 224.4h0M214.8 226h0M205.4 226.5h0M282.4 222.7h0M209.9 224.9h0M195.3 224.6h0M241.9 226.2h0M210.8 226h0M199.4 224.6h0M234.8 223.7h0M241.1 223.5h0M264 225.5h0M191.7 224h0M222.2 225.4h0M277 226.2h0M284.1 227.1h0M247.8 221.6h0M264.5 226.8h0M285.3 224.1h0M203.9 224.5h0M207.3 223.3h0M210 226.6h0M290.9 226.5h0M252 226.8h0M285.5 224h0M230.3 223.3h0M211.2 226.4h0M224.5 223.9h0M280 225.1h0M195.5 225.2h0M201.3 224.5h0M216.7 226.2h0M249.9 224.2h0" stroke="#a04a9c" stroke-width="1.4" stroke-linecap="round" fill="none"/>
</g></g>
<g clip-path="url(#c3)"><g filter="url(#bl)">
<rect x="73.8" y="244.8" width="110.2" height="87.4" fill="#e9d3cf"/>
<path d="M82.1 297.3h0M79.1 307.4h0M99.3 272.5h0M164 260h0M157.9 326.6h0M162.3 271.7h0M95.2 315.4h0M85.5 278.2h0M140.9 314h0M138.3 288h0M110 304.6h0M152.1 313.4h0M123.1 309.5h0M118 261.1h0M139.6 252.8h0M93 327.9h0M113.8 323.9h0M176.2 275.2h0M168.3 322.4h0M160.5 272h0M124.7 302.7h0M150.4 321.4h0M124.1 306.2h0M83.7 316.8h0M108.6 305.9h0M79.4 280.9h0M126.8 287.4h0M131 327.3h0M164.2 278.7h0M83.8 265.1h0M161 305.5h0M132 307.5h0M98.9 286.6h0M125.5 275.3h0M126.3 258.6h0M136.1 300.1h0M133.3 311.2h0M164.5 299.7h0M124 277.9h0M112.7 322.4h0M84.5 260.1h0M116.8 263.5h0M144.6 325.4h0M147.5 292.3h0M130.6 279.3h0M129.1 305.3h0M111.6 265.4h0M97.6 251h0M135.6 302.9h0M96.6 294.5h0M125.8 259.7h0M91.6 309.8h0M171.8 272.1h0M138.2 283.2h0M131.9 274.5h0M131.3 261h0M104 262h0M130.7 297.7h0M136.4 273.5h0M143 283h0M172.8 276.9h0M91.7 283.2h0M109.3 314.4h0M153.1 324.4h0M126.8 309.5h0M144.2 255.7h0M86.5 320h0M174.1 279h0M84.2 265.4h0M162.2 278h0M152.6 304.6h0M107.3 255.6h0M96.7 269.6h0M102.6 288h0M148.3 289.7h0M104.9 320.6h0M80.1 312.5h0M121.2 308.8h0M78.2 251.2h0M175.4 286.6h0M128.5 252.6h0M167.6 276.8h0M173.2 257.2h0M115.1 316.8h0M170.9 318.8h0M84 310.4h0M163.9 318.1h0M151.4 263.1h0M129.2 260.4h0M80.4 294.6h0M142.4 318.3h0M85.4 315.7h0M128.6 307.7h0M106.9 287.3h0M152 275.4h0M81.6 272.9h0M147.6 254.7h0M179.3 289.8h0M133.2 255.9h0M155.8 293.8h0M119 309.7h0M91.4 267.4h0M167.6 262.8h0M174.8 313.9h0M179 313.2h0M140.4 265.5h0M159.7 310.7h0M174.5 307.8h0M84.1 315.8h0M151.9 293.5h0M82.9 266.1h0M84.5 250.9h0M123.8 251h0M149.4 253.4h0M174.9 310h0M120.4 300.1h0M93.9 325.5h0M137.7 270h0M87.5 269.8h0M103.3 299.8h0M114.2 272.1h0M119.9 302.6h0M172.7 310h0M91.9 321.5h0M86.9 251.5h0M150.3 294.5h0M92.2 323.5h0M156.5 266.3h0M155.8 260.5h0M131 286.1h0M122 254.8h0M151.3 281h0M170.3 251.5h0M108.9 316.5h0M130 258.2h0M167.3 260h0M133.2 290h0M131.7 268.7h0M101.8 287.2h0M134.8 320.2h0M147 252.9h0M157.1 301.5h0M118.4 324.5h0M154.2 290.2h0M103.2 259.6h0M154.2 306.2h0M166.4 249.6h0M144.5 285h0M83.1 278.8h0M172.4 265.9h0M169.4 295.7h0M153.6 279.5h0M166.7 284.7h0M98.4 300.8h0M142.3 283.4h0M102.9 297.8h0M97.7 310.1h0M92.7 307.6h0M126.3 297.5h0M166.8 281h0M137.5 297.2h0M166.8 326.1h0M176.3 319.4h0M144 295.5h0M88.8 278.5h0M98.8 267.6h0M124.9 278.6h0M85.9 276.9h0M144 298.9h0M163.4 297.6h0M117.8 298.8h0M174.7 286.9h0M119.8 322.7h0M156.6 287.4h0M115.5 261.8h0M149.4 318.5h0M117.3 312.6h0M174.1 266.6h0M154.3 264.2h0M175 285.2h0M89.7 271h0M108.1 327.7h0M126.5 255.9h0M102.2 309.9h0M139.8 265.8h0M111.3 304h0M155.8 261.8h0M163.1 271.5h0M122 279h0M162.4 271.8h0M131.3 285.3h0M130.9 304h0M166.2 284.4h0M156.3 276.9h0M115.7 262.8h0M110.2 301.8h0M102 275.6h0M89.2 281.2h0M116.8 269.3h0M77.8 256.5h0M153.3 295.5h0M169.7 256.7h0M176.9 311.3h0M113.5 284.2h0M113.4 323.2h0M137.6 257.4h0M107.7 276.9h0M128.3 289.7h0M164 272.7h0M158.6 303.9h0M140.2 303.9h0M166 312.3h0M140.4 253.9h0M87.9 254.8h0M81.1 263.1h0M117.9 283.1h0M132.3 291.1h0M147.5 278.2h0M157 317h0M94 304.8h0M122.7 316.4h0M123.1 263.4h0M141.2 279.3h0M177.3 261.3h0M151 302h0M162.8 297.9h0M89.5 309.4h0M130.8 252.1h0M175.2 255.3h0M88.5 283.9h0M168.3 303.8h0M159.1 292.1h0M121.3 259.5h0M168.4 279.1h0M137 268.4h0M103.5 308.1h0M93.4 284h0M144.2 297.9h0M128.8 264.7h0M172.4 324h0M157.3 318.4h0M175.8 253.1h0M101.3 277.4h0M85.9 296.5h0M147.4 296.2h0M166.2 294.6h0M142.3 308.7h0M156.6 324.5h0M81.8 295.9h0M98.4 313.6h0M161.2 309.6h0M82.2 260.5h0M95.4 327h0M165.4 315.2h0M150.9 295.7h0M154.7 284.7h0M171.6 304h0M117.9 268.2h0M138.9 287.1h0M105.9 260h0" stroke="#e792b0" stroke-width="2.6" stroke-linecap="round" fill="none"/>
<path d="M80.5 247.9h0M86.2 249.3h0M91 248h0M100.3 248h0M101.9 248h0M105.1 249.6h0M108.2 249.2h0M110.5 249.7h0M112.6 249.4h0M118.5 249.3h0M125.4 249.6h0M128.2 248.4h0M133.4 249.2h0M136.3 248.6h0M139.1 247.8h0M144 247.9h0M147.2 248.8h0M148.5 247.9h0M151.6 249.7h0M155 248.1h0M157.3 248h0M162.3 248.4h0M166.7 248.2h0M170.5 249h0M175.9 248.3h0M180.5 249.2h0M181.4 249.5h0M78.9 251.4h0M82.7 251.5h0M85 250.6h0M89.2 251.1h0M107.6 251.6h0M114.2 252.1h0M118.1 251.7h0M120.6 250.7h0M125.6 252.1h0M131.3 252.1h0M137.4 251.3h0M138.8 251.2h0M142.8 251h0M147 252.2h0M154.1 252.1h0M161.6 251.3h0M167.7 252h0M172.2 251.6h0M181.7 251.9h0M183.4 251.8h0M78.1 253.4h0M80.7 254.5h0M83.3 253.4h0M85.2 254.2h0M91.7 253.6h0M93.5 253.6h0M102.3 254.3h0M104.5 254.3h0M111.4 255.1h0M121.6 254.9h0M123.9 254.2h0M129.3 254h0M144 254.7h0M155.2 254.9h0M160.8 254.4h0M163 254.8h0M78.9 256.3h0M86.4 256.9h0M89.3 256.3h0M92.6 257.8h0M98.4 257.3h0M100.6 257.5h0M107.4 257.3h0M112.8 256.4h0M114.8 256.1h0M126.3 256.3h0M129.2 256.7h0M131.5 256.6h0M146.1 257.8h0M147.9 257.9h0M150.8 256.7h0M153.9 256.7h0M165.2 256.3h0M77.9 259.4h0M80.4 260h0M86.3 259.1h0M96.7 259.6h0M101.7 260.3h0M110.6 258.8h0M112.9 258.9h0M125.2 259.5h0M127.1 259.2h0M129.5 259h0M135.3 260.2h0M143.4 259.8h0M147.2 259.7h0M152 259.6h0M155 259.2h0M165.6 259.6h0M181.4 259h0M85.6 263.2h0M93.6 262.5h0M95.6 261.6h0M101.9 261.8h0M115.4 263.2h0M120.7 261.6h0M128 261.9h0M131.5 263.3h0M134.8 263.4h0M142.6 262.1h0M147.8 262.7h0M150.9 263.4h0M152.7 263.2h0M158.2 262.5h0M161.1 263.5h0M164 261.6h0M183.2 262.3h0M77.9 266.1h0M88.5 265.5h0M98.9 265.9h0M105 265h0M110.6 266.2h0M113.8 264.4h0M116.1 264.3h0M124.1 265.1h0M127.7 266.3h0M133.6 264.3h0M141.8 265.2h0M144.7 265h0M145.7 265.2h0M148.7 265.2h0M152.8 265.6h0M155.4 264.3h0M165.6 265.5h0M176 266.2h0M183.2 265.7h0M80 267.1h0M84.9 267.1h0M88 267.3h0M93.8 268.6h0M99.3 267.6h0M101.6 267.5h0M103.8 268.8h0M106 267.3h0M115.7 268.8h0M125.9 269h0M131.2 267.7h0M134.6 268.5h0M138.8 267.4h0M145.4 268.5h0M147.2 268.5h0M153.6 267.5h0M155.4 267.1h0M167.1 267.2h0M169.2 267.2h0M176.3 267.5h0M178.9 267.4h0M181.1 268.2h0M78.7 271.6h0M80.8 270.1h0M86 271.6h0M88.7 270.3h0M95.1 271.3h0M97.5 270.3h0M98.9 271.7h0M105.5 271.4h0M108.6 270h0M113 271.8h0M115.4 270.8h0M119.9 271.6h0M124.5 270h0M127.5 271.8h0M138.4 270.8h0M141.4 270.8h0M144.4 270.2h0M146.9 271.7h0M161.2 271.2h0M162.8 271.4h0M169.4 271h0M175.8 270.4h0M180.2 271.5h0M181.3 270.7h0M79.9 274.4h0M82.9 273.1h0M88.1 274.4h0M90.7 273.6h0M97.9 273.6h0M100.5 274.3h0M107.2 273.8h0M109.7 272.9h0M113.1 273.9h0M115.7 274.1h0M119.8 273.1h0M128 273.6h0M131.4 272.8h0M134.1 273.7h0M137.7 273.8h0M141.8 274.3h0M147.7 274.5h0M156.7 274h0M158.4 274.4h0M160.9 273.7h0M165.4 273.8h0M166.9 273.3h0M173.2 274.2h0M184.5 273h0M78.4 276.9h0M80.7 277h0M86.8 275.6h0M102.1 276.9h0M111.5 276.5h0M130 275.8h0M136.5 275.9h0M158.5 276.9h0M159.7 276.6h0M168.8 275.8h0M174.4 275.3h0M180.4 275.9h0M182.4 275.9h0M82.3 278.6h0M84.6 279.7h0M87.2 278.6h0M89.8 278.6h0M98.9 279.1h0M101.6 278.5h0M106.5 278.1h0M117.6 279.5h0M137.5 278.3h0M140.4 278.7h0M142.4 279.6h0M151.3 279.8h0M156.4 279.7h0M158.4 279h0M164 278.4h0M170 278.1h0M77.4 281.8h0M82.4 280.8h0M86.5 281.1h0M88.1 281h0M104.4 281.8h0M116.1 281.3h0M127 281.2h0M151.7 282.4h0M157.3 281.5h0M166.7 281.3h0M168.4 282.4h0M174.2 281.5h0M182.6 281.8h0M79.7 284.9h0M84 284h0M87.6 285h0M121.3 283.7h0M123.5 285h0M125.3 283.8h0M136.3 284.1h0M141.6 284.9h0M145.2 284h0M150.2 285.4h0M152.5 285.4h0M158.4 285.3h0M161.3 284.6h0M164.2 284.6h0M174.8 285.2h0M180.1 284.8h0M182.9 284.4h0M78.3 287.5h0M83.6 288.1h0M86.1 287.6h0M88 286.4h0M99.7 288.3h0M102.1 287.8h0M105.9 286.5h0M107.5 286.7h0M110.1 287.3h0M115.4 286.7h0M124.3 287.3h0M137.8 287.3h0M142.9 286.5h0M146.7 287.7h0M148.4 288.1h0M152.1 287.1h0M169.3 286.5h0M171.3 287.3h0M177.2 286.7h0M79.7 290.4h0M82.5 289.3h0M83.8 290.6h0M98.8 290.2h0M100.7 289.8h0M107.4 290.2h0M115.4 289.7h0M129.4 290h0M136.8 289.1h0M145.7 290h0M148.8 290.4h0M156.5 289.3h0M158.1 289.8h0M162.2 290.9h0M164.7 290.3h0M172.4 289.8h0M180.6 289.9h0M184.4 290.8h0M84.3 293.7h0M102.2 292.4h0M108.7 293.2h0M110 292h0M114.4 293.2h0M117.1 292.1h0M138.8 292.8h0M146.9 292.5h0M149.1 293.1h0M152.8 292.7h0M154 292.9h0M156.7 292.9h0M161 293.4h0M166.7 292.3h0M79.1 296.2h0M90.7 295h0M98.1 295.2h0M109.7 296h0M119.6 296.4h0M145.1 295.4h0M150.6 295.5h0M152.5 294.9h0M156.9 296.5h0M164.6 295.9h0M173.2 294.6h0M181.8 294.8h0M183.6 295.1h0M77.4 297.4h0M81.1 298.5h0M88.6 298.4h0M91.6 298.5h0M93.7 297.5h0M96.6 299h0M122.5 297.6h0M123.9 297.7h0M127.9 297.9h0M140.8 297.9h0M142.9 299.1h0M149.3 297.5h0M152.3 299h0M154.7 297.4h0M167.6 297.7h0M171 297.6h0M173.9 297.6h0M176.9 298.5h0M183 298.4h0M78.7 300.9h0M82.8 301.1h0M86.9 300.5h0M93.2 301.3h0M95.7 301.4h0M98.7 301.2h0M103.7 300.3h0M114.3 301.3h0M119.5 301.9h0M122.9 301.5h0M132.1 301.3h0M139.9 301.3h0M141.6 300.1h0M145.6 300.9h0M148.4 300.8h0M152.5 300.2h0M155.4 301.1h0M167.8 301.4h0M169.9 300.7h0M181.5 300.6h0M184.3 301.7h0M78.3 302.9h0M84.2 303.2h0M85.5 304.6h0M91.9 304.7h0M97.2 304.6h0M99.9 304h0M107.8 304.6h0M112.6 303.4h0M116.8 304.3h0M125.2 303.9h0M128.2 304.6h0M129.5 302.9h0M133.5 304.2h0M135.6 304.5h0M149 303.8h0M151.6 304.4h0M169.1 303.8h0M171.6 304.6h0M182.2 303.2h0M78.3 307.3h0M82.8 307h0M89.6 306.2h0M97.8 307.1h0M101.7 306.9h0M110.1 306.4h0M111.8 305.7h0M113.9 305.6h0M118.6 305.8h0M134 305.9h0M141.9 307.1h0M148.5 307h0M157 307h0M160.7 306.6h0M167.2 306.6h0M174.7 307.2h0M177.2 305.8h0M184.3 306.8h0M78 308.5h0M86.3 309.8h0M89.7 308.3h0M92.5 308.7h0M103.3 309.1h0M115.9 309.9h0M119.9 309.7h0M130.5 309.7h0M143.6 308.5h0M146 308.8h0M171.1 308.7h0M173.8 309h0M176.3 308.4h0M181.8 308.6h0M78.4 312.1h0M92.6 312.3h0M96.6 311.9h0M98.1 312.5h0M100.3 312h0M103.9 312.6h0M106.3 312.7h0M110.3 311.4h0M111.8 312.1h0M130.5 312h0M133.8 311.4h0M140.3 312.1h0M142.9 311.8h0M145.2 312.7h0M159.2 311.8h0M162.5 313h0M164.4 311.7h0M166.3 311.9h0M169.4 312.4h0M175.5 311.4h0M77 314.6h0M82.9 314.1h0M92.5 314.8h0M96.2 315.5h0M105.5 315.4h0M107.3 315h0M117.2 315.7h0M119.4 314.6h0M122.6 314.9h0M125.4 314.8h0M128.2 313.9h0M130.8 314.8h0M136.5 315.6h0M144.3 314.2h0M149.7 314.9h0M157.6 315.7h0M160.2 315.3h0M164 313.9h0M168.1 314.2h0M170.6 314.8h0M173.5 315.6h0M175.9 313.8h0M179.1 314.5h0M79.9 318.2h0M81.2 316.8h0M98.5 317.6h0M106.5 318.3h0M109.9 318.1h0M126.8 316.6h0M129.5 317.1h0M133.5 317.4h0M154.2 318.2h0M158 316.8h0M161.9 318.2h0M163.8 317.2h0M172.5 317.7h0M176.1 317.3h0M180.5 316.8h0M183.3 316.9h0M79.9 321h0M105.4 320.6h0M107.3 320.7h0M110.9 320.9h0M114.5 320h0M116.7 320.6h0M126.9 320.3h0M135.2 320.3h0M137.6 320.2h0M145.9 319.4h0M148.6 321.1h0M152.1 319.5h0M163.6 320.2h0M180.2 320.3h0M95.7 322.9h0M103.3 322.8h0M110 322.5h0M120.7 323.6h0M122.3 323.8h0M128.8 322.7h0M130.9 322.8h0M136.1 323.8h0M152.8 323.6h0M159.9 323.9h0M162.1 323.6h0M172.2 324h0M178.9 323.4h0M183.5 322.6h0M83.4 326h0M86.4 325.8h0M91.3 325.5h0M110 326.6h0M113.1 326h0M116.2 325.1h0M118.6 326h0M121.6 325.7h0M129.7 326.8h0M133 325.3h0M147.3 326.3h0M149.3 326.1h0M152.1 326h0M155.5 326.2h0M157.9 325.1h0M170.6 325.4h0M176.1 326.1h0M180.1 325h0M182.7 325.4h0M79.3 327.7h0M82.5 327.8h0M87.2 329.1h0M98.6 328.6h0M104.5 327.9h0M106.7 329h0M108.9 328.5h0M117 329.3h0M119.5 327.7h0M124.2 328.5h0M128.4 327.9h0M131.8 328.5h0M137.5 328.6h0M142.8 328.7h0M145.5 328.6h0M147.7 327.9h0M154.4 329.1h0M162.2 329.4h0M164.1 328.6h0M170.3 328.9h0M175.2 328.3h0M181.3 328h0" stroke="#d572b2" stroke-width="3.1" stroke-linecap="round" fill="none"/>
<path d="M77.4 248.5h0M84.2 247.9h0M89.5 248.3h0M93.8 248h0M97.1 248.9h0M121.7 249.3h0M130.5 248.8h0M160.6 248.5h0M168.1 249.6h0M173.1 248.2h0M87.7 251.3h0M93.5 251.3h0M94.9 251.1h0M112.8 252.2h0M123.5 251.6h0M129.3 251.8h0M150.9 250.9h0M175.6 251.4h0M179.1 250.9h0M88.3 255h0M107.2 255.2h0M116.9 253.7h0M118.8 255.3h0M146.2 254.4h0M149.8 254.8h0M157.7 253.9h0M165 254.2h0M179.5 254.6h0M182.5 253.5h0M81.2 257h0M84.5 256.8h0M95.8 257.3h0M103.6 256.9h0M119.6 257.6h0M156.8 257.2h0M158.2 256.7h0M180.5 256.1h0M182.9 257.4h0M82.8 260.5h0M88.4 260h0M90.9 258.9h0M95.1 259.2h0M99.7 259h0M116.1 260.6h0M121.5 260.1h0M131.9 260.5h0M149 260.6h0M157.8 260.8h0M161.2 260.3h0M78.8 262.4h0M82.7 262.4h0M89.4 262.7h0M98.2 263.2h0M117.9 262.4h0M122.4 262.2h0M126.5 261.9h0M136.6 262.3h0M139.8 263.2h0M144.6 262.4h0M157.1 262.7h0M80.2 265.7h0M86.2 265.1h0M91.9 265.8h0M94.5 265h0M97.1 265.4h0M103 265.8h0M119.9 265.5h0M121.9 265.7h0M129.7 264.4h0M136.5 265.2h0M139.3 265.2h0M159.4 265.9h0M162.9 264.5h0M173.2 265.2h0M179.9 265.4h0M82.7 267.6h0M90.8 268.3h0M94.8 268.1h0M109.5 268.4h0M111.5 267.4h0M117.5 267.1h0M120.6 267.5h0M124.1 267.1h0M129.5 269h0M136.5 268.5h0M150.7 267.9h0M161.6 267.3h0M164 268.1h0M172.8 267.5h0M184.6 268.6h0M82.3 271.7h0M92.2 271.3h0M102.5 270.6h0M110.9 270.9h0M122.1 270h0M133.7 270.5h0M135.9 270.7h0M150.2 270.1h0M166 271.6h0M173.6 271.1h0M84.7 273h0M93.1 273.5h0M96.6 274h0M140.6 273.5h0M145.3 274.3h0M169.6 272.6h0M175.9 273.4h0M178.4 274h0M180.3 273.9h0M82.7 276.3h0M88.6 275.8h0M96.7 276.6h0M100.3 275.7h0M108.6 276.7h0M123.7 275.9h0M139.1 276.8h0M141.8 276.7h0M144.1 276.2h0M146.9 275.9h0M149 277.2h0M151.6 277.2h0M154.3 277.3h0M163.3 275.6h0M166.2 276.2h0M171.1 276.4h0M176.6 276.2h0M79.5 279.5h0M109.8 279.8h0M112 279.2h0M120.5 278.7h0M124.1 279.3h0M134.8 278.9h0M147.1 278.4h0M153.2 278.8h0M166.3 279.2h0M172.9 279.6h0M175.1 278.2h0M180.6 279.8h0M183.5 279.1h0M80.4 280.8h0M99 282h0M107.8 281.4h0M111.4 281.4h0M113.9 282.7h0M122.5 282.2h0M124.7 282.4h0M154.9 282.1h0M160.5 280.8h0M171.2 282.5h0M179 281.9h0M93.5 284.3h0M101.8 283.6h0M103.6 284h0M107.5 284.8h0M111.3 285h0M114.4 285.4h0M140.7 284.6h0M148.9 285h0M155.7 284.5h0M172.3 284.3h0M177.7 284.4h0M81.2 288h0M114.1 286.3h0M122.4 286.3h0M140.5 286.4h0M154.3 288.3h0M162.6 286.9h0M165.1 287.9h0M179.2 287.4h0M183.2 286.8h0M104.8 289.1h0M108.5 290.1h0M112.8 289.5h0M117.8 290.6h0M134.6 290.5h0M139.1 289.9h0M142.1 290.8h0M153.7 289.8h0M167.4 290.2h0M170.8 290.7h0M175.6 291h0M177.4 290.1h0M76.9 292.9h0M80.5 293.8h0M85.1 292.3h0M89.4 292.8h0M105.9 292.6h0M122.3 292.4h0M125 293.3h0M140.2 292h0M143.7 293.2h0M163.8 293.3h0M168.7 292.7h0M177 292.9h0M178.6 291.9h0M182.4 292.9h0M81.4 295.4h0M87.4 295.3h0M93.1 295.9h0M104.8 295.4h0M107.1 296.4h0M112.4 296h0M115.7 295.9h0M117.6 296.2h0M123.5 295.8h0M125.3 296.4h0M137.2 294.8h0M140 296.1h0M142.1 295.3h0M167.5 295.5h0M170 295.8h0M83.9 297.3h0M85.2 298.3h0M102.7 298.9h0M119.4 299.2h0M129.3 297.8h0M133.5 298.2h0M139.2 299.2h0M146.6 298.3h0M165.8 297.3h0M83.7 301.5h0M106.9 302h0M128.2 301.5h0M150.8 300.7h0M171.9 301.9h0M174.6 300.2h0M87.9 304h0M94.3 303.8h0M111.2 303.6h0M118.7 303.6h0M121.9 303.7h0M144.6 303.6h0M146.8 303.8h0M155.8 304.3h0M165.9 303.2h0M173.4 303h0M85.2 305.6h0M86.5 306.2h0M92.8 306.4h0M94.9 306.8h0M120.4 305.8h0M123.9 306h0M128.1 307.4h0M131.8 306.5h0M136.7 305.6h0M138.8 306h0M145 305.6h0M150.2 306.1h0M153.6 307.3h0M164.8 306.3h0M181.5 305.7h0M79.7 308.9h0M82.6 310h0M94.8 308.7h0M96.2 310.3h0M98.8 309.8h0M104.8 310.2h0M107.5 309.9h0M110.9 309h0M112.7 308.7h0M132.5 310.2h0M135.6 309.3h0M137.9 309.4h0M142 308.7h0M149.3 310h0M151.5 309.5h0M155 308.4h0M156.7 309.9h0M163.1 308.6h0M165.2 308.5h0M168.2 309.1h0M84.8 311.2h0M87.1 312.1h0M89.5 311.2h0M128.5 312.9h0M148.7 312.6h0M150.3 312.9h0M152.7 311.3h0M156.4 311.2h0M178.6 312.5h0M181.8 311.2h0M184.1 311.9h0M81.5 315.5h0M94.3 314.9h0M99.8 315.3h0M102.8 315.4h0M110.1 315.3h0M113.4 314.4h0M132.7 315.7h0M146.2 313.9h0M151.1 314.3h0M154.2 315.7h0M165.8 315.6h0M182.5 314.7h0M95.2 317.8h0M102.1 317.5h0M113 318h0M118.3 317.9h0M120.8 317.2h0M123.8 317.1h0M130.5 318.5h0M137.1 318.1h0M179.1 317.5h0M77.6 319.6h0M91.1 320.6h0M119.4 320.7h0M130.7 319.4h0M132.4 320.4h0M159.6 319.7h0M174.7 320.7h0M175.9 320.2h0M181.9 319.7h0M79.4 323.4h0M81.7 322.1h0M112.9 323.1h0M114.4 323.4h0M117 322.3h0M134.5 323.3h0M139.6 322.8h0M142.1 323.2h0M144.3 323h0M146.9 323h0M151.2 323.3h0M156.5 323.5h0M164.2 322.4h0M175.5 323.6h0M180.2 322.5h0M100.4 326h0M102.1 325.6h0M107.8 326.5h0M124.8 325.3h0M127.8 325.1h0M135.9 326.5h0M138 325.9h0M161.1 326.2h0M162.4 326.3h0M165.4 325.5h0M167.8 326.5h0M173.2 326h0M84.5 328.8h0M90.3 328.6h0M95.5 329.3h0M101.4 327.7h0M112.7 328.9h0M115.8 329h0M125.6 327.6h0M133.2 328.6h0M138.8 328.3h0M151.5 328h0M156 329.4h0M158 329.3h0M167.5 329h0M171.7 328.6h0M177.8 329.4h0M184 328.4h0" stroke="#c866a4" stroke-width="3" stroke-linecap="round" fill="none"/>
<path d="M77.2 248.2h0M85.8 249.3h0M89.3 248.3h0M102.1 248h0M105.4 249.3h0M118.8 249.6h0M121.7 249.4h0M125.8 249.8h0M128.5 248.4h0M130.9 249.1h0M133.3 249.3h0M143.6 248.2h0M162.1 248.5h0M167.9 250h0M180.2 249h0M89.2 251.4h0M93.3 251.7h0M94.8 251.5h0M107.4 251.3h0M112.4 251.9h0M125.8 251.9h0M129.5 252h0M137.6 251.6h0M142.7 250.7h0M146.9 252.1h0M161.5 251.3h0M168.1 251.8h0M175.6 251.5h0M179 250.6h0M182 251.6h0M183 251.8h0M85 254.1h0M93.3 253.8h0M111.2 255.2h0M121.8 254.9h0M124 253.8h0M182.9 253.9h0M80.9 256.6h0M84.6 256.5h0M89.1 256.7h0M98.5 257.1h0M119.2 257.7h0M129.4 256.4h0M148 258.3h0M154.1 256.3h0M156.9 257.1h0M182.6 257.2h0M77.9 259h0M86.4 259.2h0M91.3 258.8h0M125.2 259.8h0M146.9 259.8h0M151.7 259.8h0M154.9 259.4h0M165.2 259.5h0M181.6 259h0M95.2 261.5h0M115.6 262.9h0M117.6 262.4h0M120.9 262h0M126.4 261.9h0M128.1 261.7h0M140.1 263.3h0M143 262.1h0M144.7 262.3h0M147.6 262.4h0M151 263.6h0M160.8 263.5h0M80.5 266.1h0M92.2 265.4h0M94.5 265.2h0M97.1 265.7h0M102.7 265.9h0M105.3 265.1h0M110.9 266.4h0M120.3 265.6h0M129.9 264.3h0M136.6 265.6h0M139.1 265.2h0M149 265.2h0M152.6 265.9h0M155.7 264h0M162.9 264.3h0M165.8 265.8h0M175.9 266.2h0M182.8 265.5h0M80.3 267.3h0M88.1 267.6h0M91 268.1h0M95.1 268.4h0M111.5 267.7h0M120.9 267.8h0M124.3 266.8h0M129.6 269h0M134.3 268.8h0M138.7 267h0M145.6 268.2h0M146.9 268.4h0M155.3 267.3h0M164.1 268.5h0M169.2 267h0M176.3 267.3h0M184.3 268.4h0M86.4 271.8h0M88.7 270.4h0M95 270.9h0M97.8 270.1h0M102.9 270.5h0M113.2 271.6h0M161.1 271.1h0M162.6 271.6h0M176.1 270.7h0M179.9 271.5h0M84.8 272.9h0M87.9 274.5h0M92.7 273.8h0M96.4 273.9h0M98.2 273.4h0M107.4 274.2h0M113.4 274h0M115.5 273.8h0M127.6 273.6h0M131.5 272.5h0M134.3 273.8h0M137.7 273.5h0M141.4 274.4h0M156.7 274h0M166.8 273.2h0M169.8 272.8h0M175.6 273.5h0M178.2 273.7h0M81 277.1h0M82.3 276.7h0M129.8 275.9h0M136.3 275.6h0M139.3 277h0M141.8 276.9h0M158.4 276.8h0M163.7 275.9h0M168.9 275.8h0M82.1 278.4h0M84.3 279.7h0M86.9 278.2h0M89.8 278.9h0M110.2 280.2h0M120.7 278.5h0M123.9 279.6h0M147 278.6h0M153.2 278.6h0M158.5 279.1h0M163.7 278.4h0M170 278.4h0M173.1 279.4h0M180.2 279.8h0M183.6 279.2h0M77.3 282h0M99 282h0M114.3 282.8h0M122.3 282.1h0M127.4 281.1h0M157 281.3h0M160.8 280.8h0M168.2 282.7h0M179.3 281.6h0M87.7 285.3h0M93.6 284.6h0M101.4 283.6h0M111.3 284.9h0M121.4 284h0M141.9 284.9h0M145.3 284.2h0M149.2 284.9h0M150.1 285h0M155.8 284.2h0M78.7 287.2h0M83.5 288.5h0M107.5 286.9h0M114.3 286.4h0M122.3 286.1h0M148.8 288.5h0M152.5 287.5h0M169.2 286.1h0M177 286.8h0M79.6 290.2h0M82.8 288.9h0M83.9 290.3h0M104.5 288.9h0M107.2 290.2h0M113.1 289.7h0M115.5 289.5h0M118 290.9h0M134.5 290.6h0M136.5 288.8h0M139 289.8h0M177.6 289.9h0M180.3 289.6h0M184.5 290.5h0M85.2 292.6h0M102.1 292.3h0M116.9 292.1h0M122.3 292.1h0M124.8 293h0M138.7 293h0M140.1 291.9h0M144.1 293.3h0M149.2 292.9h0M152.5 292.7h0M160.7 293h0M168.8 292.6h0M182.4 292.9h0M81.5 295.7h0M90.7 295h0M92.7 296.1h0M109.6 296.2h0M115.7 295.8h0M123.5 295.5h0M125.5 296.4h0M137.6 294.4h0M140.3 296.3h0M142.3 295.3h0M152.7 295.1h0M157.1 296.9h0M181.5 295h0M77.6 297.2h0M85.3 298.3h0M91.4 298.7h0M93.4 297.4h0M96.3 298.9h0M103 299.2h0M119.6 299h0M122.7 297.9h0M129.5 297.6h0M139.1 299.1h0M140.4 298.1h0M143.2 298.8h0M146.7 298h0M167.5 297.9h0M83.4 301.5h0M86.7 300.3h0M93.2 301.1h0M104.1 300.7h0M107.1 302.2h0M132.3 301.2h0M141.6 300.1h0M148.6 301.2h0M155.5 301.4h0M168.1 301h0M171.5 302h0M174.7 300h0M78.3 303.2h0M84.1 303.4h0M87.9 303.8h0M94.4 304.2h0M107.5 304.9h0M112.7 303.5h0M116.6 304.1h0M121.7 303.5h0M146.4 304.2h0M151.8 304.4h0M172 304.8h0M173.1 303.2h0M78 307.6h0M85.1 305.3h0M86.4 306.5h0M92.8 306.3h0M110 306h0M111.8 305.8h0M120.4 305.8h0M132.1 306.4h0M148.2 307.3h0M157.4 306.8h0M160.9 306.2h0M165 306.1h0M174.4 307.3h0M77.6 308.5h0M89.4 308.6h0M94.7 308.7h0M105.2 310.4h0M107.2 309.7h0M110.6 309.3h0M112.8 308.6h0M116 309.8h0M132.8 309.8h0M135.9 309.5h0M149.3 310.2h0M165.3 308.8h0M168.2 309.1h0M171.3 308.7h0M176.4 308.2h0M182 308.2h0M84.6 311.3h0M89.3 310.9h0M96.4 311.9h0M110.3 311.1h0M112.1 312.2h0M128.9 313.1h0M139.9 312.3h0M142.9 311.9h0M145.2 312.3h0M156.5 311.2h0M158.9 311.7h0M164.1 311.5h0M166.5 311.7h0M169.7 312.7h0M77 314.5h0M81.4 315.6h0M92.5 315.2h0M103.1 315.4h0M105.3 315.5h0M110.2 315.2h0M113.4 314.2h0M128.5 313.6h0M136.8 315.4h0M146.3 313.8h0M151.1 313.9h0M160.2 315.3h0M163.7 313.9h0M175.7 313.8h0M178.7 314.6h0M79.6 317.9h0M102.4 317.5h0M130.9 318.7h0M158 317h0M162 318.5h0M179 317.3h0M183.3 316.9h0M77.8 320h0M90.8 320.8h0M107.5 320.7h0M116.9 320.8h0M127.3 320h0M135.4 320.7h0M79.6 323.6h0M95.8 323.1h0M110.4 322.4h0M116.7 322h0M120.5 323.6h0M134.5 323.7h0M136 324.1h0M144.2 323.2h0M151.2 322.9h0M156.4 323.4h0M179.9 322.6h0M83.7 326.1h0M91.2 325.1h0M100.5 326.3h0M102.1 325.5h0M116.5 324.7h0M129.4 326.6h0M132.7 325h0M138.3 325.8h0M147.1 326.6h0M151.8 326.1h0M155.3 325.8h0M158.2 324.9h0M175.9 326.5h0M179.8 325.3h0M182.5 325.7h0M79.5 327.9h0M95.8 329.7h0M98.8 328.5h0M101.6 327.7h0M116.1 329.1h0M133.4 328.6h0M137.9 328.3h0M138.9 328.4h0M142.5 328.7h0M145.5 328.9h0M154.2 329.1h0M162 329.7h0M170.3 328.5h0M172 328.5h0M183.7 328.1h0" stroke="#7c2c78" stroke-width="1.9" stroke-linecap="round" fill="none"/>
<path d="M80.2 247.7h0M83.9 247.7h0M91.4 247.6h0M93.6 247.9h0M108.3 249h0M110.3 249.3h0M112.8 249.1h0M148.7 247.9h0M151.3 249.7h0M166.6 248h0M170.8 249h0M172.9 248.1h0M181.3 249.4h0M79.2 251.7h0M84.7 250.7h0M120.7 250.4h0M131 252h0M138.5 251.4h0M172.6 251.6h0M77.7 253.7h0M80.6 254.7h0M88.1 254.9h0M91.7 253.9h0M104.3 254.5h0M107.2 255.3h0M116.6 253.9h0M118.8 255.4h0M129.4 253.6h0M144 254.7h0M146.3 254.7h0M149.6 255h0M154.9 254.8h0M157.3 253.7h0M161 254.7h0M164.6 254.1h0M179.2 254.3h0M92.8 257.9h0M96.1 257.5h0M107 257.6h0M112.9 256.3h0M126.1 256.1h0M131.6 257h0M146.1 257.5h0M150.8 256.4h0M158.2 256.9h0M165.1 256.3h0M180.5 256.2h0M80.7 259.9h0M82.6 260.1h0M88.1 259.6h0M94.9 259.5h0M102 260.4h0M112.7 258.9h0M116 260.3h0M121.7 259.9h0M127.3 259h0M135.4 260.1h0M158 260.8h0M161.1 260.4h0M78.4 262.6h0M89.5 262.7h0M94 262.6h0M98.3 263.4h0M101.6 261.7h0M131.8 263h0M136.3 262.1h0M153.1 263.6h0M157.2 262.6h0M77.5 266.2h0M86.6 264.8h0M88.7 265.5h0M99 266h0M113.6 264.3h0M121.8 265.4h0M124 265h0M127.9 266.5h0M133.6 264.3h0M144.7 265.3h0M146 265.4h0M159.4 266h0M179.5 265.3h0M82.5 267.7h0M84.8 267.1h0M93.7 268.7h0M99.5 267.4h0M103.9 268.4h0M106.3 267.3h0M109.4 268.1h0M115.4 269.1h0M117.3 266.7h0M125.7 269.1h0M131.3 267.6h0M150.8 267.7h0M153.8 267.7h0M167.5 267.5h0M178.9 267.2h0M180.9 267.9h0M81.9 271.6h0M92.1 271h0M105.4 271.4h0M115.7 270.8h0M119.6 271.6h0M124.7 269.9h0M127.3 271.5h0M133.7 270.9h0M136.1 270.3h0M138.5 271h0M141 270.9h0M147.2 272h0M150.5 270h0M169.5 270.7h0M174 270.7h0M181.2 270.8h0M90.7 273.8h0M100.2 274.5h0M110 272.6h0M120.2 273.2h0M145.4 274.7h0M158.2 274.6h0M184.3 273.3h0M88.3 275.9h0M96.4 276.8h0M100.3 275.5h0M108.9 277.1h0M144 276.2h0M146.9 276h0M148.6 277.1h0M152 277.2h0M154.6 277.5h0M159.6 276.5h0M180.5 275.6h0M182 276.1h0M98.8 278.8h0M101.6 278.7h0M106.7 278.3h0M111.7 278.9h0M117.5 279.2h0M137.8 278.4h0M140.5 278.5h0M142.7 279.3h0M151.2 279.7h0M156.1 279.5h0M166 279.6h0M174.9 278.2h0M80.3 280.5h0M82.3 281.2h0M104 281.6h0M107.9 281.7h0M116.3 281.7h0M154.6 281.8h0M170.9 282.8h0M174.5 281.7h0M182.8 281.8h0M83.8 284h0M104 283.7h0M107.1 284.5h0M123.5 284.7h0M125 284h0M152.8 285.1h0M158.7 285.2h0M161.5 284.2h0M172.6 284.1h0M174.4 285.5h0M180.4 284.7h0M88.3 286.7h0M99.4 288.3h0M102 287.7h0M137.9 287.4h0M140.3 286.5h0M146.6 287.4h0M162.2 287.2h0M165.2 287.7h0M171.2 287h0M179.4 287.2h0M182.9 287.1h0M101 290.1h0M108.7 289.9h0M129.1 290.1h0M142.1 290.9h0M145.5 289.8h0M148.6 290.2h0M158.1 289.6h0M164.4 290.3h0M170.8 290.7h0M76.6 292.8h0M80.7 293.5h0M89.2 292.7h0M114.3 293.2h0M154.3 293h0M164 292.9h0M166.8 292.2h0M178.8 291.8h0M79.3 296.4h0M87.2 295.6h0M98.2 295h0M106.9 296.3h0M112.2 296.2h0M144.7 295.2h0M150.9 295.2h0M164.3 295.6h0M170 295.5h0M183.3 294.7h0M80.9 298.9h0M83.8 297.4h0M88.7 298h0M123.5 297.8h0M127.8 297.6h0M133.5 298.1h0M149.3 297.1h0M151.9 299.1h0M154.6 297.4h0M166.2 297.7h0M170.7 297.7h0M173.6 297.4h0M177.1 298.1h0M79 301.2h0M96.1 301.6h0M98.6 301h0M114.7 300.9h0M145.4 300.8h0M152.4 299.8h0M184.6 301.5h0M85.8 304.6h0M92 304.5h0M97.5 304.8h0M99.6 303.8h0M110.9 303.2h0M129.5 302.7h0M133.4 304h0M144.2 303.5h0M168.9 304.1h0M182.3 303.5h0M89.4 306.2h0M94.8 306.6h0M97.8 306.7h0M114 305.2h0M118.8 306h0M123.5 306.3h0M127.8 307.5h0M136.7 305.3h0M138.5 306.3h0M142 307.2h0M150.6 306.2h0M153.2 307.3h0M167.2 306.3h0M177.6 305.8h0M82.4 309.9h0M92.3 308.8h0M98.5 309.5h0M103.3 309.4h0M119.9 309.3h0M130.8 309.8h0M137.7 309.7h0M145.7 308.4h0M151.9 309.7h0M163.5 308.9h0M173.7 308.6h0M78.2 312h0M87.4 312.4h0M98 312.6h0M100.4 311.6h0M106.3 312.9h0M130.3 312.4h0M149.9 313.2h0M162.9 313.4h0M178.5 312.7h0M181.4 311.3h0M183.9 311.9h0M94.4 314.6h0M96.4 315.2h0M107.3 314.7h0M117.3 316h0M131.1 314.6h0M133 315.4h0M144.6 314.3h0M149.5 314.9h0M154 315.8h0M157.8 315.5h0M165.9 315.8h0M173.2 315.7h0M182.5 314.8h0M95.4 318.1h0M98.3 317.2h0M106.3 318h0M110.1 317.8h0M113.2 318.1h0M118.1 318.2h0M123.6 316.8h0M126.4 316.4h0M129.1 317h0M133.7 317.1h0M136.8 318.2h0M154.6 317.9h0M172.2 317.6h0M175.8 317.2h0M180.4 316.9h0M79.8 320.8h0M114.7 319.7h0M119.8 320.3h0M131.1 319.2h0M132.3 320.2h0M137.2 320.6h0M145.7 319.5h0M148.2 321h0M164 320.4h0M174.8 320.5h0M182.3 319.9h0M82 322.1h0M114.2 323.2h0M128.6 322.5h0M140 322.6h0M153 323.9h0M159.7 324.3h0M162.3 323.6h0M164.3 322.7h0M171.9 323.8h0M179.2 323.3h0M183.9 322.3h0M86.6 325.8h0M110.4 326.7h0M118.3 325.8h0M121.2 325.8h0M124.6 324.9h0M128 324.7h0M135.6 326.2h0M149.3 325.9h0M160.9 326.4h0M165.3 325.5h0M170.6 325.2h0M82.9 327.9h0M84.8 329h0M87.3 328.8h0M90.6 328.4h0M104.6 327.6h0M106.5 329.2h0M108.5 328.2h0M113 328.6h0M116.9 329.6h0M119.4 327.8h0M124.2 328.7h0M128.2 327.8h0M147.6 327.8h0M156.3 329h0M158 329.2h0M167.4 328.6h0M181.7 327.8h0" stroke="#62226a" stroke-width="1.7" stroke-linecap="round" fill="none"/>
<ellipse cx="149" cy="257" rx="6.5" ry="5" fill="#cb8cb8"/>
<ellipse cx="149.4" cy="257.3" rx="3.6" ry="2.8" fill="#ad68a0"/>
<ellipse cx="151" cy="275" rx="4.5" ry="5" fill="#cb8cb8"/>
<ellipse cx="151.4" cy="275.3" rx="2.5" ry="2.8" fill="#ad68a0"/>
<ellipse cx="155" cy="291" rx="4" ry="4.5" fill="#cb8cb8"/>
<ellipse cx="155.4" cy="291.3" rx="2.2" ry="2.5" fill="#ad68a0"/>
<ellipse cx="119" cy="294" rx="6.5" ry="4.5" fill="#cb8cb8"/>
<ellipse cx="119.4" cy="294.3" rx="3.6" ry="2.5" fill="#ad68a0"/>
<ellipse cx="87" cy="293" rx="5" ry="6" fill="#cb8cb8"/>
<ellipse cx="87.4" cy="293.3" rx="2.8" ry="3.3" fill="#ad68a0"/>
<ellipse cx="84" cy="280" rx="4" ry="5" fill="#cb8cb8"/>
<ellipse cx="84.4" cy="280.3" rx="2.2" ry="2.8" fill="#ad68a0"/>
<ellipse cx="170" cy="262" rx="5" ry="4" fill="#cb8cb8"/>
<ellipse cx="170.4" cy="262.3" rx="2.8" ry="2.2" fill="#ad68a0"/>
</g>
<polygon points="133.1,266.8 140.4,261.8 136.9,260.9 145,260.4 141.6,267.8 142.1,264.2 134.9,269.2" fill="#1a22e6"/>
<polygon points="141.3,286.2 144.3,281.2 140.8,281.8 148,278 148,286.2 146.9,282.7 143.9,287.8" fill="#1a22e6"/>
<polygon points="148,302.5 149.6,297.8 146.3,299.2 152.6,294 154.2,302 152.5,298.8 150.8,303.5" fill="#1a22e6"/>
<polygon points="103,305.9 110.6,299 107,298.6 115,297 112.6,304.8 112.6,301.2 105,308.1" fill="#1a22e6"/>
<polygon points="79.7,306.3 82.5,301 79,301.8 86,297.6 86.4,305.8 85.2,302.4 82.3,307.7" fill="#1a22e6"/>
</g>
<g clip-path="url(#c4)"><g filter="url(#bl)">
<rect x="187.4" y="244.8" width="110.8" height="87" fill="#e9d3cf"/>
<path d="M292.7 303.7h0M203.2 300.7h0M197.9 309.6h0M286.9 274.4h0M269 295.7h0M192.7 267.2h0M268.7 323.3h0M226 277.3h0M262.4 323.3h0M283.5 300.7h0M239.8 289.7h0M291.3 262.7h0M286 324.7h0M263.7 276.6h0M261.7 279.9h0M227.3 291.5h0M237.1 312.9h0M206.6 248.9h0M288.3 267.1h0M231.6 313.7h0M242.5 267.7h0M261.9 276.1h0M280 326.2h0M211.8 304.5h0M217.4 283.2h0M214.2 319.5h0M279.8 321h0M218.1 281.2h0M220.7 300.1h0M249.9 259.3h0M252.8 261.8h0M223.8 298.9h0M221.9 297.3h0M278.9 287.3h0M232.6 293.5h0M254.7 253.4h0M209.2 277.4h0M232.1 273h0M248.2 256.4h0M250 269.5h0M261.6 306.4h0M239.6 267h0M191.9 288.7h0M285.8 302.8h0M266 286.9h0M273 305.3h0M251.1 284.6h0M224.7 288h0M205.9 285.3h0M285 255.5h0M242.2 308.5h0M194.5 317.4h0M212.4 291.4h0M287.9 254h0M229.2 289.7h0M230.7 268.2h0M198.3 290h0M273 281.2h0M233.1 309.4h0M225.9 304.4h0M229 267.3h0M245.7 253.5h0M211.1 308.5h0M255.5 294h0M192.4 306.6h0M285.8 289.4h0M259.6 270.9h0M273.3 271.8h0M240.9 259.3h0M215.5 285h0M223.6 293.3h0M287.3 310.8h0M287.1 318.7h0M280.8 293.7h0M246.2 303.6h0M211.4 308.1h0M240.7 255.9h0M270.4 316.9h0M225.9 287h0M271.5 266.2h0M202.1 292.4h0M213.6 310.4h0M221.7 261h0M269.3 324.7h0M255.1 308.7h0M265.1 251.3h0M197.4 282.9h0M287.3 299.9h0M252.1 267.6h0M204.5 315.5h0M278.8 282.7h0M226.6 311.7h0M246.8 311.2h0M237.5 289.4h0M224.6 289.6h0M277.4 278.2h0M248.1 294.4h0M237.7 259.2h0M229.2 253.8h0M247.6 280.3h0M216 253.2h0M218.1 252.7h0M284.2 258.2h0M232.6 273.5h0M290.6 313.9h0M207.1 310.7h0M284.9 292.2h0M265.3 287.8h0M236.5 285h0M204.5 321.3h0M211.1 249.6h0M221 281.1h0M236.1 322.1h0M202.1 325.9h0M234 298.8h0M238.5 282.4h0M278.2 258.4h0M256.3 309.5h0M283.4 257.5h0M195.9 309.9h0M287.2 280.1h0M195.1 308.4h0M240.1 305.6h0M205.8 319.4h0M233.2 293.2h0M266.3 312.9h0M216.1 289.1h0M261.3 270.8h0M253.1 293h0M199 325.1h0M246.4 278.2h0M204.2 316.8h0M272 284.6h0M261.9 288.3h0M256.3 270.6h0M294.1 296.8h0M283 320.1h0M265 289.9h0M194.3 285.3h0M202.8 276.9h0M195.2 288.5h0M268.3 276.2h0M285.2 259.4h0M278.7 277h0M212.6 271.6h0M252.9 305.3h0M282 326.5h0M204.7 274.6h0M256.3 316.4h0M244.6 314.3h0M267 325.2h0M218.5 250.8h0M294.1 310.9h0M194.5 317.4h0M239.8 286.4h0M230.2 314.2h0M226 304.8h0M192.6 326.7h0M252.7 255.7h0M220.8 251.9h0M204.3 296.3h0M255.3 320.5h0M292.1 258.2h0M219.4 320.8h0M207.2 325.5h0M246.2 300.4h0M269.9 253.6h0M229.5 271.9h0M249.1 254.9h0M226.8 255.7h0M261.4 279.3h0M264.3 324.8h0M258.9 268.2h0M193.4 293.6h0M251.8 256.5h0M251.3 263.2h0M277.7 267.5h0M227.5 307.4h0M249.5 283.2h0M215.3 262.3h0M194.9 270.5h0M214.1 284.3h0M259.2 273.1h0M222.5 309.5h0M207.7 282h0M271.6 301.5h0M256.7 268.6h0M260.5 316.4h0M262.2 289.5h0M212.7 255.4h0M207.2 276.8h0M231.8 298.5h0M267.4 311.9h0M251.4 272.2h0M201.9 288.4h0M225.6 282.8h0M192.6 317h0M242.3 259.2h0M277.3 300.5h0M219 296.3h0M210.1 323.7h0M215.7 318.1h0M294.1 312.8h0M260 313.4h0M258.6 290.2h0M265.1 314.8h0M220.7 296.8h0M200.9 300h0M234.8 313.7h0M218.4 319h0M283 299h0M232.9 321.9h0M227.1 282.3h0M225 280h0M213.4 249.6h0M203 281.7h0M217.6 321.4h0M229.1 312.5h0M249.2 309.2h0M216.7 303.5h0M206.9 269.7h0M252.5 255h0M238.1 317.9h0M239.8 264.5h0M218.2 291.7h0M214.1 253.5h0M236.5 260h0M271.1 272.2h0M252.3 285.9h0M238.2 294h0M242.1 250.7h0M286.6 280.2h0M195.8 257.9h0M241.8 264.4h0M276.5 277.5h0M281.1 282.5h0M240.1 264.2h0M225.8 287.5h0M265.5 289.9h0M283.2 305.5h0M252.4 257.3h0M244.7 266.7h0M230.5 301.5h0M223.5 284.7h0M255 267.9h0M283.7 266h0M220.7 298.5h0M195.4 265.1h0M259.1 321.5h0M219.1 280.3h0M222.4 289.3h0M239.1 307.7h0M210.6 327.1h0M268.6 259.5h0M252 315.2h0M218.2 303h0M287 315.5h0M205.7 317.3h0M209.6 300.5h0M294 286.7h0" stroke="#e792b0" stroke-width="2.6" stroke-linecap="round" fill="none"/>
<path d="M191.6 248.2h0M194.2 248.7h0M197 248.4h0M199.3 249.3h0M204.6 248.7h0M213 248.9h0M226.7 248.7h0M229.1 249.6h0M232.3 247.8h0M238.1 248.2h0M241.1 248.1h0M244.4 248.5h0M248.3 248.5h0M254.1 249.8h0M263.9 249.2h0M268.2 249.2h0M271.8 248.8h0M274.2 247.8h0M279 249.5h0M291 248.1h0M293.6 248.6h0M296.6 249h0M192.7 250.7h0M195.7 251.4h0M198.8 252.5h0M201.1 252.5h0M208.7 251.6h0M214.5 252.5h0M220.5 251.7h0M226 252.3h0M228.4 251h0M230.5 250.9h0M237.8 252.1h0M239.6 252.3h0M256.2 251.2h0M258.4 252h0M263.4 252.4h0M266.3 251.2h0M275 252h0M282.8 250.8h0M285.5 251.9h0M288.7 250.8h0M296.4 251.5h0M192.1 254.1h0M196.1 255h0M199.1 253.5h0M211 254.8h0M212.8 254.6h0M215.7 255.2h0M224.2 254.8h0M227.2 253.8h0M235.6 253.4h0M240.1 254.7h0M242.8 253.5h0M248.3 255.2h0M251.4 254.7h0M256.7 254h0M260.3 254.3h0M265.2 253.4h0M271.1 253.5h0M273.6 255h0M276.1 253.5h0M287.5 254.7h0M291.2 254.5h0M292.6 254.4h0M296.5 254h0M192.8 257h0M198.4 256.7h0M215.2 257.1h0M216.7 257.7h0M223.1 257.4h0M226.2 257.6h0M230.8 256.6h0M234.4 257.4h0M237.1 256.4h0M242 257.3h0M249.8 256.9h0M252.7 257.6h0M262.3 257.6h0M267.7 257.2h0M269.5 256.8h0M280.5 257.3h0M283.2 256.3h0M289.3 257.9h0M294.2 256.9h0M298.2 257.1h0M192 260.5h0M194 260.3h0M197.1 259.2h0M199.1 260.2h0M210.9 260.2h0M215.3 259.4h0M219.2 259.7h0M222.3 259.1h0M225.1 260.1h0M226.7 259.7h0M233.3 259.7h0M238.8 258.9h0M240.7 260.4h0M244.5 260.4h0M245.4 258.8h0M248.4 260.2h0M252.7 259.7h0M256.4 260.7h0M261.1 260.7h0M268.7 259.1h0M271.6 259.7h0M276.1 258.9h0M282.7 259h0M285 260.4h0M289.4 260h0M293.4 259.7h0M295.1 258.8h0M196.3 261.8h0M199.1 261.8h0M201.2 262.3h0M205.5 262.9h0M211.5 262.9h0M215.1 261.6h0M220.3 263.5h0M223.2 263.5h0M226 263.3h0M234.7 261.6h0M247.7 262.6h0M250.6 263.5h0M264.1 263.4h0M266.5 263.5h0M269.8 263h0M277.7 262.5h0M283.3 263.5h0M292.4 262.9h0M295.4 261.6h0M298.1 261.9h0M194.8 266.2h0M205.2 265.3h0M207 264.9h0M213.9 264.7h0M216.4 265h0M224.7 266h0M230.8 265.8h0M232.9 265.6h0M234.8 265.3h0M238.5 264.6h0M244.5 264.6h0M248.8 264.8h0M251.5 265.3h0M255.4 264.4h0M256.5 265.8h0M265.6 265.6h0M271.8 265.8h0M275.9 264.4h0M284 266.1h0M290.1 265.4h0M292.9 265.4h0M296.7 265.6h0M192.7 268.4h0M196 267.9h0M201.4 268.7h0M205.7 267.6h0M215.3 268.7h0M220.6 267.2h0M233.2 268.4h0M240.2 267.2h0M243.1 268.4h0M245.2 268.2h0M251.4 269h0M266.2 267.5h0M270.7 268.4h0M272.1 268.3h0M281.8 268h0M288.3 267.7h0M294.7 268.7h0M297 267.8h0M197 271.2h0M199.4 270.5h0M206 271.2h0M213.9 271.6h0M219 271.7h0M220.8 270.9h0M239 270.4h0M241.1 270.8h0M244 270.7h0M252 271.5h0M254.5 271.8h0M258.1 270.1h0M262.4 271.4h0M266 271.7h0M268.3 271.4h0M271 271.7h0M279.5 271.1h0M284.8 270.9h0M193.8 273.1h0M200.5 273.4h0M206.2 273h0M213 274h0M215.2 272.8h0M218.4 273.9h0M220.4 274.5h0M241.8 273h0M244.5 274.1h0M248.6 272.7h0M256.6 273.1h0M259.2 274.4h0M261 273.9h0M270.1 274.1h0M277.4 272.7h0M284 272.6h0M286.4 274.4h0M289 274.2h0M291.4 273.6h0M294.1 272.8h0M296.5 274.5h0M191.4 276.6h0M200.3 275.9h0M208.1 275.6h0M211.4 277.1h0M217 276.3h0M219.5 275.8h0M242.8 277.2h0M257.9 275.7h0M271.5 277.2h0M277.1 276.9h0M285.5 277h0M290.1 276h0M292.2 276.1h0M295.4 275.6h0M215.2 278.8h0M220.1 278.8h0M223.4 278.7h0M233.9 279.9h0M236.3 280h0M238.7 279.1h0M243.2 279.2h0M245 279.5h0M253.8 279.7h0M257.8 279h0M260.8 278.2h0M266.6 278.8h0M270.7 279h0M273.1 279.7h0M275.4 278.5h0M291.1 278.8h0M295.3 278.3h0M297.9 278.5h0M206 281.8h0M207.7 282.5h0M212.8 282.4h0M221.9 282h0M226.9 281.1h0M236.3 281.2h0M240.3 281.3h0M245.8 282.4h0M254.6 281.3h0M257.4 281.6h0M268.9 282h0M270.4 282.2h0M296.6 282.8h0M206.5 284.7h0M219.7 284.5h0M223 283.9h0M226.5 284.4h0M228.4 284.5h0M237.6 284.3h0M240.2 284.3h0M242 283.8h0M247.1 285.2h0M254 284h0M255.8 283.9h0M261.4 284.8h0M264.8 284.2h0M269.1 283.9h0M275.9 285.2h0M280.9 285.2h0M289.4 284.9h0M205.1 287.3h0M207 288.1h0M211.2 286.5h0M221.3 286.4h0M227 287h0M229.4 287.1h0M246.7 286.6h0M248.8 288.2h0M251.9 288h0M257.5 287.2h0M263.3 288.1h0M270.2 287h0M279.3 286.9h0M282.6 288h0M284.9 286.5h0M286.7 287.9h0M291.3 287.3h0M293.6 286.4h0M209.3 290.1h0M213.8 289.7h0M222.5 289.6h0M225.1 289.9h0M228.3 291h0M231.6 290.5h0M239.2 290.6h0M242.7 290.6h0M264.4 290.4h0M269 289.3h0M272.2 289.1h0M274.9 289.5h0M283.1 290.4h0M295.3 289.3h0M296.6 289.8h0M207.7 293.8h0M215.2 293.4h0M221.4 292.3h0M224.7 293.7h0M229.1 293.4h0M240.5 292.9h0M243.2 292h0M246.4 292.8h0M255 291.9h0M271.1 293h0M273.4 292.9h0M277.5 293.3h0M279.7 293.6h0M285.1 292.9h0M292.2 292h0M295.8 292.9h0M205.9 294.6h0M212.3 295.7h0M215.5 294.8h0M217.8 296.5h0M222.3 294.9h0M226 296.1h0M228.5 296h0M230.8 296h0M237 295.8h0M238.6 296h0M253.4 294.6h0M259.6 294.6h0M261 295h0M263.3 294.7h0M272.2 296.4h0M275.7 296.3h0M278.7 296.4h0M283.2 294.8h0M291.5 295.4h0M296.5 295.9h0M191.8 299.3h0M204.6 299.2h0M208.3 298.2h0M211.2 298.3h0M223.8 298.5h0M232.3 297.9h0M259.6 297.5h0M263.3 298.4h0M274.5 299h0M276.1 299.1h0M279.8 299h0M282.7 297.4h0M285.3 297.7h0M292.9 297.9h0M296.9 297.5h0M194.9 302h0M204.2 301.4h0M214.3 300.9h0M218.1 301.6h0M220.9 301.1h0M223.7 300.3h0M228.2 301.9h0M233.1 301.7h0M251.5 301.4h0M256.5 300.7h0M261.5 301.1h0M263.8 301h0M267 301h0M272.6 301.6h0M278.8 301.2h0M286.7 300.8h0M288.6 301.2h0M297.3 302h0M200.1 304h0M201.7 303.5h0M207.2 304.3h0M218.9 303.6h0M222.5 303.7h0M227.7 304.3h0M251.7 303.8h0M260.5 304.7h0M262.9 304.5h0M272.1 303.8h0M276.4 304.4h0M279.4 304.7h0M290.3 303.6h0M296.4 303.2h0M199.2 306h0M228.3 306.2h0M236.6 307.2h0M238.6 307.1h0M243 306.8h0M244.7 307.4h0M249.7 307.4h0M255.5 307.5h0M266.1 305.9h0M269.3 305.7h0M271.8 305.8h0M280.1 307.5h0M282.7 305.9h0M285.4 307h0M288.1 305.7h0M291.9 306.5h0M294.5 306.3h0M219.3 309.3h0M222.1 309.9h0M229.7 309.6h0M235 308.9h0M237.2 308.8h0M241.8 310h0M243 308.3h0M248.3 310.2h0M251.3 309.5h0M254.2 309.9h0M257.9 308.7h0M259.3 310h0M262.7 309h0M266.5 309h0M277.6 308.5h0M281.3 309.1h0M289.8 309.4h0M293.3 309.2h0M192.5 312.6h0M196.5 312.6h0M198.7 312.2h0M201.4 312.4h0M214.2 313h0M218 312.9h0M219.7 312.3h0M226.7 312.2h0M247.4 311.9h0M250.2 312.1h0M263.4 313h0M266.9 312.2h0M269.2 313h0M271.8 311.7h0M274.5 311.6h0M281.1 311.2h0M284.1 312.8h0M286.4 312.8h0M291.4 313h0M295.2 312.1h0M191.6 314h0M197 315.4h0M200.1 315.7h0M204.8 315.5h0M207 315.3h0M209.7 315.8h0M213.2 314.8h0M219.5 314.5h0M226.7 315.4h0M232.9 315.8h0M243 315.1h0M246.4 314.4h0M248.9 314.5h0M256.5 314.6h0M259.7 314.6h0M272.9 315.7h0M277.3 315.3h0M278.4 314.2h0M288.3 315.6h0M290.4 314.6h0M192.5 317h0M194.9 316.6h0M203.8 317h0M209.7 317.3h0M218.5 317.1h0M219.4 317.1h0M223.2 317.5h0M225.7 318.2h0M229.5 317.2h0M234.5 316.8h0M237.5 316.6h0M258.3 317h0M261.3 316.9h0M264.4 318.5h0M269.5 318.5h0M275.8 318.1h0M277.1 318.4h0M284.5 317.1h0M288.9 317.1h0M191 319.9h0M197.7 319.4h0M199 320.6h0M204.2 320.7h0M207 319.9h0M233.3 319.8h0M236.2 321.3h0M255 320.8h0M259.3 320.6h0M262.7 319.5h0M267.5 319.7h0M272.1 319.4h0M277.1 319.8h0M278.9 319.9h0M281.3 321h0M284.3 321.3h0M288.1 320.2h0M292.9 320.7h0M295 319.9h0M196.4 322.9h0M197.6 323.7h0M206.6 323.4h0M209.7 323.5h0M231.3 323.4h0M236.4 323.3h0M247.9 322.6h0M249.9 322.6h0M259.5 322.7h0M261.7 322.3h0M264.9 323.8h0M270.3 323.3h0M272.3 322.1h0M275.1 323.1h0M277.1 323.4h0M280.8 322.4h0M289.3 323.6h0M298.1 322.4h0M191.8 326.1h0M193.9 326.3h0M197.6 325.1h0M205.1 325.2h0M210.7 325.1h0M216.2 324.9h0M232.8 326.7h0M240.5 325.4h0M243.3 325.7h0M246.1 326.6h0M255.2 325.2h0M259.5 326.5h0M264.9 326.1h0M268.6 326.6h0M270.5 326.1h0M275.8 325.5h0M279.8 326.4h0M284.3 326.7h0M286.9 325h0M290.2 324.9h0M293.5 325.4h0M296.2 326h0M198 328.7h0M201.1 328.9h0M206.6 327.8h0M217.5 329.3h0M220.3 329.2h0M223.7 328.9h0M225.6 329.5h0M231.5 328.7h0M236.8 327.6h0M241.3 327.8h0M244.9 328.3h0M247.7 328.5h0M249.9 328.7h0M259 328.4h0M261.2 329.5h0M272.6 327.9h0M275.1 329h0M278.7 329.3h0M280.3 328h0M283.9 328.4h0M291.4 328.8h0M294.4 328h0" stroke="#d572b2" stroke-width="3.1" stroke-linecap="round" fill="none"/>
<path d="M202.1 248.4h0M215.8 248.2h0M219.2 248.3h0M222.1 247.9h0M224 248.3h0M235.8 249.7h0M246.4 249.1h0M252.4 249.3h0M257.5 249.5h0M260.1 249h0M265.6 248.8h0M277.4 248h0M281.2 249.4h0M285.2 248.2h0M288.2 248.5h0M207.5 251.6h0M223.9 251.4h0M233.6 252.2h0M241.8 251.8h0M245.6 250.9h0M248.6 251.1h0M249.7 251.5h0M252.8 252h0M262 252.3h0M270.7 251.2h0M273 251.1h0M277.8 251.3h0M280.4 251.1h0M291.1 251.4h0M294.7 252h0M193.2 255.1h0M229.2 254.1h0M233.6 254.7h0M237.6 254.5h0M247.3 253.5h0M255.6 253.7h0M263.5 254.8h0M268.2 253.5h0M279.7 255.2h0M282.2 254.2h0M284.8 254.4h0M194.6 256.7h0M212.7 258h0M228.2 257.3h0M238.8 256.3h0M245.4 256.8h0M247 256.9h0M255.2 257.6h0M259.4 257h0M264.1 256.1h0M271.7 257.9h0M276.1 256.1h0M278.7 257.6h0M286.2 257.1h0M292.2 257.5h0M201.9 259.8h0M204.5 260.5h0M208.4 259.3h0M213.7 259.9h0M230.8 259.5h0M235.7 260.1h0M254.8 258.9h0M262.7 260.1h0M264.7 259.6h0M274.7 259.9h0M278.5 260.2h0M288 260.2h0M193.6 261.9h0M203.9 263h0M208.4 262.9h0M218.2 262.1h0M228.4 262.3h0M230.7 262.5h0M237.6 263.5h0M240.5 263.2h0M241.7 261.8h0M245.2 263h0M254.1 263h0M256.6 262.8h0M258.7 261.9h0M261.4 263.5h0M275.3 262.4h0M287.3 263.3h0M288.1 262h0M192.1 265.1h0M197.5 264.4h0M200.5 264.5h0M210.2 265.7h0M218.7 265.8h0M222.6 265.5h0M227.6 265.6h0M240.6 264.3h0M247.1 265.2h0M262.9 265h0M268.7 264.8h0M274 264.6h0M278.6 264.4h0M281.4 265h0M288.2 265.6h0M198.2 267.7h0M204.4 268.5h0M208.4 267.5h0M216.9 267.3h0M223.2 268.5h0M225.4 267.5h0M227.8 268.6h0M231.2 268.1h0M236.7 267.6h0M248 267.5h0M253.4 267.3h0M256 267.7h0M274.5 267.3h0M278.6 268.6h0M284.2 267.9h0M287.2 268.7h0M290.9 268.2h0M191.6 271.6h0M194.6 270.7h0M210.5 271.2h0M216.2 270.3h0M246.4 271.5h0M249.6 271.4h0M259.5 270.8h0M274.6 270.4h0M276.4 271.7h0M281.6 270.1h0M287.7 270.8h0M290.7 271.1h0M292.6 271.2h0M296 271.4h0M195.2 274h0M198.1 273.4h0M203.6 273h0M208.8 273.9h0M235.8 273.3h0M240.2 273.7h0M250.2 273.5h0M254.1 273.1h0M265.1 274.3h0M267.4 273.5h0M272.5 273h0M274.8 272.6h0M280 273.5h0M214.1 277.2h0M239.1 275.5h0M241.4 276.3h0M247 275.7h0M249.5 276.3h0M251.4 276.8h0M255.2 277.1h0M259.3 275.6h0M263.1 275.7h0M264.8 276.6h0M268.6 276h0M274.2 276.5h0M278.5 277h0M282.1 275.5h0M287 276.7h0M203 279.3h0M248.2 279.5h0M249.7 278.6h0M255.5 278.6h0M264.1 278.5h0M210.2 281.4h0M218.8 281.1h0M229.5 282.1h0M232.1 280.9h0M237.2 280.9h0M243 281h0M248.6 281.2h0M252 282h0M261 281h0M263.8 281.8h0M273.9 281h0M293.9 281.3h0M209.3 285.1h0M213.8 285.1h0M230.6 283.9h0M234.9 285.1h0M245.6 284.6h0M250.9 285.1h0M266.8 285h0M292.1 285.4h0M295.1 283.6h0M296.7 284.6h0M219.9 287.4h0M224.2 287.8h0M233.3 287.9h0M241.1 286.5h0M243.6 287.9h0M253.9 286.3h0M259.4 287.8h0M265.9 287.9h0M268.7 286.6h0M273.9 287.4h0M275.7 286.7h0M296.3 287.6h0M202.9 290.5h0M207.1 289.9h0M220.1 289.5h0M233.7 289.9h0M245.8 290.1h0M247.3 290.7h0M249.8 290.6h0M253.9 289.4h0M256.5 290.6h0M266.1 291h0M277.4 290.7h0M279.9 289.4h0M287.1 290.1h0M289.9 289.9h0M292 289.2h0M190.8 293h0M202.7 293.8h0M204.2 293.3h0M209.9 293.1h0M227.5 293.5h0M232 292h0M235.9 292h0M237.4 292.2h0M249.2 292h0M251.8 292.9h0M257.2 292.1h0M259.3 293.1h0M269.1 292.9h0M282 293h0M287.3 291.9h0M289.7 291.8h0M200.9 295.2h0M209.3 295.2h0M220.5 295.9h0M251 296.4h0M255.7 295.4h0M280.2 294.9h0M285.8 295.6h0M289.2 296.2h0M293.6 294.9h0M194.2 297.4h0M202 297.5h0M213.9 297.8h0M215.4 297.4h0M221.2 297.6h0M228.1 298.8h0M251.7 298.9h0M253.8 297.6h0M258.4 297.5h0M270.4 299.1h0M287.9 298.9h0M289.6 297.6h0M193.7 301.7h0M206.1 302h0M210.1 300.5h0M212.6 300.6h0M226.6 300.6h0M231.8 301h0M253.2 300.5h0M258.7 301h0M268.9 301.3h0M275.6 300.7h0M280.4 301.5h0M282.6 301.4h0M290.9 300.8h0M295.3 300.9h0M192 304.3h0M194.5 304.4h0M196.4 304.5h0M206.1 304.5h0M238.8 304.1h0M254.4 303.9h0M256.7 303.8h0M265.1 304.6h0M268.3 303.4h0M274.8 302.9h0M282 303.4h0M284.8 303.1h0M287.5 304.1h0M293.8 303.7h0M193 306.4h0M195.5 306.8h0M201.2 307h0M203.1 306.1h0M224.9 306.8h0M247 306.9h0M254 306.1h0M259.5 307.4h0M261.7 306.4h0M264.8 306.2h0M275.8 307.5h0M277.1 305.6h0M297.1 305.7h0M192.3 310.1h0M195.1 308.4h0M196.4 309.8h0M199.8 309.4h0M202.7 310h0M210.7 310.2h0M212.5 310h0M246.4 308.6h0M268.5 308.9h0M271.5 309.6h0M273 308.6h0M278.9 309.5h0M284.6 309.4h0M288.1 309.5h0M295.1 308.9h0M203.4 312.5h0M229 311.5h0M231.8 312.5h0M233.7 311.1h0M242.9 311.7h0M245.1 312.8h0M253.2 311.9h0M255.6 311.6h0M259.1 312.4h0M260.8 311.2h0M278.7 313h0M289.8 312.9h0M296.6 312.9h0M194.6 315h0M216.6 315.6h0M222 315.2h0M224 314h0M229.4 314.5h0M236.3 315.2h0M252.5 315.6h0M254.8 314.4h0M262.1 315.8h0M264.7 314.5h0M268.7 314h0M270.6 314.3h0M281.4 315.3h0M285.7 313.8h0M292.8 315.1h0M295.2 315.2h0M198.9 317.9h0M201.7 317h0M206.7 316.8h0M211.2 317.6h0M238.5 317.6h0M245.1 317.5h0M247.2 317.5h0M250.5 317.5h0M253.8 317.6h0M267.6 317.9h0M271.7 317.9h0M281.5 318.3h0M286.1 317.9h0M292.6 317.1h0M294.6 317.2h0M296.5 317.6h0M194 320.1h0M211 320.1h0M214.4 319.9h0M230.1 321.2h0M237.6 320.2h0M242.9 319.4h0M245.8 320.4h0M249 321.2h0M266.2 321.3h0M274.1 320.8h0M289.8 320.8h0M200.5 322.7h0M211.4 323.1h0M233.4 323.1h0M240.1 323.2h0M245.9 323.4h0M252.9 322.9h0M255.2 323h0M266.4 323.9h0M285.4 322.4h0M291 323.7h0M294.1 323.9h0M199 326.3h0M208.9 326.3h0M218.3 326.7h0M226.6 326.7h0M235 324.9h0M248.7 324.8h0M252.2 325.7h0M256.9 326.6h0M263.5 326h0M274.7 326.4h0M282.8 325.1h0M192.2 328.9h0M195.5 328.2h0M203.1 327.7h0M209.1 329.2h0M211.9 328.2h0M214.1 329.1h0M234.8 329.2h0M239.2 329.2h0M253.2 329h0M256.4 327.7h0M264.1 328.8h0M267.8 329.3h0M269.6 328.2h0M285.7 328.2h0M288.9 329.1h0M297.5 328.7h0" stroke="#c866a4" stroke-width="3" stroke-linecap="round" fill="none"/>
<path d="M191.4 247.8h0M196.9 248.3h0M204.3 249h0M221.9 248.2h0M223.9 248.4h0M232 247.6h0M235.8 249.5h0M238.3 248.2h0M241.1 248.1h0M244.6 248.4h0M248.6 248.6h0M252.2 248.9h0M257.9 249.4h0M263.9 249.2h0M265.4 249h0M271.5 248.6h0M279.2 249.4h0M281 249.5h0M288.4 248.4h0M290.7 248.2h0M293.3 248.3h0M296.5 249.2h0M192.9 250.4h0M198.9 252.4h0M208.6 251.8h0M223.6 251.4h0M228.3 251.2h0M233.6 251.8h0M237.5 252.4h0M242.2 252h0M245.6 251.2h0M248.5 250.9h0M256.5 251.2h0M258.6 251.9h0M263.4 252.6h0M266 251.3h0M270.9 251h0M272.9 251.3h0M274.7 252h0M277.4 251.4h0M282.6 250.9h0M288.4 250.5h0M294.6 252.1h0M296.7 251.4h0M198.9 253.5h0M213.1 254.8h0M215.5 254.9h0M226.8 253.7h0M233.4 254.7h0M235.4 253.2h0M237.2 254.8h0M242.7 253.4h0M247.1 253.1h0M248.6 255.3h0M255.3 253.5h0M256.9 254h0M264.9 253.7h0M273.2 255h0M276.4 253.2h0M285 254.5h0M287.8 254.4h0M291.5 254.5h0M194.4 256.6h0M223.3 257.4h0M228.6 257.5h0M238.5 256.6h0M245.1 257.1h0M254.8 257.9h0M259.4 256.8h0M262.2 257.6h0M264.3 256.1h0M269.5 257.1h0M271.4 258h0M279 257.7h0M286.3 256.8h0M289.6 257.7h0M298.5 257.5h0M194.3 260.4h0M197.4 259.4h0M198.8 260.3h0M208 259.3h0M219 259.3h0M222 259.3h0M233.6 259.4h0M240.5 260.4h0M245.4 258.7h0M248.5 260.2h0M252.7 260h0M256.6 260.5h0M262.8 260.2h0M268.6 259.1h0M271.5 259.6h0M274.3 259.9h0M278.2 260.1h0M282.6 259.1h0M285.2 260.3h0M295.2 258.7h0M205.3 263.2h0M215.2 261.8h0M218.2 262.3h0M220.1 263.5h0M226.1 263.2h0M240.3 263.3h0M250.5 263.6h0M254.3 262.7h0M264.4 263.6h0M266.2 263.5h0M275 262.3h0M277.7 262.4h0M283.6 263.8h0M287.6 262.9h0M287.8 262.2h0M295.4 261.8h0M194.6 266.1h0M197.7 264h0M216.4 264.7h0M219 265.8h0M227.5 265.3h0M231 265.8h0M234.4 265.1h0M238.1 264.9h0M244.6 265h0M248.8 265h0M251.7 264.9h0M256.6 265.4h0M275.8 264.8h0M278.6 264.7h0M288.5 265.4h0M290 265.7h0M195.8 267.9h0M198.6 267.4h0M204.1 268.7h0M208.7 267.2h0M220.5 267.5h0M222.9 268.7h0M225.7 267.1h0M236.3 267.6h0M243.3 268.5h0M244.9 268.3h0M247.7 267.8h0M253.2 267h0M256.2 267.4h0M270.9 268.8h0M274.8 267.1h0M284.1 268h0M287.2 268.8h0M288.3 267.7h0M290.6 268.5h0M294.6 269h0M296.9 267.6h0M197 271.1h0M199.5 270.2h0M205.7 270.8h0M216.2 270.3h0M238.9 270.2h0M241 271.2h0M244.2 270.9h0M254.1 272h0M258.2 270.2h0M271.2 271.9h0M274.5 270.1h0M276.3 271.6h0M281.3 270.3h0M285 270.8h0M287.5 270.8h0M290.4 271.4h0M292.8 270.8h0M295.7 271.3h0M198 273h0M203.4 273.4h0M213.2 273.9h0M220.4 274.6h0M244.6 273.9h0M248.3 272.9h0M250.5 273.3h0M254 272.8h0M270.1 274.1h0M289.1 273.9h0M294.4 273.2h0M200.6 275.6h0M213.9 277.4h0M241.8 276.6h0M246.6 275.6h0M251.4 277.2h0M257.9 276h0M259.3 275.9h0M264.7 276.7h0M271.5 277.6h0M282.3 275.4h0M285.5 277h0M287.2 276.4h0M295.8 275.9h0M215.6 278.9h0M220.3 279.2h0M233.6 280h0M236 279.9h0M248.6 279.4h0M249.3 278.6h0M253.5 279.6h0M255.6 278.3h0M270.5 279.3h0M272.9 279.3h0M275.6 278.2h0M295.4 278.6h0M207.7 282.3h0M210 281.7h0M212.5 282.3h0M218.7 281.1h0M229.1 282h0M236.4 281.6h0M237.6 280.6h0M240.3 281.5h0M242.9 280.7h0M246 282.2h0M254.5 281.3h0M264 281.7h0M270.4 282.2h0M293.9 281.7h0M219.9 284.7h0M223.1 284h0M226.7 284.1h0M230.6 284.2h0M237.6 284.1h0M241.7 284.2h0M246.8 284.9h0M251.1 285.3h0M254.4 283.8h0M289.2 284.8h0M291.8 285.4h0M296.5 285h0M205.1 287.6h0M207.1 288.1h0M211.2 286.2h0M224.6 287.8h0M229.8 286.8h0M243.2 288.1h0M248.7 287.9h0M251.9 287.7h0M259.2 288.1h0M265.5 288.1h0M269 286.6h0M270.1 286.7h0M275.9 286.6h0M282.5 288.2h0M285.2 286.2h0M291.5 287.4h0M293.7 286.5h0M202.8 290.3h0M222.4 289.6h0M225.3 290h0M231.6 290.2h0M247.2 290.7h0M249.7 290.6h0M253.7 289.6h0M256.5 290.5h0M264.7 290.3h0M274.9 289.5h0M280.3 289.1h0M287.5 290.3h0M290 289.6h0M291.9 289.5h0M295.2 289.7h0M297 289.4h0M190.5 293.1h0M203 293.8h0M207.6 293.7h0M210.1 293.1h0M221.1 292.4h0M225 293.7h0M227.2 293.5h0M228.7 293.7h0M236 291.9h0M240.5 293h0M255.4 292.3h0M256.8 292h0M259.5 293.1h0M269.5 292.5h0M270.8 293.2h0M273.7 292.9h0M279.9 293.8h0M285.4 293.1h0M289.7 291.8h0M200.7 295h0M205.9 294.4h0M217.7 296.2h0M222.5 294.7h0M228.2 295.7h0M259.8 294.9h0M263.3 294.9h0M285.6 295.7h0M289.4 296.6h0M291.4 295.6h0M293.5 294.8h0M191.8 299.4h0M202.3 297.2h0M228.3 299h0M232.3 297.7h0M260 297.8h0M279.5 298.7h0M282.8 297.4h0M289.4 297.9h0M292.7 297.5h0M297.2 297.1h0M204.2 301.8h0M206.4 301.6h0M214.5 301.2h0M221.2 301.4h0M231.5 301.4h0M233.1 302h0M251.6 301.8h0M256.4 300.9h0M258.6 300.8h0M261.6 301.4h0M264.1 300.7h0M268.7 301.5h0M278.7 301.5h0M280.6 301.4h0M286.5 300.7h0M295.5 301.1h0M297.3 301.9h0M207.4 304.5h0M218.9 303.7h0M222.9 303.9h0M254.6 304.3h0M260.1 304.9h0M262.6 304.7h0M265.4 304.9h0M279.8 304.7h0M285.1 303h0M287.4 304.1h0M290.2 303.5h0M294 303.8h0M296.6 303h0M192.7 306.6h0M200.9 306.7h0M203.1 305.9h0M224.7 307.1h0M228.1 306.4h0M236.6 307.2h0M244.3 307.3h0M247 306.9h0M250.1 307.5h0M255.1 307.5h0M265.2 306.5h0M266.3 305.8h0M269.4 306.1h0M271.7 305.6h0M276.1 307.5h0M282.7 305.6h0M285.7 307h0M288 305.5h0M292.3 306.3h0M297.3 305.5h0M196.2 309.6h0M199.9 309.6h0M202.7 310.2h0M212.1 309.6h0M221.8 310.2h0M235.2 309.2h0M237.5 309.1h0M242.7 308.4h0M248.1 310.1h0M251.5 309.7h0M258.2 308.5h0M262.3 309.2h0M266.8 308.8h0M271.8 309.6h0M281.1 309.3h0M288 309.1h0M295.1 308.7h0M198.5 312.5h0M201.1 312h0M217.8 312.7h0M219.5 312.3h0M226.5 312h0M231.7 312.9h0M233.7 311h0M242.7 311.8h0M247.1 311.9h0M250.5 312.4h0M263.5 313.1h0M267.1 312.3h0M271.7 311.8h0M274.3 311.5h0M278.4 312.7h0M284.2 313.2h0M286.5 313h0M289.4 312.5h0M291.3 312.8h0M295.6 311.9h0M191.7 314.3h0M223.7 314.2h0M226.5 315h0M229.6 314.7h0M232.9 316.1h0M236.1 315.5h0M243.4 314.9h0M246.1 314.7h0M249.2 314.5h0M259.8 314.3h0M262.2 316h0M270.9 314.4h0M272.8 315.6h0M277.6 315.3h0M278.1 313.9h0M288.3 315.5h0M293.2 314.9h0M192.8 317.2h0M195.1 316.7h0M206.8 316.9h0M209.8 317h0M211.3 317.4h0M218.5 317.1h0M234.9 316.8h0M238.9 317.3h0M250.2 317.6h0M253.6 317.9h0M261 317.2h0M268 318.2h0M269.5 318.6h0M276.9 318.6h0M281.4 318.3h0M284.2 316.9h0M286.1 317.6h0M289 317.2h0M294.4 317.6h0M191.1 319.6h0M193.7 320.2h0M204.4 320.6h0M255.1 320.4h0M262.4 319.2h0M267.5 319.3h0M271.8 319.7h0M273.8 320.5h0M277.4 319.5h0M278.9 319.6h0M281.3 320.6h0M288.1 320.4h0M206.4 323.5h0M209.4 323.2h0M231.5 323.7h0M236.5 323.3h0M248 322.5h0M250 322.5h0M259.4 322.6h0M266.4 324.1h0M275 322.9h0M276.7 323.5h0M289.2 323.6h0M294.4 323.7h0M197.4 324.8h0M210.5 325.2h0M226.5 326.5h0M235.1 325h0M240.5 325.5h0M245.8 326.6h0M249.1 324.9h0M252.6 325.8h0M255.5 325h0M259.5 326.8h0M265.1 326h0M268.6 326.8h0M270.2 325.9h0M274.3 326.6h0M276.1 325.6h0M283.1 324.9h0M284 326.6h0M289.9 325.1h0M293.7 325.2h0M296.1 325.8h0M195.3 327.9h0M197.7 328.6h0M203.2 327.6h0M206.7 327.5h0M209.2 329.2h0M217.7 329.4h0M223.5 329.2h0M225.4 329.4h0M241.5 328.2h0M245.2 328.1h0M247.4 328.6h0M250.2 328.6h0M252.8 329h0M256.5 327.9h0M261.3 329.3h0M264 329.1h0M267.4 329.1h0M269.9 327.8h0M272.7 328.2h0M274.9 328.8h0M279.1 329.2h0M288.9 329.1h0M291.2 329.2h0" stroke="#7c2c78" stroke-width="1.9" stroke-linecap="round" fill="none"/>
<path d="M198.9 249.5h0M202.1 248.1h0M215.8 247.9h0M219.5 248.1h0M229.3 249.5h0M246.3 249.2h0M254.2 249.8h0M260.5 249.4h0M268.2 249.5h0M274.4 248.1h0M277.4 247.9h0M284.9 247.9h0M195.3 251.8h0M207.7 251.3h0M220.8 251.4h0M225.8 252.4h0M250 251.1h0M253 251.7h0M262 252h0M280.5 250.7h0M285.4 251.8h0M291.1 251.5h0M192.4 254.2h0M193.1 255.1h0M228.9 254h0M251.8 254.3h0M260.3 254.4h0M263.5 254.6h0M268 253.2h0M270.9 253.6h0M282.2 254.4h0M296.7 254.1h0M192.8 256.7h0M198.3 256.7h0M215.1 257.1h0M217 257.6h0M225.8 257.5h0M234.3 257.3h0M237.1 256.2h0M242.3 257.6h0M247.4 256.9h0M249.6 257.1h0M267.6 257.6h0M276 255.7h0M280.7 257.5h0M283.5 256h0M294 256.7h0M192 260.7h0M202.2 259.7h0M210.9 260.1h0M213.4 259.9h0M215.4 259.5h0M225.4 260h0M235.3 259.8h0M238.5 258.8h0M244.2 260.5h0M255 259.2h0M261.3 260.9h0M264.7 259.6h0M275.9 258.6h0M287.8 260.6h0M289.3 259.9h0M293.4 259.9h0M193.4 261.8h0M196.7 261.9h0M199.2 262h0M201.5 262.6h0M208.6 263h0M228.7 262.3h0M230.5 262.2h0M234.6 261.7h0M237.4 263.2h0M241.6 261.5h0M245.4 263.3h0M247.8 262.3h0M256.6 262.9h0M258.4 261.6h0M261 263.2h0M269.8 263.1h0M292.3 262.9h0M298.5 261.8h0M192.3 265.5h0M200.4 264.6h0M206.6 264.8h0M210.2 265.7h0M224.4 265.7h0M241 264.1h0M255.4 264.3h0M262.9 264.8h0M268.4 265h0M271.8 266.1h0M274.4 264.5h0M281.5 265.3h0M283.6 265.7h0M293.2 265.3h0M296.6 265.3h0M192.6 268.7h0M201.8 268.8h0M227.6 268.9h0M233.2 268.6h0M240.1 267.3h0M251.1 268.7h0M266 267.4h0M272.2 268.6h0M278.4 268.9h0M281.7 267.6h0M191.7 271.3h0M194.5 270.8h0M210.8 271.1h0M219.4 271.5h0M220.8 271.2h0M246.7 271.2h0M249.9 271h0M252.1 271.7h0M262.3 271.6h0M266.4 271.5h0M268.3 271.6h0M279.3 271.3h0M194 273.1h0M195.2 274.2h0M206 273h0M215.3 272.5h0M235.9 273h0M256.9 273.1h0M259.4 274.6h0M261.3 273.7h0M267.5 273.1h0M272.7 273.2h0M274.9 272.3h0M277.5 272.4h0M280.3 273.6h0M283.8 272.6h0M286.7 274.5h0M296.3 274.3h0M191.3 276.5h0M208 276h0M211.4 277.4h0M216.9 276.2h0M219.2 275.6h0M238.8 275.3h0M249.8 276.1h0M255.2 277.3h0M263.2 275.9h0M268.8 276.1h0M274.2 276.2h0M277.2 276.5h0M278.1 276.6h0M290.5 276h0M292.5 276.1h0M203.2 279.4h0M238.6 279.4h0M243 279.6h0M245.4 279.2h0M258.2 279.3h0M260.9 278.6h0M263.8 278.5h0M266.9 278.8h0M291.3 279.1h0M206.4 282.1h0M222.1 281.8h0M226.8 281.1h0M232.1 280.7h0M248.8 280.9h0M252.1 282.3h0M257.5 281.9h0M261.3 280.6h0M268.8 281.8h0M274.1 281h0M296.6 283h0M206.4 284.5h0M209.3 284.8h0M228.1 284.1h0M240.6 284h0M245.5 284.7h0M255.8 284.1h0M261.2 284.4h0M264.5 284.6h0M266.4 284.7h0M275.7 285.5h0M281.2 284.9h0M295.5 283.5h0M219.5 287.1h0M221.3 286.6h0M226.7 286.8h0M241.3 286.4h0M246.7 286.4h0M253.9 286.1h0M263 288.4h0M273.6 287.1h0M279.6 287.1h0M287 287.7h0M296.5 287.3h0M209.7 289.8h0M219.9 289.9h0M228.2 290.9h0M234 290.1h0M242.4 290.6h0M246.2 290.1h0M266.3 291.4h0M272.5 288.8h0M277.4 291h0M214.9 293.1h0M237 292.3h0M243.1 291.9h0M246 293.1h0M249.2 292.4h0M251.6 293.3h0M277.6 293.6h0M282 293.1h0M292.5 291.8h0M295.6 292.8h0M215.6 294.7h0M220.2 296h0M230.8 296.3h0M237.4 295.5h0M238.6 296.4h0M250.9 296.2h0M253.4 294.5h0M260.9 295.1h0M272.6 296.4h0M275.6 296.5h0M278.5 296.7h0M282.9 294.6h0M296.6 296.1h0M208.3 298.4h0M210.8 298.4h0M214.3 298h0M215.8 297.1h0M223.9 298.3h0M251.6 299.1h0M253.9 297.5h0M258.3 297.6h0M263.6 298.6h0M270 299.4h0M274.7 299.3h0M276 299.1h0M285.4 297.6h0M288 299h0M193.9 301.5h0M210.5 300.8h0M212.9 300.6h0M223.3 300.5h0M226.5 300.5h0M227.8 301.9h0M253.3 300.4h0M267 300.9h0M272.6 302h0M275.3 300.3h0M282.5 301.4h0M288.8 301.3h0M290.9 301.1h0M192.3 304.3h0M200.1 304.3h0M239.1 303.7h0M251.6 303.5h0M257 303.7h0M268.1 303.5h0M272 303.4h0M274.9 302.6h0M276.6 304.2h0M282 303.5h0M238.7 307.2h0M243.1 306.7h0M253.7 306.1h0M259.2 307.7h0M261.3 306.5h0M277.1 305.4h0M279.8 307.4h0M294.1 306.6h0M210.7 310.3h0M246.8 308.3h0M254.1 310h0M259.6 310h0M268.3 309.1h0M273.3 308.9h0M277.7 308.1h0M278.9 309.5h0M285 309.1h0M293.6 308.9h0M203.4 312.2h0M214.3 313.3h0M245 312.9h0M253 312.3h0M259.3 312.4h0M260.7 311.2h0M269 313h0M281.1 311.5h0M296.3 313.1h0M196.7 315.5h0M207.2 315.5h0M216.5 315.7h0M219.6 314.2h0M222.4 315.5h0M252.4 315.5h0M254.5 314.2h0M256.1 314.8h0M264.5 314.6h0M281.1 315.3h0M290.2 314.9h0M295.1 315h0M202 316.9h0M223.1 317.4h0M225.9 317.9h0M229.6 317.6h0M245 317.3h0M246.9 317.1h0M258.3 316.7h0M264.8 318.9h0M271.3 318.1h0M275.6 317.9h0M292.7 317h0M296.1 317.8h0M197.7 319.7h0M206.9 319.6h0M211 320.5h0M214.4 320.1h0M237.9 320h0M243.2 319h0M245.5 320.7h0M249.3 321.2h0M259 320.9h0M266.6 321.5h0M284.4 321.4h0M290 321.1h0M292.9 321h0M294.9 319.8h0M196.3 323.2h0M197.7 323.8h0M211.7 323.4h0M246.1 323.3h0M252.8 322.8h0M255.1 323h0M261.3 322.7h0M264.5 323.5h0M270.3 323.6h0M272.2 322h0M281 322.4h0M285.2 322.1h0M291.3 324h0M298 322.3h0M192.1 326.5h0M194.1 326h0M204.8 325.4h0M209.1 326.5h0M218.7 326.4h0M232.8 326.9h0M257 326.8h0M263.3 326.2h0M279.6 326.1h0M286.9 324.9h0M214.5 329.5h0M220.1 329.3h0M231.7 328.4h0M234.4 329.3h0M236.7 327.6h0M239.1 329.4h0M259.1 328.7h0M280.4 328.2h0M283.6 328.5h0M285.6 327.9h0M294.1 327.6h0M297.4 329h0" stroke="#62226a" stroke-width="1.7" stroke-linecap="round" fill="none"/>
<ellipse cx="201" cy="258" rx="5.5" ry="5" fill="#cb8cb8"/>
<ellipse cx="201.4" cy="258.3" rx="3" ry="2.8" fill="#ad68a0"/>
<ellipse cx="244" cy="278" rx="6.5" ry="6" fill="#cb8cb8"/>
<ellipse cx="244.4" cy="278.3" rx="3.6" ry="3.3" fill="#ad68a0"/>
<ellipse cx="213" cy="295" rx="5.5" ry="4" fill="#cb8cb8"/>
<ellipse cx="213.4" cy="295.3" rx="3" ry="2.2" fill="#ad68a0"/>
<ellipse cx="283" cy="287" rx="6" ry="5" fill="#cb8cb8"/>
<ellipse cx="283.4" cy="287.3" rx="3.3" ry="2.8" fill="#ad68a0"/>
<ellipse cx="213" cy="311" rx="7" ry="5" fill="#cb8cb8"/>
<ellipse cx="213.4" cy="311.3" rx="3.9" ry="2.8" fill="#ad68a0"/>
<ellipse cx="227" cy="316" rx="6" ry="5" fill="#cb8cb8"/>
<ellipse cx="227.4" cy="316.3" rx="3.3" ry="2.8" fill="#ad68a0"/>
<ellipse cx="242" cy="308" rx="6" ry="6" fill="#cb8cb8"/>
<ellipse cx="242.4" cy="308.3" rx="3.3" ry="3.3" fill="#ad68a0"/>
<ellipse cx="229" cy="273" rx="5.5" ry="5" fill="#cb8cb8"/>
<ellipse cx="229.4" cy="273.3" rx="3" ry="2.8" fill="#ad68a0"/>
<ellipse cx="232" cy="256" rx="5" ry="4" fill="#cb8cb8"/>
<ellipse cx="232.4" cy="256.3" rx="2.8" ry="2.2" fill="#ad68a0"/>
<ellipse cx="252" cy="300" rx="5" ry="4" fill="#cb8cb8"/>
<ellipse cx="252.4" cy="300.3" rx="2.8" ry="2.2" fill="#ad68a0"/>
</g>
<polygon points="194.6,272.4 196.9,266.7 193.5,267.9 200,263 201.3,271.1 199.7,267.8 197.4,273.6" fill="#1a22e6"/>
<polygon points="230.2,288.7 236.3,284.8 232.8,283.8 241,283.6 237.4,290.9 237.9,287.3 231.8,291.3" fill="#1a22e6"/>
<polygon points="200.3,301.7 206.2,298.7 202.9,297.4 211,298 206.6,304.9 207.6,301.4 201.7,304.3" fill="#1a22e6"/>
<polygon points="275.6,302.4 278.3,296.1 274.8,297.3 281.4,292.4 282.6,300.5 281,297.2 278.4,303.6" fill="#1a22e6"/>
<polygon points="199.2,319.7 203.3,317.2 199.8,316.1 208,316 204.3,323.3 204.9,319.7 200.8,322.3" fill="#1a22e6"/>
<polygon points="209.5,323.6 217.2,320.6 214,319 222,320.4 217,326.8 218.2,323.4 210.5,326.4" fill="#1a22e6"/>
<polygon points="234,325.4 237.3,318.5 233.8,319.5 240.6,315 241.4,323.1 240,319.8 236.8,326.6" fill="#1a22e6"/>
</g>
<g fill="none" stroke="#f1d534" stroke-width="1.8" stroke-dasharray="7.5 1.5">
<rect x="94.6" y="181" width="50.8" height="36"/>
<rect x="211" y="181.6" width="49" height="36.4"/>
</g>
<path d="M94.6 217L78.4 249M145.4 217L180 249M211 218L192 249M260 218L294 249" fill="none" stroke="#e8dc3a" stroke-width="1.8" stroke-dasharray="7 1.6"/>
<text x="127.8" y="232.1" font-size="8.2" font-weight="bold" text-anchor="middle" fill="#111" textLength="23.4" lengthAdjust="spacingAndGlyphs">100µm</text>
<line x1="115.6" y1="234.6" x2="139.4" y2="234.6" stroke="#111" stroke-width="1.5"/>
<text x="238.6" y="232.3" font-size="8.2" font-weight="bold" text-anchor="middle" fill="#111" textLength="23.4" lengthAdjust="spacingAndGlyphs">100µm</text>
<line x1="227" y1="234.8" x2="250.2" y2="234.8" stroke="#111" stroke-width="1.5"/>
<rect x="0.75" y="0.7" width="518.5" height="654.55" fill="none" stroke="#000" stroke-width="1.5"/>
</svg></body></html>
